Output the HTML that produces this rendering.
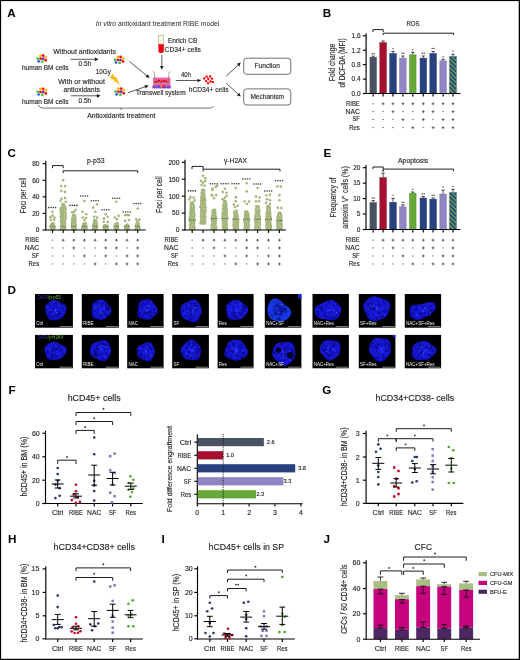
<!DOCTYPE html>
<html><head><meta charset="utf-8"><style>
html,body{margin:0;padding:0;background:#fff;}
body{width:520px;height:660px;overflow:hidden;}
svg{display:block;font-family:"Liberation Sans",sans-serif;will-change:transform;}
</style></head><body>
<svg width="520" height="660" viewBox="0 0 520 660">
<rect x="0" y="0" width="520" height="660" fill="#fff"/>
<text x="7.20" y="16.90" font-size="11.7" text-anchor="start" fill="#000" style="font-weight:bold;">A</text>
<text x="95.8" y="25.6" font-size="7.3" fill="#231f20" textLength="123.4" lengthAdjust="spacingAndGlyphs"><tspan style="font-style:italic">In vitro</tspan> antioxidant treatment RIBE model</text>
<circle cx="40.50" cy="55.60" r="1.35" fill="#ffb400"/>
<circle cx="43.20" cy="55.60" r="1.35" fill="#ff0000"/>
<circle cx="45.80" cy="57.00" r="1.35" fill="#ffb400"/>
<circle cx="37.70" cy="58.60" r="1.35" fill="#44bb33"/>
<circle cx="40.50" cy="58.70" r="1.35" fill="#ff0000"/>
<circle cx="43.20" cy="58.70" r="1.35" fill="#6a2aa8"/>
<circle cx="45.70" cy="60.20" r="1.35" fill="#ff0000"/>
<circle cx="38.70" cy="61.30" r="1.35" fill="#2255dd"/>
<circle cx="42.30" cy="61.70" r="1.35" fill="#44bb33"/>
<circle cx="40.50" cy="88.80" r="1.35" fill="#ffb400"/>
<circle cx="43.20" cy="88.80" r="1.35" fill="#ff0000"/>
<circle cx="45.80" cy="90.20" r="1.35" fill="#ffb400"/>
<circle cx="37.70" cy="91.80" r="1.35" fill="#44bb33"/>
<circle cx="40.50" cy="91.90" r="1.35" fill="#ff0000"/>
<circle cx="43.20" cy="91.90" r="1.35" fill="#6a2aa8"/>
<circle cx="45.70" cy="93.40" r="1.35" fill="#ff0000"/>
<circle cx="38.70" cy="94.50" r="1.35" fill="#2255dd"/>
<circle cx="42.30" cy="94.90" r="1.35" fill="#44bb33"/>
<circle cx="117.80" cy="56.80" r="1.35" fill="#ffb400"/>
<circle cx="120.50" cy="56.80" r="1.35" fill="#ff0000"/>
<circle cx="123.10" cy="58.20" r="1.35" fill="#ffb400"/>
<circle cx="115.00" cy="59.80" r="1.35" fill="#44bb33"/>
<circle cx="117.80" cy="59.90" r="1.35" fill="#ff0000"/>
<circle cx="120.50" cy="59.90" r="1.35" fill="#6a2aa8"/>
<circle cx="123.00" cy="61.40" r="1.35" fill="#ff0000"/>
<circle cx="116.00" cy="62.50" r="1.35" fill="#2255dd"/>
<circle cx="119.60" cy="62.90" r="1.35" fill="#44bb33"/>
<circle cx="118.50" cy="88.60" r="1.35" fill="#ffb400"/>
<circle cx="121.20" cy="88.60" r="1.35" fill="#ff0000"/>
<circle cx="123.80" cy="90.00" r="1.35" fill="#ffb400"/>
<circle cx="115.70" cy="91.60" r="1.35" fill="#44bb33"/>
<circle cx="118.50" cy="91.70" r="1.35" fill="#ff0000"/>
<circle cx="121.20" cy="91.70" r="1.35" fill="#6a2aa8"/>
<circle cx="123.70" cy="93.20" r="1.35" fill="#ff0000"/>
<circle cx="116.70" cy="94.30" r="1.35" fill="#2255dd"/>
<circle cx="120.30" cy="94.70" r="1.35" fill="#44bb33"/>
<text x="21.90" y="70.40" font-size="7.3" text-anchor="start" fill="#231f20" stroke="#231f20" stroke-width="0.14" textLength="46.60" lengthAdjust="spacingAndGlyphs" style="">human BM cells</text>
<text x="21.90" y="103.80" font-size="7.3" text-anchor="start" fill="#231f20" stroke="#231f20" stroke-width="0.14" textLength="46.60" lengthAdjust="spacingAndGlyphs" style="">human BM cells</text>
<text x="53.30" y="54.40" font-size="7.3" text-anchor="start" fill="#231f20" stroke="#231f20" stroke-width="0.14" textLength="62.60" lengthAdjust="spacingAndGlyphs" style="">Without antioxidants</text>
<text x="78.50" y="66.00" font-size="7.3" text-anchor="start" fill="#231f20" stroke="#231f20" stroke-width="0.14" textLength="12.80" lengthAdjust="spacingAndGlyphs" style="">0.5h</text>
<text x="58.20" y="84.20" font-size="7.3" text-anchor="start" fill="#231f20" stroke="#231f20" stroke-width="0.14" textLength="46.80" lengthAdjust="spacingAndGlyphs" style="">With or without</text>
<text x="63.50" y="91.60" font-size="7.3" text-anchor="start" fill="#231f20" stroke="#231f20" stroke-width="0.14" textLength="36.50" lengthAdjust="spacingAndGlyphs" style="">antioxidants</text>
<text x="78.50" y="103.40" font-size="7.3" text-anchor="start" fill="#231f20" stroke="#231f20" stroke-width="0.14" textLength="12.70" lengthAdjust="spacingAndGlyphs" style="">0.5h</text>
<text x="95.80" y="74.30" font-size="7.3" text-anchor="start" fill="#231f20" stroke="#231f20" stroke-width="0.14" textLength="15.00" lengthAdjust="spacingAndGlyphs" style="">10Gy</text>
<line x1="70.80" y1="59.30" x2="95.10" y2="59.30" stroke="#3c3c3c" stroke-width="0.85"/>
<path d="M98.50,59.30 L94.80,61.15 L94.80,57.45 Z" fill="#1a1a1a"/>
<line x1="71.00" y1="95.80" x2="97.20" y2="95.80" stroke="#3c3c3c" stroke-width="0.85"/>
<path d="M100.60,95.80 L96.90,97.65 L96.90,93.95 Z" fill="#1a1a1a"/>
<line x1="129.40" y1="61.50" x2="146.97" y2="75.85" stroke="#3c3c3c" stroke-width="0.85"/>
<path d="M149.60,78.00 L145.56,77.09 L147.90,74.23 Z" fill="#1a1a1a"/>
<line x1="128.00" y1="92.70" x2="145.39" y2="86.71" stroke="#3c3c3c" stroke-width="0.85"/>
<path d="M148.60,85.60 L145.70,88.55 L144.50,85.06 Z" fill="#1a1a1a"/>
<line x1="161.80" y1="55.00" x2="161.80" y2="66.40" stroke="#3c3c3c" stroke-width="0.85"/>
<path d="M161.80,69.80 L159.95,66.10 L163.65,66.10 Z" fill="#1a1a1a"/>
<line x1="175.80" y1="80.50" x2="197.80" y2="80.50" stroke="#3c3c3c" stroke-width="0.85"/>
<path d="M201.20,80.50 L197.50,82.35 L197.50,78.65 Z" fill="#1a1a1a"/>
<line x1="226.20" y1="76.20" x2="238.31" y2="64.92" stroke="#3c3c3c" stroke-width="0.85"/>
<path d="M240.80,62.60 L239.35,66.48 L236.83,63.77 Z" fill="#1a1a1a"/>
<line x1="226.20" y1="83.20" x2="238.30" y2="94.30" stroke="#3c3c3c" stroke-width="0.85"/>
<path d="M240.80,96.60 L236.82,95.46 L239.33,92.74 Z" fill="#1a1a1a"/>
<path d="M112.3,73.8 L114.6,77.0 L116.3,77.3 L117.7,80.3 L120.3,85.4 L116.6,82.0 L114.9,81.9 L113.3,79.6 L109.9,78.0 Z" fill="#ffb70c"/>
<rect x="158.4" y="35.3" width="5.4" height="9.2" fill="#fbf6d8" stroke="#999" stroke-width="0.5"/>
<path d="M158.4,44.3 H163.8 V51.2 Q163.8,52.9 161.1,52.9 Q158.4,52.9 158.4,51.2 Z" fill="#e8000b"/>
<text x="168.00" y="42.70" font-size="7.3" text-anchor="start" fill="#231f20" stroke="#231f20" stroke-width="0.14" textLength="29.30" lengthAdjust="spacingAndGlyphs" style="">Enrich CB</text>
<text x="164.60" y="51.50" font-size="7.3" text-anchor="start" fill="#231f20" stroke="#231f20" stroke-width="0.14" textLength="36.20" lengthAdjust="spacingAndGlyphs" style="">CD34+ cells</text>
<rect x="153.00" y="77.60" width="17.40" height="8.40" fill="#f0609c" stroke="none" stroke-width="0"/>
<rect x="152.40" y="85.70" width="18.40" height="2.70" fill="#9a30f0" stroke="none" stroke-width="0"/>
<path d="M152.7,71.3 Q154.4,71.6 154.6,74 L154.8,83.4 H168.6 L168.8,74 Q169,71.6 170.6,71.3" fill="none" stroke="#777" stroke-width="0.6"/>
<line x1="155.20" y1="83.50" x2="168.20" y2="83.50" stroke="#c8c8c8" stroke-width="0.6" stroke-dasharray="0.8,0.6"/>
<circle cx="156.20" cy="81.90" r="1.15" fill="#ff0000"/>
<circle cx="158.90" cy="80.90" r="1.15" fill="#ff0000"/>
<circle cx="161.40" cy="81.70" r="1.15" fill="#ff0000"/>
<circle cx="163.90" cy="80.90" r="1.15" fill="#ff0000"/>
<circle cx="166.30" cy="81.60" r="1.15" fill="#ff0000"/>
<circle cx="156.00" cy="86.50" r="1.0" fill="#33bb33"/>
<circle cx="158.80" cy="86.50" r="1.0" fill="#2255ee"/>
<circle cx="161.30" cy="86.50" r="1.0" fill="#ffb000"/>
<circle cx="163.80" cy="86.50" r="1.0" fill="#ff0000"/>
<circle cx="166.40" cy="86.50" r="1.0" fill="#33bb33"/>
<text x="135.90" y="95.40" font-size="7.3" text-anchor="start" fill="#231f20" stroke="#231f20" stroke-width="0.14" textLength="49.70" lengthAdjust="spacingAndGlyphs" style="">Transwell system</text>
<text x="181.00" y="77.30" font-size="7.3" text-anchor="start" fill="#231f20" stroke="#231f20" stroke-width="0.14" textLength="10.00" lengthAdjust="spacingAndGlyphs" style="">40h</text>
<circle cx="206.70" cy="76.60" r="1.2" fill="#ff0000"/>
<circle cx="210.10" cy="76.40" r="1.2" fill="#ff0000"/>
<circle cx="204.30" cy="78.40" r="1.2" fill="#ff0000"/>
<circle cx="208.30" cy="79.00" r="1.2" fill="#ff0000"/>
<circle cx="212.00" cy="78.60" r="1.2" fill="#ff0000"/>
<circle cx="206.10" cy="81.10" r="1.2" fill="#ff0000"/>
<circle cx="210.40" cy="81.40" r="1.2" fill="#ff0000"/>
<circle cx="212.80" cy="81.90" r="1.2" fill="#ff0000"/>
<circle cx="208.00" cy="83.10" r="1.2" fill="#ff0000"/>
<text x="188.80" y="92.30" font-size="7.3" text-anchor="start" fill="#231f20" stroke="#231f20" stroke-width="0.14" textLength="39.70" lengthAdjust="spacingAndGlyphs" style="">hCD34+ cells</text>
<rect x="243.7" y="58.2" width="47.1" height="16.1" rx="3" fill="none" stroke="#333" stroke-width="0.7"/>
<rect x="243.7" y="88.9" width="47.1" height="16.1" rx="3" fill="none" stroke="#333" stroke-width="0.7"/>
<text x="254.40" y="68.20" font-size="7.3" text-anchor="start" fill="#231f20" stroke="#231f20" stroke-width="0.14" textLength="25.60" lengthAdjust="spacingAndGlyphs" style="">Function</text>
<text x="250.40" y="98.90" font-size="7.3" text-anchor="start" fill="#231f20" stroke="#231f20" stroke-width="0.14" textLength="33.50" lengthAdjust="spacingAndGlyphs" style="">Mechanism</text>
<path d="M38.0,104.8 Q39.6,108.1 43.2,108.1 H209.4 Q212.0,108.1 213.5,106.5" fill="none" stroke="#444" stroke-width="0.75"/>
<path d="M121.0,108.1 V110.0" fill="none" stroke="#444" stroke-width="0.75"/>
<text x="87.30" y="118.20" font-size="7.3" text-anchor="start" fill="#231f20" stroke="#231f20" stroke-width="0.14" textLength="68.20" lengthAdjust="spacingAndGlyphs" style="">Antioxidants treatment</text>
<text x="322.80" y="17.30" font-size="11.7" text-anchor="start" fill="#000" style="font-weight:bold;">B</text>
<line x1="366.10" y1="33.20" x2="366.10" y2="94.08" stroke="#000" stroke-width="1.15"/>
<line x1="362.90" y1="93.50" x2="366.10" y2="93.50" stroke="#000" stroke-width="1.15"/>
<text x="360.60" y="95.84" font-size="6.5" text-anchor="end" fill="#231f20" stroke="#231f20" stroke-width="0.14" style="">0.0</text>
<line x1="362.90" y1="79.08" x2="366.10" y2="79.08" stroke="#000" stroke-width="1.15"/>
<text x="360.60" y="81.42" font-size="6.5" text-anchor="end" fill="#231f20" stroke="#231f20" stroke-width="0.14" style="">0.4</text>
<line x1="362.90" y1="64.65" x2="366.10" y2="64.65" stroke="#000" stroke-width="1.15"/>
<text x="360.60" y="66.99" font-size="6.5" text-anchor="end" fill="#231f20" stroke="#231f20" stroke-width="0.14" style="">0.8</text>
<line x1="362.90" y1="50.23" x2="366.10" y2="50.23" stroke="#000" stroke-width="1.15"/>
<text x="360.60" y="52.56" font-size="6.5" text-anchor="end" fill="#231f20" stroke="#231f20" stroke-width="0.14" style="">1.2</text>
<line x1="362.90" y1="35.80" x2="366.10" y2="35.80" stroke="#000" stroke-width="1.15"/>
<text x="360.60" y="38.14" font-size="6.5" text-anchor="end" fill="#231f20" stroke="#231f20" stroke-width="0.14" style="">1.6</text>
<rect x="369.95" y="57.25" width="6.50" height="36.25" fill="#4a5165" stroke="#3d4355" stroke-width="0.5"/>
<line x1="373.20" y1="57.00" x2="373.20" y2="56.20" stroke="#111" stroke-width="0.7"/>
<line x1="371.60" y1="56.20" x2="374.80" y2="56.20" stroke="#111" stroke-width="0.8"/>
<circle cx="372.25" cy="53.70" r="0.7" fill="#3a3a3a"/>
<circle cx="374.15" cy="53.70" r="0.7" fill="#3a3a3a"/>
<rect x="379.85" y="42.65" width="6.50" height="50.85" fill="#a60f2d" stroke="#8f0a25" stroke-width="0.5"/>
<line x1="383.10" y1="42.40" x2="383.10" y2="41.00" stroke="#111" stroke-width="0.7"/>
<line x1="381.50" y1="41.00" x2="384.70" y2="41.00" stroke="#111" stroke-width="0.8"/>
<rect x="389.75" y="53.55" width="6.50" height="39.95" fill="#27427e" stroke="#1d3566" stroke-width="0.5"/>
<line x1="393.00" y1="53.30" x2="393.00" y2="51.50" stroke="#111" stroke-width="0.7"/>
<line x1="391.40" y1="51.50" x2="394.60" y2="51.50" stroke="#111" stroke-width="0.8"/>
<circle cx="393.00" cy="48.80" r="0.7" fill="#3a3a3a"/>
<rect x="399.65" y="58.15" width="6.50" height="35.35" fill="#8e86c2" stroke="#7a70b0" stroke-width="0.5"/>
<line x1="402.90" y1="57.90" x2="402.90" y2="56.00" stroke="#111" stroke-width="0.7"/>
<line x1="401.30" y1="56.00" x2="404.50" y2="56.00" stroke="#111" stroke-width="0.8"/>
<circle cx="401.95" cy="53.30" r="0.7" fill="#3a3a3a"/>
<circle cx="403.85" cy="53.30" r="0.7" fill="#3a3a3a"/>
<rect x="409.55" y="54.85" width="6.50" height="38.65" fill="#67a83a" stroke="#4f8a2a" stroke-width="0.5"/>
<line x1="412.80" y1="54.60" x2="412.80" y2="52.40" stroke="#111" stroke-width="0.7"/>
<line x1="411.20" y1="52.40" x2="414.40" y2="52.40" stroke="#111" stroke-width="0.8"/>
<circle cx="412.80" cy="49.70" r="0.7" fill="#3a3a3a"/>
<rect x="420.05" y="58.15" width="6.50" height="35.35" fill="#27427e" stroke="#1d3566" stroke-width="0.5"/>
<line x1="423.30" y1="57.90" x2="423.30" y2="56.00" stroke="#111" stroke-width="0.7"/>
<line x1="421.70" y1="56.00" x2="424.90" y2="56.00" stroke="#111" stroke-width="0.8"/>
<circle cx="422.35" cy="53.30" r="0.7" fill="#3a3a3a"/>
<circle cx="424.25" cy="53.30" r="0.7" fill="#3a3a3a"/>
<rect x="429.85" y="53.55" width="6.50" height="39.95" fill="#27427e" stroke="#1d3566" stroke-width="0.5"/>
<line x1="433.10" y1="53.30" x2="433.10" y2="51.50" stroke="#111" stroke-width="0.7"/>
<line x1="431.50" y1="51.50" x2="434.70" y2="51.50" stroke="#111" stroke-width="0.8"/>
<circle cx="432.15" cy="48.40" r="0.7" fill="#3a3a3a"/>
<circle cx="434.05" cy="48.40" r="0.7" fill="#3a3a3a"/>
<rect x="439.85" y="60.85" width="6.50" height="32.65" fill="#8e86c2" stroke="#7a70b0" stroke-width="0.5"/>
<line x1="443.10" y1="60.60" x2="443.10" y2="59.30" stroke="#111" stroke-width="0.7"/>
<line x1="441.50" y1="59.30" x2="444.70" y2="59.30" stroke="#111" stroke-width="0.8"/>
<circle cx="443.10" cy="57.00" r="0.7" fill="#3a3a3a"/>
<rect x="449.75" y="56.65" width="6.50" height="36.85" fill="url(#stripe)" stroke="#2b4a6a" stroke-width="0.5"/>
<line x1="453.00" y1="56.40" x2="453.00" y2="54.30" stroke="#111" stroke-width="0.7"/>
<line x1="451.40" y1="54.30" x2="454.60" y2="54.30" stroke="#111" stroke-width="0.8"/>
<circle cx="453.00" cy="51.00" r="0.7" fill="#3a3a3a"/>
<line x1="363.20" y1="93.50" x2="460.50" y2="93.50" stroke="#000" stroke-width="1.15"/>
<line x1="373.20" y1="93.50" x2="373.20" y2="96.40" stroke="#000" stroke-width="1.15"/>
<line x1="383.10" y1="93.50" x2="383.10" y2="96.40" stroke="#000" stroke-width="1.15"/>
<line x1="393.00" y1="93.50" x2="393.00" y2="96.40" stroke="#000" stroke-width="1.15"/>
<line x1="402.90" y1="93.50" x2="402.90" y2="96.40" stroke="#000" stroke-width="1.15"/>
<line x1="412.80" y1="93.50" x2="412.80" y2="96.40" stroke="#000" stroke-width="1.15"/>
<line x1="423.30" y1="93.50" x2="423.30" y2="96.40" stroke="#000" stroke-width="1.15"/>
<line x1="433.10" y1="93.50" x2="433.10" y2="96.40" stroke="#000" stroke-width="1.15"/>
<line x1="443.10" y1="93.50" x2="443.10" y2="96.40" stroke="#000" stroke-width="1.15"/>
<line x1="453.00" y1="93.50" x2="453.00" y2="96.40" stroke="#000" stroke-width="1.15"/>
<path d="M372.90,32.00 V29.60 H383.20 V32.00" fill="none" stroke="#1e1e1e" stroke-width="1.0"/>
<path d="M383.20,35.00 V33.20 H453.60 V35.00" fill="none" stroke="#1e1e1e" stroke-width="1.0"/>
<text x="406.50" y="25.80" font-size="6.8" text-anchor="start" fill="#231f20" stroke="#231f20" stroke-width="0.14" textLength="13.10" lengthAdjust="spacingAndGlyphs" style="">ROS</text>
<text transform="translate(331.60,62.50) rotate(-90)" x="0" y="2.95" font-size="8.2" text-anchor="middle" fill="#231f20" stroke="#231f20" stroke-width="0.14" textLength="37.40" lengthAdjust="spacingAndGlyphs">Fold change</text>
<text transform="translate(342.20,63.00) rotate(-90)" x="0" y="2.95" font-size="8.2" text-anchor="middle" fill="#231f20" stroke="#231f20" stroke-width="0.14" textLength="49.20" lengthAdjust="spacingAndGlyphs">of DCF-DA (MFI)</text>
<text x="359.80" y="105.60" font-size="6.7" text-anchor="end" fill="#231f20" stroke="#231f20" stroke-width="0.14" textLength="13.80" lengthAdjust="spacingAndGlyphs" style="">RIBE</text>
<line x1="372.35" y1="103.75" x2="374.05" y2="103.75" stroke="#444" stroke-width="0.7"/>
<line x1="381.65" y1="103.75" x2="384.55" y2="103.75" stroke="#333" stroke-width="0.7"/>
<line x1="383.10" y1="102.30" x2="383.10" y2="105.20" stroke="#333" stroke-width="0.7"/>
<line x1="391.55" y1="103.75" x2="394.45" y2="103.75" stroke="#333" stroke-width="0.7"/>
<line x1="393.00" y1="102.30" x2="393.00" y2="105.20" stroke="#333" stroke-width="0.7"/>
<line x1="401.45" y1="103.75" x2="404.35" y2="103.75" stroke="#333" stroke-width="0.7"/>
<line x1="402.90" y1="102.30" x2="402.90" y2="105.20" stroke="#333" stroke-width="0.7"/>
<line x1="411.35" y1="103.75" x2="414.25" y2="103.75" stroke="#333" stroke-width="0.7"/>
<line x1="412.80" y1="102.30" x2="412.80" y2="105.20" stroke="#333" stroke-width="0.7"/>
<line x1="421.85" y1="103.75" x2="424.75" y2="103.75" stroke="#333" stroke-width="0.7"/>
<line x1="423.30" y1="102.30" x2="423.30" y2="105.20" stroke="#333" stroke-width="0.7"/>
<line x1="431.65" y1="103.75" x2="434.55" y2="103.75" stroke="#333" stroke-width="0.7"/>
<line x1="433.10" y1="102.30" x2="433.10" y2="105.20" stroke="#333" stroke-width="0.7"/>
<line x1="441.65" y1="103.75" x2="444.55" y2="103.75" stroke="#333" stroke-width="0.7"/>
<line x1="443.10" y1="102.30" x2="443.10" y2="105.20" stroke="#333" stroke-width="0.7"/>
<line x1="451.55" y1="103.75" x2="454.45" y2="103.75" stroke="#333" stroke-width="0.7"/>
<line x1="453.00" y1="102.30" x2="453.00" y2="105.20" stroke="#333" stroke-width="0.7"/>
<text x="359.80" y="113.50" font-size="6.7" text-anchor="end" fill="#231f20" stroke="#231f20" stroke-width="0.14" textLength="14.30" lengthAdjust="spacingAndGlyphs" style="">NAC</text>
<line x1="372.35" y1="111.65" x2="374.05" y2="111.65" stroke="#444" stroke-width="0.7"/>
<line x1="382.25" y1="111.65" x2="383.95" y2="111.65" stroke="#444" stroke-width="0.7"/>
<line x1="391.55" y1="111.65" x2="394.45" y2="111.65" stroke="#333" stroke-width="0.7"/>
<line x1="393.00" y1="110.20" x2="393.00" y2="113.10" stroke="#333" stroke-width="0.7"/>
<line x1="402.05" y1="111.65" x2="403.75" y2="111.65" stroke="#444" stroke-width="0.7"/>
<line x1="411.95" y1="111.65" x2="413.65" y2="111.65" stroke="#444" stroke-width="0.7"/>
<line x1="421.85" y1="111.65" x2="424.75" y2="111.65" stroke="#333" stroke-width="0.7"/>
<line x1="423.30" y1="110.20" x2="423.30" y2="113.10" stroke="#333" stroke-width="0.7"/>
<line x1="431.65" y1="111.65" x2="434.55" y2="111.65" stroke="#333" stroke-width="0.7"/>
<line x1="433.10" y1="110.20" x2="433.10" y2="113.10" stroke="#333" stroke-width="0.7"/>
<line x1="442.25" y1="111.65" x2="443.95" y2="111.65" stroke="#444" stroke-width="0.7"/>
<line x1="451.55" y1="111.65" x2="454.45" y2="111.65" stroke="#333" stroke-width="0.7"/>
<line x1="453.00" y1="110.20" x2="453.00" y2="113.10" stroke="#333" stroke-width="0.7"/>
<text x="359.80" y="121.40" font-size="6.7" text-anchor="end" fill="#231f20" stroke="#231f20" stroke-width="0.14" textLength="7.40" lengthAdjust="spacingAndGlyphs" style="">SF</text>
<line x1="372.35" y1="119.55" x2="374.05" y2="119.55" stroke="#444" stroke-width="0.7"/>
<line x1="382.25" y1="119.55" x2="383.95" y2="119.55" stroke="#444" stroke-width="0.7"/>
<line x1="392.15" y1="119.55" x2="393.85" y2="119.55" stroke="#444" stroke-width="0.7"/>
<line x1="401.45" y1="119.55" x2="404.35" y2="119.55" stroke="#333" stroke-width="0.7"/>
<line x1="402.90" y1="118.10" x2="402.90" y2="121.00" stroke="#333" stroke-width="0.7"/>
<line x1="411.95" y1="119.55" x2="413.65" y2="119.55" stroke="#444" stroke-width="0.7"/>
<line x1="421.85" y1="119.55" x2="424.75" y2="119.55" stroke="#333" stroke-width="0.7"/>
<line x1="423.30" y1="118.10" x2="423.30" y2="121.00" stroke="#333" stroke-width="0.7"/>
<line x1="432.25" y1="119.55" x2="433.95" y2="119.55" stroke="#444" stroke-width="0.7"/>
<line x1="441.65" y1="119.55" x2="444.55" y2="119.55" stroke="#333" stroke-width="0.7"/>
<line x1="443.10" y1="118.10" x2="443.10" y2="121.00" stroke="#333" stroke-width="0.7"/>
<line x1="451.55" y1="119.55" x2="454.45" y2="119.55" stroke="#333" stroke-width="0.7"/>
<line x1="453.00" y1="118.10" x2="453.00" y2="121.00" stroke="#333" stroke-width="0.7"/>
<text x="359.80" y="129.50" font-size="6.7" text-anchor="end" fill="#231f20" stroke="#231f20" stroke-width="0.14" textLength="10.50" lengthAdjust="spacingAndGlyphs" style="">Res</text>
<line x1="372.35" y1="127.65" x2="374.05" y2="127.65" stroke="#444" stroke-width="0.7"/>
<line x1="382.25" y1="127.65" x2="383.95" y2="127.65" stroke="#444" stroke-width="0.7"/>
<line x1="392.15" y1="127.65" x2="393.85" y2="127.65" stroke="#444" stroke-width="0.7"/>
<line x1="402.05" y1="127.65" x2="403.75" y2="127.65" stroke="#444" stroke-width="0.7"/>
<line x1="411.35" y1="127.65" x2="414.25" y2="127.65" stroke="#333" stroke-width="0.7"/>
<line x1="412.80" y1="126.20" x2="412.80" y2="129.10" stroke="#333" stroke-width="0.7"/>
<line x1="422.45" y1="127.65" x2="424.15" y2="127.65" stroke="#444" stroke-width="0.7"/>
<line x1="431.65" y1="127.65" x2="434.55" y2="127.65" stroke="#333" stroke-width="0.7"/>
<line x1="433.10" y1="126.20" x2="433.10" y2="129.10" stroke="#333" stroke-width="0.7"/>
<line x1="441.65" y1="127.65" x2="444.55" y2="127.65" stroke="#333" stroke-width="0.7"/>
<line x1="443.10" y1="126.20" x2="443.10" y2="129.10" stroke="#333" stroke-width="0.7"/>
<line x1="451.55" y1="127.65" x2="454.45" y2="127.65" stroke="#333" stroke-width="0.7"/>
<line x1="453.00" y1="126.20" x2="453.00" y2="129.10" stroke="#333" stroke-width="0.7"/>
<text x="323.60" y="157.30" font-size="11.7" text-anchor="start" fill="#000" style="font-weight:bold;">E</text>
<line x1="366.00" y1="165.00" x2="366.00" y2="230.07" stroke="#000" stroke-width="1.15"/>
<line x1="362.80" y1="229.50" x2="366.00" y2="229.50" stroke="#000" stroke-width="1.15"/>
<text x="360.40" y="231.84" font-size="6.5" text-anchor="end" fill="#231f20" stroke="#231f20" stroke-width="0.14" style="">0</text>
<line x1="362.80" y1="214.05" x2="366.00" y2="214.05" stroke="#000" stroke-width="1.15"/>
<text x="360.40" y="216.39" font-size="6.5" text-anchor="end" fill="#231f20" stroke="#231f20" stroke-width="0.14" style="">5</text>
<line x1="362.80" y1="198.60" x2="366.00" y2="198.60" stroke="#000" stroke-width="1.15"/>
<text x="360.40" y="200.94" font-size="6.5" text-anchor="end" fill="#231f20" stroke="#231f20" stroke-width="0.14" style="">10</text>
<line x1="362.80" y1="183.15" x2="366.00" y2="183.15" stroke="#000" stroke-width="1.15"/>
<text x="360.40" y="185.49" font-size="6.5" text-anchor="end" fill="#231f20" stroke="#231f20" stroke-width="0.14" style="">15</text>
<line x1="362.80" y1="167.70" x2="366.00" y2="167.70" stroke="#000" stroke-width="1.15"/>
<text x="360.40" y="170.04" font-size="6.5" text-anchor="end" fill="#231f20" stroke="#231f20" stroke-width="0.14" style="">20</text>
<rect x="369.95" y="202.65" width="6.50" height="26.85" fill="#4a5165" stroke="#3d4355" stroke-width="0.5"/>
<line x1="373.20" y1="202.40" x2="373.20" y2="200.60" stroke="#111" stroke-width="0.7"/>
<line x1="371.60" y1="200.60" x2="374.80" y2="200.60" stroke="#111" stroke-width="0.8"/>
<circle cx="372.25" cy="198.00" r="0.7" fill="#3a3a3a"/>
<circle cx="374.15" cy="198.00" r="0.7" fill="#3a3a3a"/>
<rect x="379.85" y="177.65" width="6.50" height="51.85" fill="#a60f2d" stroke="#8f0a25" stroke-width="0.5"/>
<line x1="383.10" y1="177.40" x2="383.10" y2="173.20" stroke="#111" stroke-width="0.7"/>
<line x1="381.50" y1="173.20" x2="384.70" y2="173.20" stroke="#111" stroke-width="0.8"/>
<circle cx="383.10" cy="171.00" r="0.7" fill="#3a3a3a"/>
<rect x="389.75" y="202.25" width="6.50" height="27.25" fill="#27427e" stroke="#1d3566" stroke-width="0.5"/>
<line x1="393.00" y1="202.00" x2="393.00" y2="198.40" stroke="#111" stroke-width="0.7"/>
<line x1="391.40" y1="198.40" x2="394.60" y2="198.40" stroke="#111" stroke-width="0.8"/>
<circle cx="393.00" cy="195.10" r="0.7" fill="#3a3a3a"/>
<rect x="399.65" y="206.85" width="6.50" height="22.65" fill="#8e86c2" stroke="#7a70b0" stroke-width="0.5"/>
<line x1="402.90" y1="206.60" x2="402.90" y2="204.80" stroke="#111" stroke-width="0.7"/>
<line x1="401.30" y1="204.80" x2="404.50" y2="204.80" stroke="#111" stroke-width="0.8"/>
<circle cx="401.95" cy="202.40" r="0.7" fill="#3a3a3a"/>
<circle cx="403.85" cy="202.40" r="0.7" fill="#3a3a3a"/>
<rect x="409.55" y="193.15" width="6.50" height="36.35" fill="#67a83a" stroke="#4f8a2a" stroke-width="0.5"/>
<line x1="412.80" y1="192.90" x2="412.80" y2="192.00" stroke="#111" stroke-width="0.7"/>
<line x1="411.20" y1="192.00" x2="414.40" y2="192.00" stroke="#111" stroke-width="0.8"/>
<circle cx="412.80" cy="189.30" r="0.7" fill="#3a3a3a"/>
<rect x="420.05" y="198.05" width="6.50" height="31.45" fill="#27427e" stroke="#1d3566" stroke-width="0.5"/>
<line x1="423.30" y1="197.80" x2="423.30" y2="196.60" stroke="#111" stroke-width="0.7"/>
<line x1="421.70" y1="196.60" x2="424.90" y2="196.60" stroke="#111" stroke-width="0.8"/>
<circle cx="422.35" cy="193.80" r="0.7" fill="#3a3a3a"/>
<circle cx="424.25" cy="193.80" r="0.7" fill="#3a3a3a"/>
<rect x="429.85" y="199.15" width="6.50" height="30.35" fill="#27427e" stroke="#1d3566" stroke-width="0.5"/>
<line x1="433.10" y1="198.90" x2="433.10" y2="198.00" stroke="#111" stroke-width="0.7"/>
<line x1="431.50" y1="198.00" x2="434.70" y2="198.00" stroke="#111" stroke-width="0.8"/>
<circle cx="432.15" cy="195.30" r="0.7" fill="#3a3a3a"/>
<circle cx="434.05" cy="195.30" r="0.7" fill="#3a3a3a"/>
<rect x="439.85" y="194.05" width="6.50" height="35.45" fill="#8e86c2" stroke="#7a70b0" stroke-width="0.5"/>
<line x1="443.10" y1="193.80" x2="443.10" y2="190.20" stroke="#111" stroke-width="0.7"/>
<line x1="441.50" y1="190.20" x2="444.70" y2="190.20" stroke="#111" stroke-width="0.8"/>
<circle cx="443.10" cy="187.00" r="0.7" fill="#3a3a3a"/>
<rect x="449.75" y="192.65" width="6.50" height="36.85" fill="url(#stripe)" stroke="#2b4a6a" stroke-width="0.5"/>
<line x1="453.00" y1="192.40" x2="453.00" y2="189.30" stroke="#111" stroke-width="0.7"/>
<line x1="451.40" y1="189.30" x2="454.60" y2="189.30" stroke="#111" stroke-width="0.8"/>
<circle cx="453.00" cy="186.50" r="0.7" fill="#3a3a3a"/>
<line x1="366.00" y1="229.50" x2="460.50" y2="229.50" stroke="#000" stroke-width="1.15"/>
<line x1="373.20" y1="229.50" x2="373.20" y2="232.40" stroke="#000" stroke-width="1.15"/>
<line x1="383.10" y1="229.50" x2="383.10" y2="232.40" stroke="#000" stroke-width="1.15"/>
<line x1="393.00" y1="229.50" x2="393.00" y2="232.40" stroke="#000" stroke-width="1.15"/>
<line x1="402.90" y1="229.50" x2="402.90" y2="232.40" stroke="#000" stroke-width="1.15"/>
<line x1="412.80" y1="229.50" x2="412.80" y2="232.40" stroke="#000" stroke-width="1.15"/>
<line x1="423.30" y1="229.50" x2="423.30" y2="232.40" stroke="#000" stroke-width="1.15"/>
<line x1="433.10" y1="229.50" x2="433.10" y2="232.40" stroke="#000" stroke-width="1.15"/>
<line x1="443.10" y1="229.50" x2="443.10" y2="232.40" stroke="#000" stroke-width="1.15"/>
<line x1="453.00" y1="229.50" x2="453.00" y2="232.40" stroke="#000" stroke-width="1.15"/>
<path d="M372.90,169.20 V167.00 H383.20 V169.20" fill="none" stroke="#1e1e1e" stroke-width="1.0"/>
<path d="M383.20,171.20 V169.10 H453.60 V171.20" fill="none" stroke="#1e1e1e" stroke-width="1.0"/>
<text x="398.00" y="162.60" font-size="6.8" text-anchor="start" fill="#231f20" stroke="#231f20" stroke-width="0.14" textLength="30.20" lengthAdjust="spacingAndGlyphs" style="">Apoptosis</text>
<text transform="translate(333.40,197.50) rotate(-90)" x="0" y="3.02" font-size="8.4" text-anchor="middle" fill="#231f20" stroke="#231f20" stroke-width="0.14" textLength="39.80" lengthAdjust="spacingAndGlyphs">Frequency of</text>
<text transform="translate(344.80,197.50) rotate(-90)" x="0" y="3.02" font-size="8.4" text-anchor="middle" fill="#231f20" stroke="#231f20" stroke-width="0.14" textLength="62.50" lengthAdjust="spacingAndGlyphs">annexin V⁺ cells (%)</text>
<text x="359.60" y="242.00" font-size="6.7" text-anchor="end" fill="#231f20" stroke="#231f20" stroke-width="0.14" textLength="13.80" lengthAdjust="spacingAndGlyphs" style="">RIBE</text>
<line x1="372.35" y1="240.15" x2="374.05" y2="240.15" stroke="#444" stroke-width="0.7"/>
<line x1="381.65" y1="240.15" x2="384.55" y2="240.15" stroke="#333" stroke-width="0.7"/>
<line x1="383.10" y1="238.70" x2="383.10" y2="241.60" stroke="#333" stroke-width="0.7"/>
<line x1="391.55" y1="240.15" x2="394.45" y2="240.15" stroke="#333" stroke-width="0.7"/>
<line x1="393.00" y1="238.70" x2="393.00" y2="241.60" stroke="#333" stroke-width="0.7"/>
<line x1="401.45" y1="240.15" x2="404.35" y2="240.15" stroke="#333" stroke-width="0.7"/>
<line x1="402.90" y1="238.70" x2="402.90" y2="241.60" stroke="#333" stroke-width="0.7"/>
<line x1="411.35" y1="240.15" x2="414.25" y2="240.15" stroke="#333" stroke-width="0.7"/>
<line x1="412.80" y1="238.70" x2="412.80" y2="241.60" stroke="#333" stroke-width="0.7"/>
<line x1="421.85" y1="240.15" x2="424.75" y2="240.15" stroke="#333" stroke-width="0.7"/>
<line x1="423.30" y1="238.70" x2="423.30" y2="241.60" stroke="#333" stroke-width="0.7"/>
<line x1="431.65" y1="240.15" x2="434.55" y2="240.15" stroke="#333" stroke-width="0.7"/>
<line x1="433.10" y1="238.70" x2="433.10" y2="241.60" stroke="#333" stroke-width="0.7"/>
<line x1="441.65" y1="240.15" x2="444.55" y2="240.15" stroke="#333" stroke-width="0.7"/>
<line x1="443.10" y1="238.70" x2="443.10" y2="241.60" stroke="#333" stroke-width="0.7"/>
<line x1="451.55" y1="240.15" x2="454.45" y2="240.15" stroke="#333" stroke-width="0.7"/>
<line x1="453.00" y1="238.70" x2="453.00" y2="241.60" stroke="#333" stroke-width="0.7"/>
<text x="359.60" y="249.80" font-size="6.7" text-anchor="end" fill="#231f20" stroke="#231f20" stroke-width="0.14" textLength="14.30" lengthAdjust="spacingAndGlyphs" style="">NAC</text>
<line x1="372.35" y1="247.95" x2="374.05" y2="247.95" stroke="#444" stroke-width="0.7"/>
<line x1="382.25" y1="247.95" x2="383.95" y2="247.95" stroke="#444" stroke-width="0.7"/>
<line x1="391.55" y1="247.95" x2="394.45" y2="247.95" stroke="#333" stroke-width="0.7"/>
<line x1="393.00" y1="246.50" x2="393.00" y2="249.40" stroke="#333" stroke-width="0.7"/>
<line x1="402.05" y1="247.95" x2="403.75" y2="247.95" stroke="#444" stroke-width="0.7"/>
<line x1="411.95" y1="247.95" x2="413.65" y2="247.95" stroke="#444" stroke-width="0.7"/>
<line x1="421.85" y1="247.95" x2="424.75" y2="247.95" stroke="#333" stroke-width="0.7"/>
<line x1="423.30" y1="246.50" x2="423.30" y2="249.40" stroke="#333" stroke-width="0.7"/>
<line x1="431.65" y1="247.95" x2="434.55" y2="247.95" stroke="#333" stroke-width="0.7"/>
<line x1="433.10" y1="246.50" x2="433.10" y2="249.40" stroke="#333" stroke-width="0.7"/>
<line x1="442.25" y1="247.95" x2="443.95" y2="247.95" stroke="#444" stroke-width="0.7"/>
<line x1="451.55" y1="247.95" x2="454.45" y2="247.95" stroke="#333" stroke-width="0.7"/>
<line x1="453.00" y1="246.50" x2="453.00" y2="249.40" stroke="#333" stroke-width="0.7"/>
<text x="359.60" y="257.80" font-size="6.7" text-anchor="end" fill="#231f20" stroke="#231f20" stroke-width="0.14" textLength="7.40" lengthAdjust="spacingAndGlyphs" style="">SF</text>
<line x1="372.35" y1="255.95" x2="374.05" y2="255.95" stroke="#444" stroke-width="0.7"/>
<line x1="382.25" y1="255.95" x2="383.95" y2="255.95" stroke="#444" stroke-width="0.7"/>
<line x1="392.15" y1="255.95" x2="393.85" y2="255.95" stroke="#444" stroke-width="0.7"/>
<line x1="401.45" y1="255.95" x2="404.35" y2="255.95" stroke="#333" stroke-width="0.7"/>
<line x1="402.90" y1="254.50" x2="402.90" y2="257.40" stroke="#333" stroke-width="0.7"/>
<line x1="411.95" y1="255.95" x2="413.65" y2="255.95" stroke="#444" stroke-width="0.7"/>
<line x1="421.85" y1="255.95" x2="424.75" y2="255.95" stroke="#333" stroke-width="0.7"/>
<line x1="423.30" y1="254.50" x2="423.30" y2="257.40" stroke="#333" stroke-width="0.7"/>
<line x1="432.25" y1="255.95" x2="433.95" y2="255.95" stroke="#444" stroke-width="0.7"/>
<line x1="441.65" y1="255.95" x2="444.55" y2="255.95" stroke="#333" stroke-width="0.7"/>
<line x1="443.10" y1="254.50" x2="443.10" y2="257.40" stroke="#333" stroke-width="0.7"/>
<line x1="451.55" y1="255.95" x2="454.45" y2="255.95" stroke="#333" stroke-width="0.7"/>
<line x1="453.00" y1="254.50" x2="453.00" y2="257.40" stroke="#333" stroke-width="0.7"/>
<text x="359.60" y="265.80" font-size="6.7" text-anchor="end" fill="#231f20" stroke="#231f20" stroke-width="0.14" textLength="10.50" lengthAdjust="spacingAndGlyphs" style="">Res</text>
<line x1="372.35" y1="263.95" x2="374.05" y2="263.95" stroke="#444" stroke-width="0.7"/>
<line x1="382.25" y1="263.95" x2="383.95" y2="263.95" stroke="#444" stroke-width="0.7"/>
<line x1="392.15" y1="263.95" x2="393.85" y2="263.95" stroke="#444" stroke-width="0.7"/>
<line x1="402.05" y1="263.95" x2="403.75" y2="263.95" stroke="#444" stroke-width="0.7"/>
<line x1="411.35" y1="263.95" x2="414.25" y2="263.95" stroke="#333" stroke-width="0.7"/>
<line x1="412.80" y1="262.50" x2="412.80" y2="265.40" stroke="#333" stroke-width="0.7"/>
<line x1="422.45" y1="263.95" x2="424.15" y2="263.95" stroke="#444" stroke-width="0.7"/>
<line x1="431.65" y1="263.95" x2="434.55" y2="263.95" stroke="#333" stroke-width="0.7"/>
<line x1="433.10" y1="262.50" x2="433.10" y2="265.40" stroke="#333" stroke-width="0.7"/>
<line x1="441.65" y1="263.95" x2="444.55" y2="263.95" stroke="#333" stroke-width="0.7"/>
<line x1="443.10" y1="262.50" x2="443.10" y2="265.40" stroke="#333" stroke-width="0.7"/>
<line x1="451.55" y1="263.95" x2="454.45" y2="263.95" stroke="#333" stroke-width="0.7"/>
<line x1="453.00" y1="262.50" x2="453.00" y2="265.40" stroke="#333" stroke-width="0.7"/>
<text x="7.60" y="157.10" font-size="11.7" text-anchor="start" fill="#000" style="font-weight:bold;">C</text>
<line x1="45.80" y1="160.80" x2="45.80" y2="230.57" stroke="#000" stroke-width="1.15"/>
<line x1="42.60" y1="230.00" x2="45.80" y2="230.00" stroke="#000" stroke-width="1.15"/>
<text x="39.50" y="232.38" font-size="6.6" text-anchor="end" fill="#231f20" stroke="#231f20" stroke-width="0.14" style="">0</text>
<line x1="42.60" y1="213.43" x2="45.80" y2="213.43" stroke="#000" stroke-width="1.15"/>
<text x="39.50" y="215.80" font-size="6.6" text-anchor="end" fill="#231f20" stroke="#231f20" stroke-width="0.14" style="">20</text>
<line x1="42.60" y1="196.85" x2="45.80" y2="196.85" stroke="#000" stroke-width="1.15"/>
<text x="39.50" y="199.23" font-size="6.6" text-anchor="end" fill="#231f20" stroke="#231f20" stroke-width="0.14" style="">40</text>
<line x1="42.60" y1="180.27" x2="45.80" y2="180.27" stroke="#000" stroke-width="1.15"/>
<text x="39.50" y="182.65" font-size="6.6" text-anchor="end" fill="#231f20" stroke="#231f20" stroke-width="0.14" style="">60</text>
<line x1="42.60" y1="163.70" x2="45.80" y2="163.70" stroke="#000" stroke-width="1.15"/>
<text x="39.50" y="166.08" font-size="6.6" text-anchor="end" fill="#231f20" stroke="#231f20" stroke-width="0.14" style="">80</text>
<circle cx="51.04" cy="229.27" r="1.3" fill="#a4b67c"/>
<circle cx="52.44" cy="228.92" r="1.3" fill="#a4b67c"/>
<circle cx="54.21" cy="229.02" r="1.3" fill="#a4b67c"/>
<circle cx="51.00" cy="227.20" r="1.3" fill="#a4b67c"/>
<circle cx="52.48" cy="227.40" r="1.3" fill="#a4b67c"/>
<circle cx="54.49" cy="227.34" r="1.3" fill="#a4b67c"/>
<circle cx="50.70" cy="225.77" r="1.3" fill="#a4b67c"/>
<circle cx="52.58" cy="225.42" r="1.3" fill="#a4b67c"/>
<circle cx="54.43" cy="225.93" r="1.3" fill="#a4b67c"/>
<circle cx="51.48" cy="224.12" r="1.3" fill="#a4b67c"/>
<circle cx="53.61" cy="224.00" r="1.3" fill="#a4b67c"/>
<circle cx="53.14" cy="223.01" r="1.3" fill="#a4b67c"/>
<circle cx="52.50" cy="211.77" r="1.3" fill="#a4b67c"/>
<circle cx="50.50" cy="217.15" r="1.3" fill="#a4b67c"/>
<circle cx="54.50" cy="217.57" r="1.3" fill="#a4b67c"/>
<circle cx="52.50" cy="215.50" r="1.3" fill="#a4b67c"/>
<circle cx="50.90" cy="220.06" r="1.3" fill="#a4b67c"/>
<circle cx="54.10" cy="219.64" r="1.3" fill="#a4b67c"/>
<line x1="49.70" y1="226.30" x2="55.30" y2="226.30" stroke="#333" stroke-width="0.6" stroke-dasharray="1.1,0.8"/>
<circle cx="61.09" cy="229.33" r="1.3" fill="#a4b67c"/>
<circle cx="63.33" cy="228.92" r="1.3" fill="#a4b67c"/>
<circle cx="64.95" cy="229.05" r="1.3" fill="#a4b67c"/>
<circle cx="61.46" cy="227.54" r="1.3" fill="#a4b67c"/>
<circle cx="62.87" cy="227.01" r="1.3" fill="#a4b67c"/>
<circle cx="65.19" cy="227.29" r="1.3" fill="#a4b67c"/>
<circle cx="61.53" cy="225.24" r="1.3" fill="#a4b67c"/>
<circle cx="63.11" cy="225.75" r="1.3" fill="#a4b67c"/>
<circle cx="64.76" cy="225.90" r="1.3" fill="#a4b67c"/>
<circle cx="61.63" cy="223.51" r="1.3" fill="#a4b67c"/>
<circle cx="62.82" cy="223.87" r="1.3" fill="#a4b67c"/>
<circle cx="65.26" cy="223.76" r="1.3" fill="#a4b67c"/>
<circle cx="61.15" cy="222.04" r="1.3" fill="#a4b67c"/>
<circle cx="62.82" cy="221.90" r="1.3" fill="#a4b67c"/>
<circle cx="64.91" cy="222.09" r="1.3" fill="#a4b67c"/>
<circle cx="61.16" cy="220.15" r="1.3" fill="#a4b67c"/>
<circle cx="62.95" cy="220.31" r="1.3" fill="#a4b67c"/>
<circle cx="64.80" cy="220.01" r="1.3" fill="#a4b67c"/>
<circle cx="61.19" cy="218.63" r="1.3" fill="#a4b67c"/>
<circle cx="63.25" cy="218.37" r="1.3" fill="#a4b67c"/>
<circle cx="65.69" cy="218.84" r="1.3" fill="#a4b67c"/>
<circle cx="60.68" cy="216.72" r="1.3" fill="#a4b67c"/>
<circle cx="63.31" cy="216.99" r="1.3" fill="#a4b67c"/>
<circle cx="65.66" cy="216.79" r="1.3" fill="#a4b67c"/>
<circle cx="61.18" cy="215.21" r="1.3" fill="#a4b67c"/>
<circle cx="63.01" cy="215.15" r="1.3" fill="#a4b67c"/>
<circle cx="65.62" cy="215.33" r="1.3" fill="#a4b67c"/>
<circle cx="60.95" cy="213.40" r="1.3" fill="#a4b67c"/>
<circle cx="62.82" cy="213.16" r="1.3" fill="#a4b67c"/>
<circle cx="65.56" cy="213.28" r="1.3" fill="#a4b67c"/>
<circle cx="60.72" cy="211.62" r="1.3" fill="#a4b67c"/>
<circle cx="63.29" cy="211.71" r="1.3" fill="#a4b67c"/>
<circle cx="65.26" cy="211.55" r="1.3" fill="#a4b67c"/>
<circle cx="60.96" cy="210.03" r="1.3" fill="#a4b67c"/>
<circle cx="63.16" cy="209.77" r="1.3" fill="#a4b67c"/>
<circle cx="65.34" cy="209.51" r="1.3" fill="#a4b67c"/>
<circle cx="60.63" cy="208.23" r="1.3" fill="#a4b67c"/>
<circle cx="63.49" cy="208.16" r="1.3" fill="#a4b67c"/>
<circle cx="65.28" cy="207.86" r="1.3" fill="#a4b67c"/>
<circle cx="62.05" cy="206.68" r="1.3" fill="#a4b67c"/>
<circle cx="64.44" cy="206.37" r="1.3" fill="#a4b67c"/>
<circle cx="62.30" cy="204.40" r="1.3" fill="#a4b67c"/>
<circle cx="64.26" cy="204.91" r="1.3" fill="#a4b67c"/>
<circle cx="63.27" cy="203.95" r="1.3" fill="#a4b67c"/>
<circle cx="63.15" cy="180.27" r="1.3" fill="#a4b67c"/>
<circle cx="61.35" cy="186.08" r="1.3" fill="#a4b67c"/>
<circle cx="65.05" cy="186.08" r="1.3" fill="#a4b67c"/>
<circle cx="61.35" cy="191.05" r="1.3" fill="#a4b67c"/>
<circle cx="65.05" cy="191.88" r="1.3" fill="#a4b67c"/>
<circle cx="61.35" cy="198.92" r="1.3" fill="#a4b67c"/>
<circle cx="65.05" cy="198.09" r="1.3" fill="#a4b67c"/>
<circle cx="60.55" cy="200.99" r="1.3" fill="#a4b67c"/>
<circle cx="65.75" cy="201.82" r="1.3" fill="#a4b67c"/>
<circle cx="63.15" cy="204.31" r="1.3" fill="#a4b67c"/>
<line x1="60.35" y1="226.30" x2="65.95" y2="226.30" stroke="#333" stroke-width="0.6" stroke-dasharray="1.1,0.8"/>
<circle cx="72.42" cy="229.40" r="1.3" fill="#a4b67c"/>
<circle cx="73.49" cy="228.80" r="1.3" fill="#a4b67c"/>
<circle cx="75.73" cy="229.26" r="1.3" fill="#a4b67c"/>
<circle cx="72.22" cy="227.21" r="1.3" fill="#a4b67c"/>
<circle cx="73.87" cy="227.41" r="1.3" fill="#a4b67c"/>
<circle cx="75.56" cy="227.10" r="1.3" fill="#a4b67c"/>
<circle cx="72.05" cy="225.52" r="1.3" fill="#a4b67c"/>
<circle cx="73.96" cy="225.94" r="1.3" fill="#a4b67c"/>
<circle cx="75.81" cy="225.62" r="1.3" fill="#a4b67c"/>
<circle cx="72.06" cy="223.68" r="1.3" fill="#a4b67c"/>
<circle cx="73.48" cy="223.51" r="1.3" fill="#a4b67c"/>
<circle cx="75.48" cy="223.71" r="1.3" fill="#a4b67c"/>
<circle cx="72.02" cy="222.36" r="1.3" fill="#a4b67c"/>
<circle cx="73.82" cy="222.13" r="1.3" fill="#a4b67c"/>
<circle cx="75.32" cy="221.76" r="1.3" fill="#a4b67c"/>
<circle cx="72.12" cy="220.09" r="1.3" fill="#a4b67c"/>
<circle cx="73.81" cy="220.69" r="1.3" fill="#a4b67c"/>
<circle cx="75.48" cy="220.12" r="1.3" fill="#a4b67c"/>
<circle cx="72.72" cy="218.80" r="1.3" fill="#a4b67c"/>
<circle cx="73.96" cy="218.87" r="1.3" fill="#a4b67c"/>
<circle cx="75.34" cy="218.79" r="1.3" fill="#a4b67c"/>
<circle cx="72.58" cy="217.18" r="1.3" fill="#a4b67c"/>
<circle cx="75.24" cy="216.60" r="1.3" fill="#a4b67c"/>
<circle cx="73.16" cy="215.24" r="1.3" fill="#a4b67c"/>
<circle cx="74.59" cy="215.11" r="1.3" fill="#a4b67c"/>
<circle cx="73.78" cy="214.73" r="1.3" fill="#a4b67c"/>
<circle cx="75.60" cy="210.11" r="1.3" fill="#a4b67c"/>
<circle cx="72.20" cy="212.18" r="1.3" fill="#a4b67c"/>
<circle cx="74.00" cy="211.77" r="1.3" fill="#a4b67c"/>
<line x1="71.00" y1="226.30" x2="76.60" y2="226.30" stroke="#333" stroke-width="0.6" stroke-dasharray="1.1,0.8"/>
<circle cx="82.57" cy="229.12" r="1.3" fill="#a4b67c"/>
<circle cx="84.36" cy="229.16" r="1.3" fill="#a4b67c"/>
<circle cx="86.24" cy="228.79" r="1.3" fill="#a4b67c"/>
<circle cx="82.41" cy="227.58" r="1.3" fill="#a4b67c"/>
<circle cx="84.28" cy="227.15" r="1.3" fill="#a4b67c"/>
<circle cx="86.50" cy="227.32" r="1.3" fill="#a4b67c"/>
<circle cx="83.04" cy="225.57" r="1.3" fill="#a4b67c"/>
<circle cx="84.55" cy="225.35" r="1.3" fill="#a4b67c"/>
<circle cx="86.19" cy="225.85" r="1.3" fill="#a4b67c"/>
<circle cx="83.23" cy="224.01" r="1.3" fill="#a4b67c"/>
<circle cx="85.81" cy="223.53" r="1.3" fill="#a4b67c"/>
<circle cx="84.86" cy="223.01" r="1.3" fill="#a4b67c"/>
<circle cx="84.45" cy="200.99" r="1.3" fill="#a4b67c"/>
<circle cx="82.45" cy="211.77" r="1.3" fill="#a4b67c"/>
<circle cx="86.25" cy="214.25" r="1.3" fill="#a4b67c"/>
<circle cx="82.85" cy="217.57" r="1.3" fill="#a4b67c"/>
<circle cx="86.05" cy="217.98" r="1.3" fill="#a4b67c"/>
<circle cx="84.45" cy="220.06" r="1.3" fill="#a4b67c"/>
<line x1="81.65" y1="226.30" x2="87.25" y2="226.30" stroke="#333" stroke-width="0.6" stroke-dasharray="1.1,0.8"/>
<circle cx="93.22" cy="228.81" r="1.3" fill="#a4b67c"/>
<circle cx="95.03" cy="228.85" r="1.3" fill="#a4b67c"/>
<circle cx="96.50" cy="229.02" r="1.3" fill="#a4b67c"/>
<circle cx="93.69" cy="227.55" r="1.3" fill="#a4b67c"/>
<circle cx="95.29" cy="227.15" r="1.3" fill="#a4b67c"/>
<circle cx="96.83" cy="227.18" r="1.3" fill="#a4b67c"/>
<circle cx="93.17" cy="225.31" r="1.3" fill="#a4b67c"/>
<circle cx="94.90" cy="225.89" r="1.3" fill="#a4b67c"/>
<circle cx="97.03" cy="225.80" r="1.3" fill="#a4b67c"/>
<circle cx="93.73" cy="223.63" r="1.3" fill="#a4b67c"/>
<circle cx="94.97" cy="223.93" r="1.3" fill="#a4b67c"/>
<circle cx="96.84" cy="224.09" r="1.3" fill="#a4b67c"/>
<circle cx="94.11" cy="221.80" r="1.3" fill="#a4b67c"/>
<circle cx="96.43" cy="222.21" r="1.3" fill="#a4b67c"/>
<circle cx="94.27" cy="220.11" r="1.3" fill="#a4b67c"/>
<circle cx="95.91" cy="220.05" r="1.3" fill="#a4b67c"/>
<circle cx="95.80" cy="220.53" r="1.3" fill="#a4b67c"/>
<circle cx="97.00" cy="204.31" r="1.3" fill="#a4b67c"/>
<circle cx="93.20" cy="207.62" r="1.3" fill="#a4b67c"/>
<circle cx="95.30" cy="211.77" r="1.3" fill="#a4b67c"/>
<circle cx="97.10" cy="217.57" r="1.3" fill="#a4b67c"/>
<circle cx="94.10" cy="216.74" r="1.3" fill="#a4b67c"/>
<line x1="92.30" y1="226.30" x2="97.90" y2="226.30" stroke="#333" stroke-width="0.6" stroke-dasharray="1.1,0.8"/>
<circle cx="104.14" cy="229.26" r="1.3" fill="#a4b67c"/>
<circle cx="105.96" cy="229.40" r="1.3" fill="#a4b67c"/>
<circle cx="107.62" cy="229.39" r="1.3" fill="#a4b67c"/>
<circle cx="103.72" cy="227.32" r="1.3" fill="#a4b67c"/>
<circle cx="106.06" cy="227.44" r="1.3" fill="#a4b67c"/>
<circle cx="107.73" cy="227.07" r="1.3" fill="#a4b67c"/>
<circle cx="104.53" cy="225.41" r="1.3" fill="#a4b67c"/>
<circle cx="106.98" cy="225.64" r="1.3" fill="#a4b67c"/>
<circle cx="104.97" cy="225.50" r="1.3" fill="#a4b67c"/>
<circle cx="105.75" cy="214.25" r="1.3" fill="#a4b67c"/>
<circle cx="107.55" cy="216.74" r="1.3" fill="#a4b67c"/>
<circle cx="103.95" cy="218.40" r="1.3" fill="#a4b67c"/>
<circle cx="103.75" cy="221.71" r="1.3" fill="#a4b67c"/>
<circle cx="107.75" cy="222.13" r="1.3" fill="#a4b67c"/>
<line x1="102.95" y1="226.30" x2="108.55" y2="226.30" stroke="#333" stroke-width="0.6" stroke-dasharray="1.1,0.8"/>
<circle cx="114.91" cy="229.32" r="1.3" fill="#a4b67c"/>
<circle cx="116.39" cy="228.92" r="1.3" fill="#a4b67c"/>
<circle cx="117.75" cy="229.20" r="1.3" fill="#a4b67c"/>
<circle cx="114.68" cy="227.52" r="1.3" fill="#a4b67c"/>
<circle cx="116.31" cy="227.53" r="1.3" fill="#a4b67c"/>
<circle cx="117.94" cy="227.55" r="1.3" fill="#a4b67c"/>
<circle cx="114.91" cy="225.53" r="1.3" fill="#a4b67c"/>
<circle cx="116.43" cy="225.72" r="1.3" fill="#a4b67c"/>
<circle cx="117.83" cy="225.63" r="1.3" fill="#a4b67c"/>
<circle cx="115.37" cy="223.68" r="1.3" fill="#a4b67c"/>
<circle cx="117.85" cy="223.97" r="1.3" fill="#a4b67c"/>
<circle cx="116.95" cy="223.01" r="1.3" fill="#a4b67c"/>
<circle cx="116.40" cy="201.82" r="1.3" fill="#a4b67c"/>
<circle cx="118.50" cy="215.91" r="1.3" fill="#a4b67c"/>
<circle cx="114.90" cy="217.57" r="1.3" fill="#a4b67c"/>
<circle cx="116.90" cy="219.23" r="1.3" fill="#a4b67c"/>
<line x1="113.60" y1="226.30" x2="119.20" y2="226.30" stroke="#333" stroke-width="0.6" stroke-dasharray="1.1,0.8"/>
<circle cx="125.23" cy="228.85" r="1.3" fill="#a4b67c"/>
<circle cx="127.16" cy="228.79" r="1.3" fill="#a4b67c"/>
<circle cx="128.78" cy="229.00" r="1.3" fill="#a4b67c"/>
<circle cx="125.04" cy="227.35" r="1.3" fill="#a4b67c"/>
<circle cx="126.73" cy="227.29" r="1.3" fill="#a4b67c"/>
<circle cx="128.45" cy="227.05" r="1.3" fill="#a4b67c"/>
<circle cx="125.59" cy="225.82" r="1.3" fill="#a4b67c"/>
<circle cx="126.79" cy="225.40" r="1.3" fill="#a4b67c"/>
<circle cx="128.54" cy="225.90" r="1.3" fill="#a4b67c"/>
<circle cx="127.17" cy="224.67" r="1.3" fill="#a4b67c"/>
<circle cx="125.15" cy="215.08" r="1.3" fill="#a4b67c"/>
<circle cx="127.05" cy="215.08" r="1.3" fill="#a4b67c"/>
<circle cx="128.95" cy="215.08" r="1.3" fill="#a4b67c"/>
<circle cx="128.95" cy="220.06" r="1.3" fill="#a4b67c"/>
<circle cx="125.15" cy="220.88" r="1.3" fill="#a4b67c"/>
<line x1="124.25" y1="226.30" x2="129.85" y2="226.30" stroke="#333" stroke-width="0.6" stroke-dasharray="1.1,0.8"/>
<circle cx="135.81" cy="229.41" r="1.3" fill="#a4b67c"/>
<circle cx="137.44" cy="229.23" r="1.3" fill="#a4b67c"/>
<circle cx="139.11" cy="228.91" r="1.3" fill="#a4b67c"/>
<circle cx="136.35" cy="227.14" r="1.3" fill="#a4b67c"/>
<circle cx="137.80" cy="227.31" r="1.3" fill="#a4b67c"/>
<circle cx="139.37" cy="227.34" r="1.3" fill="#a4b67c"/>
<circle cx="135.84" cy="225.82" r="1.3" fill="#a4b67c"/>
<circle cx="137.41" cy="225.40" r="1.3" fill="#a4b67c"/>
<circle cx="139.01" cy="225.43" r="1.3" fill="#a4b67c"/>
<circle cx="136.40" cy="224.12" r="1.3" fill="#a4b67c"/>
<circle cx="138.85" cy="223.57" r="1.3" fill="#a4b67c"/>
<circle cx="137.31" cy="223.01" r="1.3" fill="#a4b67c"/>
<circle cx="137.70" cy="208.45" r="1.3" fill="#a4b67c"/>
<circle cx="136.10" cy="219.23" r="1.3" fill="#a4b67c"/>
<circle cx="139.30" cy="219.64" r="1.3" fill="#a4b67c"/>
<circle cx="137.20" cy="221.30" r="1.3" fill="#a4b67c"/>
<line x1="134.90" y1="226.30" x2="140.50" y2="226.30" stroke="#333" stroke-width="0.6" stroke-dasharray="1.1,0.8"/>
<line x1="45.80" y1="230.00" x2="145.60" y2="230.00" stroke="#000" stroke-width="1.15"/>
<line x1="52.50" y1="230.00" x2="52.50" y2="232.90" stroke="#000" stroke-width="1.15"/>
<line x1="63.15" y1="230.00" x2="63.15" y2="232.90" stroke="#000" stroke-width="1.15"/>
<line x1="73.80" y1="230.00" x2="73.80" y2="232.90" stroke="#000" stroke-width="1.15"/>
<line x1="84.45" y1="230.00" x2="84.45" y2="232.90" stroke="#000" stroke-width="1.15"/>
<line x1="95.10" y1="230.00" x2="95.10" y2="232.90" stroke="#000" stroke-width="1.15"/>
<line x1="105.75" y1="230.00" x2="105.75" y2="232.90" stroke="#000" stroke-width="1.15"/>
<line x1="116.40" y1="230.00" x2="116.40" y2="232.90" stroke="#000" stroke-width="1.15"/>
<line x1="127.05" y1="230.00" x2="127.05" y2="232.90" stroke="#000" stroke-width="1.15"/>
<line x1="137.70" y1="230.00" x2="137.70" y2="232.90" stroke="#000" stroke-width="1.15"/>
<path d="M52.50,168.20 V165.60 H63.20 V168.20" fill="none" stroke="#1e1e1e" stroke-width="1.0"/>
<path d="M63.20,173.00 V170.80 H137.80 V173.00" fill="none" stroke="#1e1e1e" stroke-width="1.0"/>
<text x="87.00" y="163.00" font-size="6.8" text-anchor="start" fill="#231f20" stroke="#231f20" stroke-width="0.14" textLength="17.50" lengthAdjust="spacingAndGlyphs" style="">p-p53</text>
<text transform="translate(23.20,195.40) rotate(-90)" x="0" y="3.06" font-size="8.5" text-anchor="middle" fill="#231f20" stroke="#231f20" stroke-width="0.14" textLength="35.80" lengthAdjust="spacingAndGlyphs">Foci per cell</text>
<circle cx="48.75" cy="207.60" r="0.8" fill="#3a3a3a"/>
<circle cx="51.05" cy="207.60" r="0.8" fill="#3a3a3a"/>
<circle cx="53.35" cy="207.60" r="0.8" fill="#3a3a3a"/>
<circle cx="55.65" cy="207.60" r="0.8" fill="#3a3a3a"/>
<circle cx="70.05" cy="205.40" r="0.8" fill="#3a3a3a"/>
<circle cx="72.35" cy="205.40" r="0.8" fill="#3a3a3a"/>
<circle cx="74.65" cy="205.40" r="0.8" fill="#3a3a3a"/>
<circle cx="76.95" cy="205.40" r="0.8" fill="#3a3a3a"/>
<circle cx="80.70" cy="196.00" r="0.8" fill="#3a3a3a"/>
<circle cx="83.00" cy="196.00" r="0.8" fill="#3a3a3a"/>
<circle cx="85.30" cy="196.00" r="0.8" fill="#3a3a3a"/>
<circle cx="87.60" cy="196.00" r="0.8" fill="#3a3a3a"/>
<circle cx="91.35" cy="200.80" r="0.8" fill="#3a3a3a"/>
<circle cx="93.65" cy="200.80" r="0.8" fill="#3a3a3a"/>
<circle cx="95.95" cy="200.80" r="0.8" fill="#3a3a3a"/>
<circle cx="98.25" cy="200.80" r="0.8" fill="#3a3a3a"/>
<circle cx="102.00" cy="209.70" r="0.8" fill="#3a3a3a"/>
<circle cx="104.30" cy="209.70" r="0.8" fill="#3a3a3a"/>
<circle cx="106.60" cy="209.70" r="0.8" fill="#3a3a3a"/>
<circle cx="108.90" cy="209.70" r="0.8" fill="#3a3a3a"/>
<circle cx="112.65" cy="198.20" r="0.8" fill="#3a3a3a"/>
<circle cx="114.95" cy="198.20" r="0.8" fill="#3a3a3a"/>
<circle cx="117.25" cy="198.20" r="0.8" fill="#3a3a3a"/>
<circle cx="119.55" cy="198.20" r="0.8" fill="#3a3a3a"/>
<circle cx="123.30" cy="212.00" r="0.8" fill="#3a3a3a"/>
<circle cx="125.60" cy="212.00" r="0.8" fill="#3a3a3a"/>
<circle cx="127.90" cy="212.00" r="0.8" fill="#3a3a3a"/>
<circle cx="130.20" cy="212.00" r="0.8" fill="#3a3a3a"/>
<circle cx="133.95" cy="203.50" r="0.8" fill="#3a3a3a"/>
<circle cx="136.25" cy="203.50" r="0.8" fill="#3a3a3a"/>
<circle cx="138.55" cy="203.50" r="0.8" fill="#3a3a3a"/>
<circle cx="140.85" cy="203.50" r="0.8" fill="#3a3a3a"/>
<text x="39.10" y="242.00" font-size="6.7" text-anchor="end" fill="#231f20" stroke="#231f20" stroke-width="0.14" textLength="13.80" lengthAdjust="spacingAndGlyphs" style="">RIBE</text>
<line x1="51.65" y1="240.15" x2="53.35" y2="240.15" stroke="#444" stroke-width="0.7"/>
<line x1="61.70" y1="240.15" x2="64.60" y2="240.15" stroke="#333" stroke-width="0.7"/>
<line x1="63.15" y1="238.70" x2="63.15" y2="241.60" stroke="#333" stroke-width="0.7"/>
<line x1="72.35" y1="240.15" x2="75.25" y2="240.15" stroke="#333" stroke-width="0.7"/>
<line x1="73.80" y1="238.70" x2="73.80" y2="241.60" stroke="#333" stroke-width="0.7"/>
<line x1="83.00" y1="240.15" x2="85.90" y2="240.15" stroke="#333" stroke-width="0.7"/>
<line x1="84.45" y1="238.70" x2="84.45" y2="241.60" stroke="#333" stroke-width="0.7"/>
<line x1="93.65" y1="240.15" x2="96.55" y2="240.15" stroke="#333" stroke-width="0.7"/>
<line x1="95.10" y1="238.70" x2="95.10" y2="241.60" stroke="#333" stroke-width="0.7"/>
<line x1="104.30" y1="240.15" x2="107.20" y2="240.15" stroke="#333" stroke-width="0.7"/>
<line x1="105.75" y1="238.70" x2="105.75" y2="241.60" stroke="#333" stroke-width="0.7"/>
<line x1="114.95" y1="240.15" x2="117.85" y2="240.15" stroke="#333" stroke-width="0.7"/>
<line x1="116.40" y1="238.70" x2="116.40" y2="241.60" stroke="#333" stroke-width="0.7"/>
<line x1="125.60" y1="240.15" x2="128.50" y2="240.15" stroke="#333" stroke-width="0.7"/>
<line x1="127.05" y1="238.70" x2="127.05" y2="241.60" stroke="#333" stroke-width="0.7"/>
<line x1="136.25" y1="240.15" x2="139.15" y2="240.15" stroke="#333" stroke-width="0.7"/>
<line x1="137.70" y1="238.70" x2="137.70" y2="241.60" stroke="#333" stroke-width="0.7"/>
<text x="39.10" y="249.80" font-size="6.7" text-anchor="end" fill="#231f20" stroke="#231f20" stroke-width="0.14" textLength="14.30" lengthAdjust="spacingAndGlyphs" style="">NAC</text>
<line x1="51.65" y1="247.95" x2="53.35" y2="247.95" stroke="#444" stroke-width="0.7"/>
<line x1="62.30" y1="247.95" x2="64.00" y2="247.95" stroke="#444" stroke-width="0.7"/>
<line x1="72.35" y1="247.95" x2="75.25" y2="247.95" stroke="#333" stroke-width="0.7"/>
<line x1="73.80" y1="246.50" x2="73.80" y2="249.40" stroke="#333" stroke-width="0.7"/>
<line x1="83.60" y1="247.95" x2="85.30" y2="247.95" stroke="#444" stroke-width="0.7"/>
<line x1="94.25" y1="247.95" x2="95.95" y2="247.95" stroke="#444" stroke-width="0.7"/>
<line x1="104.30" y1="247.95" x2="107.20" y2="247.95" stroke="#333" stroke-width="0.7"/>
<line x1="105.75" y1="246.50" x2="105.75" y2="249.40" stroke="#333" stroke-width="0.7"/>
<line x1="114.95" y1="247.95" x2="117.85" y2="247.95" stroke="#333" stroke-width="0.7"/>
<line x1="116.40" y1="246.50" x2="116.40" y2="249.40" stroke="#333" stroke-width="0.7"/>
<line x1="126.20" y1="247.95" x2="127.90" y2="247.95" stroke="#444" stroke-width="0.7"/>
<line x1="136.25" y1="247.95" x2="139.15" y2="247.95" stroke="#333" stroke-width="0.7"/>
<line x1="137.70" y1="246.50" x2="137.70" y2="249.40" stroke="#333" stroke-width="0.7"/>
<text x="39.10" y="257.80" font-size="6.7" text-anchor="end" fill="#231f20" stroke="#231f20" stroke-width="0.14" textLength="7.40" lengthAdjust="spacingAndGlyphs" style="">SF</text>
<line x1="51.65" y1="255.95" x2="53.35" y2="255.95" stroke="#444" stroke-width="0.7"/>
<line x1="62.30" y1="255.95" x2="64.00" y2="255.95" stroke="#444" stroke-width="0.7"/>
<line x1="72.95" y1="255.95" x2="74.65" y2="255.95" stroke="#444" stroke-width="0.7"/>
<line x1="83.00" y1="255.95" x2="85.90" y2="255.95" stroke="#333" stroke-width="0.7"/>
<line x1="84.45" y1="254.50" x2="84.45" y2="257.40" stroke="#333" stroke-width="0.7"/>
<line x1="94.25" y1="255.95" x2="95.95" y2="255.95" stroke="#444" stroke-width="0.7"/>
<line x1="104.30" y1="255.95" x2="107.20" y2="255.95" stroke="#333" stroke-width="0.7"/>
<line x1="105.75" y1="254.50" x2="105.75" y2="257.40" stroke="#333" stroke-width="0.7"/>
<line x1="115.55" y1="255.95" x2="117.25" y2="255.95" stroke="#444" stroke-width="0.7"/>
<line x1="125.60" y1="255.95" x2="128.50" y2="255.95" stroke="#333" stroke-width="0.7"/>
<line x1="127.05" y1="254.50" x2="127.05" y2="257.40" stroke="#333" stroke-width="0.7"/>
<line x1="136.25" y1="255.95" x2="139.15" y2="255.95" stroke="#333" stroke-width="0.7"/>
<line x1="137.70" y1="254.50" x2="137.70" y2="257.40" stroke="#333" stroke-width="0.7"/>
<text x="39.10" y="265.80" font-size="6.7" text-anchor="end" fill="#231f20" stroke="#231f20" stroke-width="0.14" textLength="10.50" lengthAdjust="spacingAndGlyphs" style="">Res</text>
<line x1="51.65" y1="263.95" x2="53.35" y2="263.95" stroke="#444" stroke-width="0.7"/>
<line x1="62.30" y1="263.95" x2="64.00" y2="263.95" stroke="#444" stroke-width="0.7"/>
<line x1="72.95" y1="263.95" x2="74.65" y2="263.95" stroke="#444" stroke-width="0.7"/>
<line x1="83.60" y1="263.95" x2="85.30" y2="263.95" stroke="#444" stroke-width="0.7"/>
<line x1="93.65" y1="263.95" x2="96.55" y2="263.95" stroke="#333" stroke-width="0.7"/>
<line x1="95.10" y1="262.50" x2="95.10" y2="265.40" stroke="#333" stroke-width="0.7"/>
<line x1="104.90" y1="263.95" x2="106.60" y2="263.95" stroke="#444" stroke-width="0.7"/>
<line x1="114.95" y1="263.95" x2="117.85" y2="263.95" stroke="#333" stroke-width="0.7"/>
<line x1="116.40" y1="262.50" x2="116.40" y2="265.40" stroke="#333" stroke-width="0.7"/>
<line x1="125.60" y1="263.95" x2="128.50" y2="263.95" stroke="#333" stroke-width="0.7"/>
<line x1="127.05" y1="262.50" x2="127.05" y2="265.40" stroke="#333" stroke-width="0.7"/>
<line x1="136.25" y1="263.95" x2="139.15" y2="263.95" stroke="#333" stroke-width="0.7"/>
<line x1="137.70" y1="262.50" x2="137.70" y2="265.40" stroke="#333" stroke-width="0.7"/>
<line x1="185.00" y1="159.80" x2="185.00" y2="230.57" stroke="#000" stroke-width="1.15"/>
<line x1="181.80" y1="230.00" x2="185.00" y2="230.00" stroke="#000" stroke-width="1.15"/>
<text x="179.40" y="232.38" font-size="6.6" text-anchor="end" fill="#231f20" stroke="#231f20" stroke-width="0.14" style="">0</text>
<line x1="181.80" y1="213.07" x2="185.00" y2="213.07" stroke="#000" stroke-width="1.15"/>
<text x="179.40" y="215.45" font-size="6.6" text-anchor="end" fill="#231f20" stroke="#231f20" stroke-width="0.14" style="">50</text>
<line x1="181.80" y1="196.15" x2="185.00" y2="196.15" stroke="#000" stroke-width="1.15"/>
<text x="179.40" y="198.53" font-size="6.6" text-anchor="end" fill="#231f20" stroke="#231f20" stroke-width="0.14" style="">100</text>
<line x1="181.80" y1="179.22" x2="185.00" y2="179.22" stroke="#000" stroke-width="1.15"/>
<text x="179.40" y="181.60" font-size="6.6" text-anchor="end" fill="#231f20" stroke="#231f20" stroke-width="0.14" style="">150</text>
<line x1="181.80" y1="162.30" x2="185.00" y2="162.30" stroke="#000" stroke-width="1.15"/>
<text x="179.40" y="164.68" font-size="6.6" text-anchor="end" fill="#231f20" stroke="#231f20" stroke-width="0.14" style="">200</text>
<circle cx="190.23" cy="228.94" r="1.3" fill="#a4b67c"/>
<circle cx="191.87" cy="229.20" r="1.3" fill="#a4b67c"/>
<circle cx="194.00" cy="228.92" r="1.3" fill="#a4b67c"/>
<circle cx="190.13" cy="227.44" r="1.3" fill="#a4b67c"/>
<circle cx="192.54" cy="227.31" r="1.3" fill="#a4b67c"/>
<circle cx="194.55" cy="227.68" r="1.3" fill="#a4b67c"/>
<circle cx="190.02" cy="225.29" r="1.3" fill="#a4b67c"/>
<circle cx="191.96" cy="225.83" r="1.3" fill="#a4b67c"/>
<circle cx="194.27" cy="225.88" r="1.3" fill="#a4b67c"/>
<circle cx="190.53" cy="223.95" r="1.3" fill="#a4b67c"/>
<circle cx="192.22" cy="223.54" r="1.3" fill="#a4b67c"/>
<circle cx="193.87" cy="224.05" r="1.3" fill="#a4b67c"/>
<circle cx="190.32" cy="222.27" r="1.3" fill="#a4b67c"/>
<circle cx="192.25" cy="222.21" r="1.3" fill="#a4b67c"/>
<circle cx="194.30" cy="222.37" r="1.3" fill="#a4b67c"/>
<circle cx="189.93" cy="220.34" r="1.3" fill="#a4b67c"/>
<circle cx="192.07" cy="220.57" r="1.3" fill="#a4b67c"/>
<circle cx="194.46" cy="220.17" r="1.3" fill="#a4b67c"/>
<circle cx="189.91" cy="218.41" r="1.3" fill="#a4b67c"/>
<circle cx="192.07" cy="218.78" r="1.3" fill="#a4b67c"/>
<circle cx="194.14" cy="218.76" r="1.3" fill="#a4b67c"/>
<circle cx="190.06" cy="216.86" r="1.3" fill="#a4b67c"/>
<circle cx="191.98" cy="216.94" r="1.3" fill="#a4b67c"/>
<circle cx="194.21" cy="217.09" r="1.3" fill="#a4b67c"/>
<circle cx="190.54" cy="215.10" r="1.3" fill="#a4b67c"/>
<circle cx="191.90" cy="215.40" r="1.3" fill="#a4b67c"/>
<circle cx="194.49" cy="215.07" r="1.3" fill="#a4b67c"/>
<circle cx="190.33" cy="213.64" r="1.3" fill="#a4b67c"/>
<circle cx="192.03" cy="213.17" r="1.3" fill="#a4b67c"/>
<circle cx="194.20" cy="213.46" r="1.3" fill="#a4b67c"/>
<circle cx="190.59" cy="211.82" r="1.3" fill="#a4b67c"/>
<circle cx="192.21" cy="211.53" r="1.3" fill="#a4b67c"/>
<circle cx="193.75" cy="211.39" r="1.3" fill="#a4b67c"/>
<circle cx="190.50" cy="209.79" r="1.3" fill="#a4b67c"/>
<circle cx="192.37" cy="209.92" r="1.3" fill="#a4b67c"/>
<circle cx="193.82" cy="209.76" r="1.3" fill="#a4b67c"/>
<circle cx="190.82" cy="208.01" r="1.3" fill="#a4b67c"/>
<circle cx="192.41" cy="208.19" r="1.3" fill="#a4b67c"/>
<circle cx="193.81" cy="208.00" r="1.3" fill="#a4b67c"/>
<circle cx="190.90" cy="206.49" r="1.3" fill="#a4b67c"/>
<circle cx="193.83" cy="206.36" r="1.3" fill="#a4b67c"/>
<circle cx="190.95" cy="204.72" r="1.3" fill="#a4b67c"/>
<circle cx="193.06" cy="204.47" r="1.3" fill="#a4b67c"/>
<circle cx="190.98" cy="202.88" r="1.3" fill="#a4b67c"/>
<circle cx="192.92" cy="202.76" r="1.3" fill="#a4b67c"/>
<circle cx="192.66" cy="202.19" r="1.3" fill="#a4b67c"/>
<circle cx="190.40" cy="197.17" r="1.3" fill="#a4b67c"/>
<circle cx="193.60" cy="197.50" r="1.3" fill="#a4b67c"/>
<circle cx="189.20" cy="199.53" r="1.3" fill="#a4b67c"/>
<circle cx="194.70" cy="200.21" r="1.3" fill="#a4b67c"/>
<circle cx="200.76" cy="223.40" r="1.3" fill="#a4b67c"/>
<circle cx="203.02" cy="223.80" r="1.3" fill="#a4b67c"/>
<circle cx="204.85" cy="223.40" r="1.3" fill="#a4b67c"/>
<circle cx="200.91" cy="222.10" r="1.3" fill="#a4b67c"/>
<circle cx="202.85" cy="222.09" r="1.3" fill="#a4b67c"/>
<circle cx="205.21" cy="221.67" r="1.3" fill="#a4b67c"/>
<circle cx="201.12" cy="220.14" r="1.3" fill="#a4b67c"/>
<circle cx="203.04" cy="220.52" r="1.3" fill="#a4b67c"/>
<circle cx="204.82" cy="219.84" r="1.3" fill="#a4b67c"/>
<circle cx="201.41" cy="218.36" r="1.3" fill="#a4b67c"/>
<circle cx="202.89" cy="218.31" r="1.3" fill="#a4b67c"/>
<circle cx="205.01" cy="218.74" r="1.3" fill="#a4b67c"/>
<circle cx="200.90" cy="216.48" r="1.3" fill="#a4b67c"/>
<circle cx="203.16" cy="216.71" r="1.3" fill="#a4b67c"/>
<circle cx="205.42" cy="216.91" r="1.3" fill="#a4b67c"/>
<circle cx="201.00" cy="214.72" r="1.3" fill="#a4b67c"/>
<circle cx="203.34" cy="215.27" r="1.3" fill="#a4b67c"/>
<circle cx="204.77" cy="215.09" r="1.3" fill="#a4b67c"/>
<circle cx="201.36" cy="213.28" r="1.3" fill="#a4b67c"/>
<circle cx="202.90" cy="213.38" r="1.3" fill="#a4b67c"/>
<circle cx="205.26" cy="212.96" r="1.3" fill="#a4b67c"/>
<circle cx="201.20" cy="211.23" r="1.3" fill="#a4b67c"/>
<circle cx="202.78" cy="211.31" r="1.3" fill="#a4b67c"/>
<circle cx="204.98" cy="211.35" r="1.3" fill="#a4b67c"/>
<circle cx="201.20" cy="209.91" r="1.3" fill="#a4b67c"/>
<circle cx="203.42" cy="210.01" r="1.3" fill="#a4b67c"/>
<circle cx="205.45" cy="209.88" r="1.3" fill="#a4b67c"/>
<circle cx="200.96" cy="207.70" r="1.3" fill="#a4b67c"/>
<circle cx="203.19" cy="207.96" r="1.3" fill="#a4b67c"/>
<circle cx="205.22" cy="207.64" r="1.3" fill="#a4b67c"/>
<circle cx="200.90" cy="206.47" r="1.3" fill="#a4b67c"/>
<circle cx="203.17" cy="206.31" r="1.3" fill="#a4b67c"/>
<circle cx="204.80" cy="206.10" r="1.3" fill="#a4b67c"/>
<circle cx="201.49" cy="204.53" r="1.3" fill="#a4b67c"/>
<circle cx="203.44" cy="204.21" r="1.3" fill="#a4b67c"/>
<circle cx="204.96" cy="204.63" r="1.3" fill="#a4b67c"/>
<circle cx="201.26" cy="202.88" r="1.3" fill="#a4b67c"/>
<circle cx="203.14" cy="202.41" r="1.3" fill="#a4b67c"/>
<circle cx="204.62" cy="203.01" r="1.3" fill="#a4b67c"/>
<circle cx="201.13" cy="200.71" r="1.3" fill="#a4b67c"/>
<circle cx="202.98" cy="201.07" r="1.3" fill="#a4b67c"/>
<circle cx="205.05" cy="200.91" r="1.3" fill="#a4b67c"/>
<circle cx="201.51" cy="199.38" r="1.3" fill="#a4b67c"/>
<circle cx="202.94" cy="199.08" r="1.3" fill="#a4b67c"/>
<circle cx="204.77" cy="199.27" r="1.3" fill="#a4b67c"/>
<circle cx="201.30" cy="197.15" r="1.3" fill="#a4b67c"/>
<circle cx="202.85" cy="197.58" r="1.3" fill="#a4b67c"/>
<circle cx="204.71" cy="197.76" r="1.3" fill="#a4b67c"/>
<circle cx="201.94" cy="195.50" r="1.3" fill="#a4b67c"/>
<circle cx="203.29" cy="196.01" r="1.3" fill="#a4b67c"/>
<circle cx="204.35" cy="195.33" r="1.3" fill="#a4b67c"/>
<circle cx="201.80" cy="193.77" r="1.3" fill="#a4b67c"/>
<circle cx="204.09" cy="193.61" r="1.3" fill="#a4b67c"/>
<circle cx="201.79" cy="192.43" r="1.3" fill="#a4b67c"/>
<circle cx="203.84" cy="192.25" r="1.3" fill="#a4b67c"/>
<circle cx="202.05" cy="190.21" r="1.3" fill="#a4b67c"/>
<circle cx="204.17" cy="190.28" r="1.3" fill="#a4b67c"/>
<circle cx="202.59" cy="189.66" r="1.3" fill="#a4b67c"/>
<circle cx="203.10" cy="175.84" r="1.3" fill="#a4b67c"/>
<circle cx="205.30" cy="178.21" r="1.3" fill="#a4b67c"/>
<circle cx="200.90" cy="180.92" r="1.3" fill="#a4b67c"/>
<circle cx="203.10" cy="182.61" r="1.3" fill="#a4b67c"/>
<circle cx="205.30" cy="180.92" r="1.3" fill="#a4b67c"/>
<circle cx="201.60" cy="184.98" r="1.3" fill="#a4b67c"/>
<circle cx="204.60" cy="185.66" r="1.3" fill="#a4b67c"/>
<circle cx="211.70" cy="228.89" r="1.3" fill="#a4b67c"/>
<circle cx="213.86" cy="229.37" r="1.3" fill="#a4b67c"/>
<circle cx="216.00" cy="229.24" r="1.3" fill="#a4b67c"/>
<circle cx="211.72" cy="227.35" r="1.3" fill="#a4b67c"/>
<circle cx="214.24" cy="227.36" r="1.3" fill="#a4b67c"/>
<circle cx="216.31" cy="227.61" r="1.3" fill="#a4b67c"/>
<circle cx="211.91" cy="225.24" r="1.3" fill="#a4b67c"/>
<circle cx="214.18" cy="225.33" r="1.3" fill="#a4b67c"/>
<circle cx="215.66" cy="225.75" r="1.3" fill="#a4b67c"/>
<circle cx="212.24" cy="224.08" r="1.3" fill="#a4b67c"/>
<circle cx="214.32" cy="223.63" r="1.3" fill="#a4b67c"/>
<circle cx="215.71" cy="223.57" r="1.3" fill="#a4b67c"/>
<circle cx="212.33" cy="221.82" r="1.3" fill="#a4b67c"/>
<circle cx="213.76" cy="221.75" r="1.3" fill="#a4b67c"/>
<circle cx="215.68" cy="221.77" r="1.3" fill="#a4b67c"/>
<circle cx="211.90" cy="220.10" r="1.3" fill="#a4b67c"/>
<circle cx="213.87" cy="220.64" r="1.3" fill="#a4b67c"/>
<circle cx="215.77" cy="220.56" r="1.3" fill="#a4b67c"/>
<circle cx="212.23" cy="218.64" r="1.3" fill="#a4b67c"/>
<circle cx="214.05" cy="218.78" r="1.3" fill="#a4b67c"/>
<circle cx="216.00" cy="218.40" r="1.3" fill="#a4b67c"/>
<circle cx="212.11" cy="216.66" r="1.3" fill="#a4b67c"/>
<circle cx="213.93" cy="217.18" r="1.3" fill="#a4b67c"/>
<circle cx="215.72" cy="216.54" r="1.3" fill="#a4b67c"/>
<circle cx="212.39" cy="215.31" r="1.3" fill="#a4b67c"/>
<circle cx="213.96" cy="215.23" r="1.3" fill="#a4b67c"/>
<circle cx="215.31" cy="214.78" r="1.3" fill="#a4b67c"/>
<circle cx="212.72" cy="213.02" r="1.3" fill="#a4b67c"/>
<circle cx="213.86" cy="213.26" r="1.3" fill="#a4b67c"/>
<circle cx="215.18" cy="213.02" r="1.3" fill="#a4b67c"/>
<circle cx="212.50" cy="211.91" r="1.3" fill="#a4b67c"/>
<circle cx="215.29" cy="211.91" r="1.3" fill="#a4b67c"/>
<circle cx="213.16" cy="210.16" r="1.3" fill="#a4b67c"/>
<circle cx="215.09" cy="209.92" r="1.3" fill="#a4b67c"/>
<circle cx="214.04" cy="209.97" r="1.3" fill="#a4b67c"/>
<circle cx="211.70" cy="195.13" r="1.3" fill="#a4b67c"/>
<circle cx="214.00" cy="198.18" r="1.3" fill="#a4b67c"/>
<circle cx="216.20" cy="195.13" r="1.3" fill="#a4b67c"/>
<circle cx="212.20" cy="195.47" r="1.3" fill="#a4b67c"/>
<circle cx="212.20" cy="190.06" r="1.3" fill="#a4b67c"/>
<circle cx="215.80" cy="187.01" r="1.3" fill="#a4b67c"/>
<circle cx="217.20" cy="185.66" r="1.3" fill="#a4b67c"/>
<circle cx="212.70" cy="188.70" r="1.3" fill="#a4b67c"/>
<circle cx="222.95" cy="229.18" r="1.3" fill="#a4b67c"/>
<circle cx="225.12" cy="228.93" r="1.3" fill="#a4b67c"/>
<circle cx="227.01" cy="229.36" r="1.3" fill="#a4b67c"/>
<circle cx="223.19" cy="227.12" r="1.3" fill="#a4b67c"/>
<circle cx="225.01" cy="227.42" r="1.3" fill="#a4b67c"/>
<circle cx="226.90" cy="227.67" r="1.3" fill="#a4b67c"/>
<circle cx="222.92" cy="225.55" r="1.3" fill="#a4b67c"/>
<circle cx="225.21" cy="225.68" r="1.3" fill="#a4b67c"/>
<circle cx="226.76" cy="225.46" r="1.3" fill="#a4b67c"/>
<circle cx="222.90" cy="223.53" r="1.3" fill="#a4b67c"/>
<circle cx="224.98" cy="224.01" r="1.3" fill="#a4b67c"/>
<circle cx="226.85" cy="224.08" r="1.3" fill="#a4b67c"/>
<circle cx="223.20" cy="222.13" r="1.3" fill="#a4b67c"/>
<circle cx="225.03" cy="221.82" r="1.3" fill="#a4b67c"/>
<circle cx="226.59" cy="222.43" r="1.3" fill="#a4b67c"/>
<circle cx="222.75" cy="220.14" r="1.3" fill="#a4b67c"/>
<circle cx="225.18" cy="220.51" r="1.3" fill="#a4b67c"/>
<circle cx="226.64" cy="220.22" r="1.3" fill="#a4b67c"/>
<circle cx="222.72" cy="218.43" r="1.3" fill="#a4b67c"/>
<circle cx="224.55" cy="218.61" r="1.3" fill="#a4b67c"/>
<circle cx="226.76" cy="218.52" r="1.3" fill="#a4b67c"/>
<circle cx="222.68" cy="216.57" r="1.3" fill="#a4b67c"/>
<circle cx="224.57" cy="217.10" r="1.3" fill="#a4b67c"/>
<circle cx="227.07" cy="216.88" r="1.3" fill="#a4b67c"/>
<circle cx="222.64" cy="214.84" r="1.3" fill="#a4b67c"/>
<circle cx="224.63" cy="214.96" r="1.3" fill="#a4b67c"/>
<circle cx="226.59" cy="214.93" r="1.3" fill="#a4b67c"/>
<circle cx="222.80" cy="213.12" r="1.3" fill="#a4b67c"/>
<circle cx="225.01" cy="213.31" r="1.3" fill="#a4b67c"/>
<circle cx="226.77" cy="213.24" r="1.3" fill="#a4b67c"/>
<circle cx="223.15" cy="211.79" r="1.3" fill="#a4b67c"/>
<circle cx="224.77" cy="211.29" r="1.3" fill="#a4b67c"/>
<circle cx="226.66" cy="211.51" r="1.3" fill="#a4b67c"/>
<circle cx="223.45" cy="209.57" r="1.3" fill="#a4b67c"/>
<circle cx="225.16" cy="209.50" r="1.3" fill="#a4b67c"/>
<circle cx="226.58" cy="209.80" r="1.3" fill="#a4b67c"/>
<circle cx="223.26" cy="208.36" r="1.3" fill="#a4b67c"/>
<circle cx="225.04" cy="207.85" r="1.3" fill="#a4b67c"/>
<circle cx="226.41" cy="208.17" r="1.3" fill="#a4b67c"/>
<circle cx="223.21" cy="206.05" r="1.3" fill="#a4b67c"/>
<circle cx="224.97" cy="206.50" r="1.3" fill="#a4b67c"/>
<circle cx="226.24" cy="206.29" r="1.3" fill="#a4b67c"/>
<circle cx="223.71" cy="204.42" r="1.3" fill="#a4b67c"/>
<circle cx="226.35" cy="204.91" r="1.3" fill="#a4b67c"/>
<circle cx="223.90" cy="202.50" r="1.3" fill="#a4b67c"/>
<circle cx="225.81" cy="203.05" r="1.3" fill="#a4b67c"/>
<circle cx="224.08" cy="200.81" r="1.3" fill="#a4b67c"/>
<circle cx="225.38" cy="201.24" r="1.3" fill="#a4b67c"/>
<circle cx="225.10" cy="201.51" r="1.3" fill="#a4b67c"/>
<circle cx="224.90" cy="188.70" r="1.3" fill="#a4b67c"/>
<circle cx="222.90" cy="192.09" r="1.3" fill="#a4b67c"/>
<circle cx="226.40" cy="192.76" r="1.3" fill="#a4b67c"/>
<circle cx="224.90" cy="197.84" r="1.3" fill="#a4b67c"/>
<circle cx="226.70" cy="195.81" r="1.3" fill="#a4b67c"/>
<circle cx="222.70" cy="199.20" r="1.3" fill="#a4b67c"/>
<circle cx="233.82" cy="229.15" r="1.3" fill="#a4b67c"/>
<circle cx="236.04" cy="229.37" r="1.3" fill="#a4b67c"/>
<circle cx="238.07" cy="229.00" r="1.3" fill="#a4b67c"/>
<circle cx="234.11" cy="227.29" r="1.3" fill="#a4b67c"/>
<circle cx="235.66" cy="227.06" r="1.3" fill="#a4b67c"/>
<circle cx="237.81" cy="227.10" r="1.3" fill="#a4b67c"/>
<circle cx="233.64" cy="225.67" r="1.3" fill="#a4b67c"/>
<circle cx="235.99" cy="225.77" r="1.3" fill="#a4b67c"/>
<circle cx="237.51" cy="225.28" r="1.3" fill="#a4b67c"/>
<circle cx="233.63" cy="223.88" r="1.3" fill="#a4b67c"/>
<circle cx="236.04" cy="224.05" r="1.3" fill="#a4b67c"/>
<circle cx="238.10" cy="223.90" r="1.3" fill="#a4b67c"/>
<circle cx="233.90" cy="221.94" r="1.3" fill="#a4b67c"/>
<circle cx="235.67" cy="221.88" r="1.3" fill="#a4b67c"/>
<circle cx="237.82" cy="222.17" r="1.3" fill="#a4b67c"/>
<circle cx="233.85" cy="220.26" r="1.3" fill="#a4b67c"/>
<circle cx="235.75" cy="220.16" r="1.3" fill="#a4b67c"/>
<circle cx="238.02" cy="220.40" r="1.3" fill="#a4b67c"/>
<circle cx="234.07" cy="218.81" r="1.3" fill="#a4b67c"/>
<circle cx="235.65" cy="218.32" r="1.3" fill="#a4b67c"/>
<circle cx="237.55" cy="218.88" r="1.3" fill="#a4b67c"/>
<circle cx="234.27" cy="216.77" r="1.3" fill="#a4b67c"/>
<circle cx="235.99" cy="216.73" r="1.3" fill="#a4b67c"/>
<circle cx="237.79" cy="216.55" r="1.3" fill="#a4b67c"/>
<circle cx="234.42" cy="215.43" r="1.3" fill="#a4b67c"/>
<circle cx="235.74" cy="215.06" r="1.3" fill="#a4b67c"/>
<circle cx="237.09" cy="214.93" r="1.3" fill="#a4b67c"/>
<circle cx="234.29" cy="213.20" r="1.3" fill="#a4b67c"/>
<circle cx="236.83" cy="213.20" r="1.3" fill="#a4b67c"/>
<circle cx="234.46" cy="211.61" r="1.3" fill="#a4b67c"/>
<circle cx="236.80" cy="211.40" r="1.3" fill="#a4b67c"/>
<circle cx="236.51" cy="210.65" r="1.3" fill="#a4b67c"/>
<circle cx="235.80" cy="188.03" r="1.3" fill="#a4b67c"/>
<circle cx="235.80" cy="197.17" r="1.3" fill="#a4b67c"/>
<circle cx="235.80" cy="201.23" r="1.3" fill="#a4b67c"/>
<circle cx="233.80" cy="204.61" r="1.3" fill="#a4b67c"/>
<circle cx="237.60" cy="205.63" r="1.3" fill="#a4b67c"/>
<circle cx="235.00" cy="206.98" r="1.3" fill="#a4b67c"/>
<circle cx="244.73" cy="229.27" r="1.3" fill="#a4b67c"/>
<circle cx="246.87" cy="229.35" r="1.3" fill="#a4b67c"/>
<circle cx="248.55" cy="229.42" r="1.3" fill="#a4b67c"/>
<circle cx="244.75" cy="227.51" r="1.3" fill="#a4b67c"/>
<circle cx="246.88" cy="227.64" r="1.3" fill="#a4b67c"/>
<circle cx="248.54" cy="227.25" r="1.3" fill="#a4b67c"/>
<circle cx="244.85" cy="225.65" r="1.3" fill="#a4b67c"/>
<circle cx="246.88" cy="225.50" r="1.3" fill="#a4b67c"/>
<circle cx="249.02" cy="225.25" r="1.3" fill="#a4b67c"/>
<circle cx="244.86" cy="223.75" r="1.3" fill="#a4b67c"/>
<circle cx="246.37" cy="223.96" r="1.3" fill="#a4b67c"/>
<circle cx="248.39" cy="223.65" r="1.3" fill="#a4b67c"/>
<circle cx="244.58" cy="221.85" r="1.3" fill="#a4b67c"/>
<circle cx="246.46" cy="221.79" r="1.3" fill="#a4b67c"/>
<circle cx="248.94" cy="221.80" r="1.3" fill="#a4b67c"/>
<circle cx="244.46" cy="220.04" r="1.3" fill="#a4b67c"/>
<circle cx="246.99" cy="220.37" r="1.3" fill="#a4b67c"/>
<circle cx="248.93" cy="220.67" r="1.3" fill="#a4b67c"/>
<circle cx="244.85" cy="218.52" r="1.3" fill="#a4b67c"/>
<circle cx="246.62" cy="218.43" r="1.3" fill="#a4b67c"/>
<circle cx="248.61" cy="218.92" r="1.3" fill="#a4b67c"/>
<circle cx="245.04" cy="217.02" r="1.3" fill="#a4b67c"/>
<circle cx="246.97" cy="217.07" r="1.3" fill="#a4b67c"/>
<circle cx="248.48" cy="216.87" r="1.3" fill="#a4b67c"/>
<circle cx="244.97" cy="215.00" r="1.3" fill="#a4b67c"/>
<circle cx="246.95" cy="215.05" r="1.3" fill="#a4b67c"/>
<circle cx="248.28" cy="214.92" r="1.3" fill="#a4b67c"/>
<circle cx="245.55" cy="213.14" r="1.3" fill="#a4b67c"/>
<circle cx="248.11" cy="213.56" r="1.3" fill="#a4b67c"/>
<circle cx="245.49" cy="211.71" r="1.3" fill="#a4b67c"/>
<circle cx="247.29" cy="211.90" r="1.3" fill="#a4b67c"/>
<circle cx="246.18" cy="211.67" r="1.3" fill="#a4b67c"/>
<circle cx="244.60" cy="201.57" r="1.3" fill="#a4b67c"/>
<circle cx="246.90" cy="203.94" r="1.3" fill="#a4b67c"/>
<circle cx="249.10" cy="201.57" r="1.3" fill="#a4b67c"/>
<circle cx="246.70" cy="191.41" r="1.3" fill="#a4b67c"/>
<circle cx="246.70" cy="183.29" r="1.3" fill="#a4b67c"/>
<circle cx="255.48" cy="229.43" r="1.3" fill="#a4b67c"/>
<circle cx="257.92" cy="229.38" r="1.3" fill="#a4b67c"/>
<circle cx="259.80" cy="229.35" r="1.3" fill="#a4b67c"/>
<circle cx="255.25" cy="227.43" r="1.3" fill="#a4b67c"/>
<circle cx="257.42" cy="227.50" r="1.3" fill="#a4b67c"/>
<circle cx="259.55" cy="227.38" r="1.3" fill="#a4b67c"/>
<circle cx="255.63" cy="225.64" r="1.3" fill="#a4b67c"/>
<circle cx="257.83" cy="225.93" r="1.3" fill="#a4b67c"/>
<circle cx="259.49" cy="225.80" r="1.3" fill="#a4b67c"/>
<circle cx="255.87" cy="223.76" r="1.3" fill="#a4b67c"/>
<circle cx="257.34" cy="223.84" r="1.3" fill="#a4b67c"/>
<circle cx="259.79" cy="223.86" r="1.3" fill="#a4b67c"/>
<circle cx="255.38" cy="222.23" r="1.3" fill="#a4b67c"/>
<circle cx="257.48" cy="222.36" r="1.3" fill="#a4b67c"/>
<circle cx="259.37" cy="222.16" r="1.3" fill="#a4b67c"/>
<circle cx="255.52" cy="220.68" r="1.3" fill="#a4b67c"/>
<circle cx="257.35" cy="220.61" r="1.3" fill="#a4b67c"/>
<circle cx="259.54" cy="220.25" r="1.3" fill="#a4b67c"/>
<circle cx="255.40" cy="218.59" r="1.3" fill="#a4b67c"/>
<circle cx="257.90" cy="218.94" r="1.3" fill="#a4b67c"/>
<circle cx="259.91" cy="218.67" r="1.3" fill="#a4b67c"/>
<circle cx="255.46" cy="216.85" r="1.3" fill="#a4b67c"/>
<circle cx="257.70" cy="216.70" r="1.3" fill="#a4b67c"/>
<circle cx="259.89" cy="216.55" r="1.3" fill="#a4b67c"/>
<circle cx="255.60" cy="214.88" r="1.3" fill="#a4b67c"/>
<circle cx="257.37" cy="214.78" r="1.3" fill="#a4b67c"/>
<circle cx="259.24" cy="215.00" r="1.3" fill="#a4b67c"/>
<circle cx="256.23" cy="213.37" r="1.3" fill="#a4b67c"/>
<circle cx="257.69" cy="213.23" r="1.3" fill="#a4b67c"/>
<circle cx="259.04" cy="213.38" r="1.3" fill="#a4b67c"/>
<circle cx="256.25" cy="211.30" r="1.3" fill="#a4b67c"/>
<circle cx="257.70" cy="211.39" r="1.3" fill="#a4b67c"/>
<circle cx="259.25" cy="211.49" r="1.3" fill="#a4b67c"/>
<circle cx="256.02" cy="209.59" r="1.3" fill="#a4b67c"/>
<circle cx="259.14" cy="209.87" r="1.3" fill="#a4b67c"/>
<circle cx="256.19" cy="208.37" r="1.3" fill="#a4b67c"/>
<circle cx="258.56" cy="207.94" r="1.3" fill="#a4b67c"/>
<circle cx="256.41" cy="206.20" r="1.3" fill="#a4b67c"/>
<circle cx="258.48" cy="206.62" r="1.3" fill="#a4b67c"/>
<circle cx="257.28" cy="206.25" r="1.3" fill="#a4b67c"/>
<circle cx="256.10" cy="201.23" r="1.3" fill="#a4b67c"/>
<circle cx="259.10" cy="201.23" r="1.3" fill="#a4b67c"/>
<circle cx="256.10" cy="196.49" r="1.3" fill="#a4b67c"/>
<circle cx="259.60" cy="197.50" r="1.3" fill="#a4b67c"/>
<circle cx="257.60" cy="188.03" r="1.3" fill="#a4b67c"/>
<circle cx="266.63" cy="228.80" r="1.3" fill="#a4b67c"/>
<circle cx="268.58" cy="229.33" r="1.3" fill="#a4b67c"/>
<circle cx="270.73" cy="229.10" r="1.3" fill="#a4b67c"/>
<circle cx="266.59" cy="227.25" r="1.3" fill="#a4b67c"/>
<circle cx="268.52" cy="227.07" r="1.3" fill="#a4b67c"/>
<circle cx="270.63" cy="227.41" r="1.3" fill="#a4b67c"/>
<circle cx="266.35" cy="225.51" r="1.3" fill="#a4b67c"/>
<circle cx="268.67" cy="225.55" r="1.3" fill="#a4b67c"/>
<circle cx="270.82" cy="225.92" r="1.3" fill="#a4b67c"/>
<circle cx="266.74" cy="223.55" r="1.3" fill="#a4b67c"/>
<circle cx="268.20" cy="223.69" r="1.3" fill="#a4b67c"/>
<circle cx="270.40" cy="223.98" r="1.3" fill="#a4b67c"/>
<circle cx="266.73" cy="222.13" r="1.3" fill="#a4b67c"/>
<circle cx="268.60" cy="222.14" r="1.3" fill="#a4b67c"/>
<circle cx="270.17" cy="222.11" r="1.3" fill="#a4b67c"/>
<circle cx="266.30" cy="220.28" r="1.3" fill="#a4b67c"/>
<circle cx="268.16" cy="220.45" r="1.3" fill="#a4b67c"/>
<circle cx="270.79" cy="220.04" r="1.3" fill="#a4b67c"/>
<circle cx="266.56" cy="218.26" r="1.3" fill="#a4b67c"/>
<circle cx="268.40" cy="218.35" r="1.3" fill="#a4b67c"/>
<circle cx="270.75" cy="218.75" r="1.3" fill="#a4b67c"/>
<circle cx="266.82" cy="216.64" r="1.3" fill="#a4b67c"/>
<circle cx="268.65" cy="216.98" r="1.3" fill="#a4b67c"/>
<circle cx="270.46" cy="217.13" r="1.3" fill="#a4b67c"/>
<circle cx="266.77" cy="214.94" r="1.3" fill="#a4b67c"/>
<circle cx="268.65" cy="215.08" r="1.3" fill="#a4b67c"/>
<circle cx="270.12" cy="215.17" r="1.3" fill="#a4b67c"/>
<circle cx="266.51" cy="213.30" r="1.3" fill="#a4b67c"/>
<circle cx="268.54" cy="212.99" r="1.3" fill="#a4b67c"/>
<circle cx="270.28" cy="213.05" r="1.3" fill="#a4b67c"/>
<circle cx="267.09" cy="211.48" r="1.3" fill="#a4b67c"/>
<circle cx="268.17" cy="211.94" r="1.3" fill="#a4b67c"/>
<circle cx="269.71" cy="211.35" r="1.3" fill="#a4b67c"/>
<circle cx="267.17" cy="209.66" r="1.3" fill="#a4b67c"/>
<circle cx="269.85" cy="209.82" r="1.3" fill="#a4b67c"/>
<circle cx="267.43" cy="208.12" r="1.3" fill="#a4b67c"/>
<circle cx="269.48" cy="207.89" r="1.3" fill="#a4b67c"/>
<circle cx="267.79" cy="206.29" r="1.3" fill="#a4b67c"/>
<circle cx="269.36" cy="206.63" r="1.3" fill="#a4b67c"/>
<circle cx="267.71" cy="206.25" r="1.3" fill="#a4b67c"/>
<circle cx="266.40" cy="195.47" r="1.3" fill="#a4b67c"/>
<circle cx="269.90" cy="194.63" r="1.3" fill="#a4b67c"/>
<circle cx="266.90" cy="199.20" r="1.3" fill="#a4b67c"/>
<circle cx="269.90" cy="200.21" r="1.3" fill="#a4b67c"/>
<circle cx="266.10" cy="202.92" r="1.3" fill="#a4b67c"/>
<circle cx="269.90" cy="203.94" r="1.3" fill="#a4b67c"/>
<circle cx="277.50" cy="229.04" r="1.3" fill="#a4b67c"/>
<circle cx="279.56" cy="228.79" r="1.3" fill="#a4b67c"/>
<circle cx="281.54" cy="229.00" r="1.3" fill="#a4b67c"/>
<circle cx="277.48" cy="227.11" r="1.3" fill="#a4b67c"/>
<circle cx="279.29" cy="227.18" r="1.3" fill="#a4b67c"/>
<circle cx="281.28" cy="227.50" r="1.3" fill="#a4b67c"/>
<circle cx="277.38" cy="225.91" r="1.3" fill="#a4b67c"/>
<circle cx="279.46" cy="225.40" r="1.3" fill="#a4b67c"/>
<circle cx="281.48" cy="225.61" r="1.3" fill="#a4b67c"/>
<circle cx="277.15" cy="223.86" r="1.3" fill="#a4b67c"/>
<circle cx="279.06" cy="223.75" r="1.3" fill="#a4b67c"/>
<circle cx="281.43" cy="223.97" r="1.3" fill="#a4b67c"/>
<circle cx="277.72" cy="222.17" r="1.3" fill="#a4b67c"/>
<circle cx="279.07" cy="222.07" r="1.3" fill="#a4b67c"/>
<circle cx="281.23" cy="222.26" r="1.3" fill="#a4b67c"/>
<circle cx="277.71" cy="220.05" r="1.3" fill="#a4b67c"/>
<circle cx="279.59" cy="220.20" r="1.3" fill="#a4b67c"/>
<circle cx="281.14" cy="220.31" r="1.3" fill="#a4b67c"/>
<circle cx="277.56" cy="218.44" r="1.3" fill="#a4b67c"/>
<circle cx="279.23" cy="218.54" r="1.3" fill="#a4b67c"/>
<circle cx="281.32" cy="218.35" r="1.3" fill="#a4b67c"/>
<circle cx="277.73" cy="216.66" r="1.3" fill="#a4b67c"/>
<circle cx="279.56" cy="216.66" r="1.3" fill="#a4b67c"/>
<circle cx="281.15" cy="216.51" r="1.3" fill="#a4b67c"/>
<circle cx="278.30" cy="215.04" r="1.3" fill="#a4b67c"/>
<circle cx="281.05" cy="215.30" r="1.3" fill="#a4b67c"/>
<circle cx="278.59" cy="213.01" r="1.3" fill="#a4b67c"/>
<circle cx="280.62" cy="213.36" r="1.3" fill="#a4b67c"/>
<circle cx="280.02" cy="212.68" r="1.3" fill="#a4b67c"/>
<circle cx="277.80" cy="207.66" r="1.3" fill="#a4b67c"/>
<circle cx="281.30" cy="208.00" r="1.3" fill="#a4b67c"/>
<circle cx="279.40" cy="200.21" r="1.3" fill="#a4b67c"/>
<circle cx="279.40" cy="195.13" r="1.3" fill="#a4b67c"/>
<circle cx="277.40" cy="186.33" r="1.3" fill="#a4b67c"/>
<circle cx="280.90" cy="186.67" r="1.3" fill="#a4b67c"/>
<line x1="188.60" y1="220.20" x2="195.80" y2="220.20" stroke="#222" stroke-width="0.6" stroke-dasharray="1.2,0.9"/>
<line x1="199.20" y1="207.00" x2="200.50" y2="207.00" stroke="#666" stroke-width="0.7"/>
<line x1="205.90" y1="207.00" x2="207.00" y2="207.00" stroke="#888" stroke-width="0.7"/>
<line x1="210.40" y1="218.60" x2="217.60" y2="218.60" stroke="#222" stroke-width="0.6" stroke-dasharray="1.2,0.9"/>
<line x1="221.30" y1="218.60" x2="228.50" y2="218.60" stroke="#222" stroke-width="0.6" stroke-dasharray="1.2,0.9"/>
<line x1="232.20" y1="219.00" x2="239.40" y2="219.00" stroke="#222" stroke-width="0.6" stroke-dasharray="1.2,0.9"/>
<line x1="243.10" y1="219.20" x2="250.30" y2="219.20" stroke="#222" stroke-width="0.6" stroke-dasharray="1.2,0.9"/>
<line x1="254.00" y1="219.20" x2="261.20" y2="219.20" stroke="#222" stroke-width="0.6" stroke-dasharray="1.2,0.9"/>
<line x1="264.90" y1="219.40" x2="272.10" y2="219.40" stroke="#222" stroke-width="0.6" stroke-dasharray="1.2,0.9"/>
<line x1="275.80" y1="220.60" x2="283.00" y2="220.60" stroke="#222" stroke-width="0.6" stroke-dasharray="1.2,0.9"/>
<line x1="185.00" y1="230.00" x2="286.00" y2="230.00" stroke="#000" stroke-width="1.15"/>
<line x1="192.20" y1="230.00" x2="192.20" y2="232.90" stroke="#000" stroke-width="1.15"/>
<line x1="203.10" y1="230.00" x2="203.10" y2="232.90" stroke="#000" stroke-width="1.15"/>
<line x1="214.00" y1="230.00" x2="214.00" y2="232.90" stroke="#000" stroke-width="1.15"/>
<line x1="224.90" y1="230.00" x2="224.90" y2="232.90" stroke="#000" stroke-width="1.15"/>
<line x1="235.80" y1="230.00" x2="235.80" y2="232.90" stroke="#000" stroke-width="1.15"/>
<line x1="246.70" y1="230.00" x2="246.70" y2="232.90" stroke="#000" stroke-width="1.15"/>
<line x1="257.60" y1="230.00" x2="257.60" y2="232.90" stroke="#000" stroke-width="1.15"/>
<line x1="268.50" y1="230.00" x2="268.50" y2="232.90" stroke="#000" stroke-width="1.15"/>
<line x1="279.40" y1="230.00" x2="279.40" y2="232.90" stroke="#000" stroke-width="1.15"/>
<path d="M192.00,169.00 V166.40 H203.10 V169.00" fill="none" stroke="#1e1e1e" stroke-width="1.0"/>
<path d="M203.10,171.40 V169.20 H280.00 V171.40" fill="none" stroke="#1e1e1e" stroke-width="1.0"/>
<text x="224.00" y="163.00" font-size="6.8" text-anchor="start" fill="#231f20" stroke="#231f20" stroke-width="0.14" textLength="23.00" lengthAdjust="spacingAndGlyphs" style="">γ-H2AX</text>
<text transform="translate(158.80,194.60) rotate(-90)" x="0" y="3.06" font-size="8.5" text-anchor="middle" fill="#231f20" stroke="#231f20" stroke-width="0.14" textLength="36.80" lengthAdjust="spacingAndGlyphs">Foci per cell</text>
<circle cx="188.45" cy="190.90" r="0.8" fill="#3a3a3a"/>
<circle cx="190.75" cy="190.90" r="0.8" fill="#3a3a3a"/>
<circle cx="193.05" cy="190.90" r="0.8" fill="#3a3a3a"/>
<circle cx="195.35" cy="190.90" r="0.8" fill="#3a3a3a"/>
<circle cx="210.25" cy="183.80" r="0.8" fill="#3a3a3a"/>
<circle cx="212.55" cy="183.80" r="0.8" fill="#3a3a3a"/>
<circle cx="214.85" cy="183.80" r="0.8" fill="#3a3a3a"/>
<circle cx="217.15" cy="183.80" r="0.8" fill="#3a3a3a"/>
<circle cx="221.15" cy="183.80" r="0.8" fill="#3a3a3a"/>
<circle cx="223.45" cy="183.80" r="0.8" fill="#3a3a3a"/>
<circle cx="225.75" cy="183.80" r="0.8" fill="#3a3a3a"/>
<circle cx="228.05" cy="183.80" r="0.8" fill="#3a3a3a"/>
<circle cx="232.05" cy="183.80" r="0.8" fill="#3a3a3a"/>
<circle cx="234.35" cy="183.80" r="0.8" fill="#3a3a3a"/>
<circle cx="236.65" cy="183.80" r="0.8" fill="#3a3a3a"/>
<circle cx="238.95" cy="183.80" r="0.8" fill="#3a3a3a"/>
<circle cx="242.95" cy="179.00" r="0.8" fill="#3a3a3a"/>
<circle cx="245.25" cy="179.00" r="0.8" fill="#3a3a3a"/>
<circle cx="247.55" cy="179.00" r="0.8" fill="#3a3a3a"/>
<circle cx="249.85" cy="179.00" r="0.8" fill="#3a3a3a"/>
<circle cx="253.85" cy="184.00" r="0.8" fill="#3a3a3a"/>
<circle cx="256.15" cy="184.00" r="0.8" fill="#3a3a3a"/>
<circle cx="258.45" cy="184.00" r="0.8" fill="#3a3a3a"/>
<circle cx="260.75" cy="184.00" r="0.8" fill="#3a3a3a"/>
<circle cx="264.75" cy="191.00" r="0.8" fill="#3a3a3a"/>
<circle cx="267.05" cy="191.00" r="0.8" fill="#3a3a3a"/>
<circle cx="269.35" cy="191.00" r="0.8" fill="#3a3a3a"/>
<circle cx="271.65" cy="191.00" r="0.8" fill="#3a3a3a"/>
<circle cx="275.65" cy="180.80" r="0.8" fill="#3a3a3a"/>
<circle cx="277.95" cy="180.80" r="0.8" fill="#3a3a3a"/>
<circle cx="280.25" cy="180.80" r="0.8" fill="#3a3a3a"/>
<circle cx="282.55" cy="180.80" r="0.8" fill="#3a3a3a"/>
<text x="178.30" y="242.00" font-size="6.7" text-anchor="end" fill="#231f20" stroke="#231f20" stroke-width="0.14" textLength="13.80" lengthAdjust="spacingAndGlyphs" style="">RIBE</text>
<line x1="191.35" y1="240.15" x2="193.05" y2="240.15" stroke="#444" stroke-width="0.7"/>
<line x1="201.65" y1="240.15" x2="204.55" y2="240.15" stroke="#333" stroke-width="0.7"/>
<line x1="203.10" y1="238.70" x2="203.10" y2="241.60" stroke="#333" stroke-width="0.7"/>
<line x1="212.55" y1="240.15" x2="215.45" y2="240.15" stroke="#333" stroke-width="0.7"/>
<line x1="214.00" y1="238.70" x2="214.00" y2="241.60" stroke="#333" stroke-width="0.7"/>
<line x1="223.45" y1="240.15" x2="226.35" y2="240.15" stroke="#333" stroke-width="0.7"/>
<line x1="224.90" y1="238.70" x2="224.90" y2="241.60" stroke="#333" stroke-width="0.7"/>
<line x1="234.35" y1="240.15" x2="237.25" y2="240.15" stroke="#333" stroke-width="0.7"/>
<line x1="235.80" y1="238.70" x2="235.80" y2="241.60" stroke="#333" stroke-width="0.7"/>
<line x1="245.25" y1="240.15" x2="248.15" y2="240.15" stroke="#333" stroke-width="0.7"/>
<line x1="246.70" y1="238.70" x2="246.70" y2="241.60" stroke="#333" stroke-width="0.7"/>
<line x1="256.15" y1="240.15" x2="259.05" y2="240.15" stroke="#333" stroke-width="0.7"/>
<line x1="257.60" y1="238.70" x2="257.60" y2="241.60" stroke="#333" stroke-width="0.7"/>
<line x1="267.05" y1="240.15" x2="269.95" y2="240.15" stroke="#333" stroke-width="0.7"/>
<line x1="268.50" y1="238.70" x2="268.50" y2="241.60" stroke="#333" stroke-width="0.7"/>
<line x1="277.95" y1="240.15" x2="280.85" y2="240.15" stroke="#333" stroke-width="0.7"/>
<line x1="279.40" y1="238.70" x2="279.40" y2="241.60" stroke="#333" stroke-width="0.7"/>
<text x="178.30" y="249.80" font-size="6.7" text-anchor="end" fill="#231f20" stroke="#231f20" stroke-width="0.14" textLength="14.30" lengthAdjust="spacingAndGlyphs" style="">NAC</text>
<line x1="191.35" y1="247.95" x2="193.05" y2="247.95" stroke="#444" stroke-width="0.7"/>
<line x1="202.25" y1="247.95" x2="203.95" y2="247.95" stroke="#444" stroke-width="0.7"/>
<line x1="212.55" y1="247.95" x2="215.45" y2="247.95" stroke="#333" stroke-width="0.7"/>
<line x1="214.00" y1="246.50" x2="214.00" y2="249.40" stroke="#333" stroke-width="0.7"/>
<line x1="224.05" y1="247.95" x2="225.75" y2="247.95" stroke="#444" stroke-width="0.7"/>
<line x1="234.95" y1="247.95" x2="236.65" y2="247.95" stroke="#444" stroke-width="0.7"/>
<line x1="245.25" y1="247.95" x2="248.15" y2="247.95" stroke="#333" stroke-width="0.7"/>
<line x1="246.70" y1="246.50" x2="246.70" y2="249.40" stroke="#333" stroke-width="0.7"/>
<line x1="256.15" y1="247.95" x2="259.05" y2="247.95" stroke="#333" stroke-width="0.7"/>
<line x1="257.60" y1="246.50" x2="257.60" y2="249.40" stroke="#333" stroke-width="0.7"/>
<line x1="267.65" y1="247.95" x2="269.35" y2="247.95" stroke="#444" stroke-width="0.7"/>
<line x1="277.95" y1="247.95" x2="280.85" y2="247.95" stroke="#333" stroke-width="0.7"/>
<line x1="279.40" y1="246.50" x2="279.40" y2="249.40" stroke="#333" stroke-width="0.7"/>
<text x="178.30" y="257.80" font-size="6.7" text-anchor="end" fill="#231f20" stroke="#231f20" stroke-width="0.14" textLength="7.40" lengthAdjust="spacingAndGlyphs" style="">SF</text>
<line x1="191.35" y1="255.95" x2="193.05" y2="255.95" stroke="#444" stroke-width="0.7"/>
<line x1="202.25" y1="255.95" x2="203.95" y2="255.95" stroke="#444" stroke-width="0.7"/>
<line x1="213.15" y1="255.95" x2="214.85" y2="255.95" stroke="#444" stroke-width="0.7"/>
<line x1="223.45" y1="255.95" x2="226.35" y2="255.95" stroke="#333" stroke-width="0.7"/>
<line x1="224.90" y1="254.50" x2="224.90" y2="257.40" stroke="#333" stroke-width="0.7"/>
<line x1="234.95" y1="255.95" x2="236.65" y2="255.95" stroke="#444" stroke-width="0.7"/>
<line x1="245.25" y1="255.95" x2="248.15" y2="255.95" stroke="#333" stroke-width="0.7"/>
<line x1="246.70" y1="254.50" x2="246.70" y2="257.40" stroke="#333" stroke-width="0.7"/>
<line x1="256.75" y1="255.95" x2="258.45" y2="255.95" stroke="#444" stroke-width="0.7"/>
<line x1="267.05" y1="255.95" x2="269.95" y2="255.95" stroke="#333" stroke-width="0.7"/>
<line x1="268.50" y1="254.50" x2="268.50" y2="257.40" stroke="#333" stroke-width="0.7"/>
<line x1="277.95" y1="255.95" x2="280.85" y2="255.95" stroke="#333" stroke-width="0.7"/>
<line x1="279.40" y1="254.50" x2="279.40" y2="257.40" stroke="#333" stroke-width="0.7"/>
<text x="178.30" y="265.80" font-size="6.7" text-anchor="end" fill="#231f20" stroke="#231f20" stroke-width="0.14" textLength="10.50" lengthAdjust="spacingAndGlyphs" style="">Res</text>
<line x1="191.35" y1="263.95" x2="193.05" y2="263.95" stroke="#444" stroke-width="0.7"/>
<line x1="202.25" y1="263.95" x2="203.95" y2="263.95" stroke="#444" stroke-width="0.7"/>
<line x1="213.15" y1="263.95" x2="214.85" y2="263.95" stroke="#444" stroke-width="0.7"/>
<line x1="224.05" y1="263.95" x2="225.75" y2="263.95" stroke="#444" stroke-width="0.7"/>
<line x1="234.35" y1="263.95" x2="237.25" y2="263.95" stroke="#333" stroke-width="0.7"/>
<line x1="235.80" y1="262.50" x2="235.80" y2="265.40" stroke="#333" stroke-width="0.7"/>
<line x1="245.85" y1="263.95" x2="247.55" y2="263.95" stroke="#444" stroke-width="0.7"/>
<line x1="256.15" y1="263.95" x2="259.05" y2="263.95" stroke="#333" stroke-width="0.7"/>
<line x1="257.60" y1="262.50" x2="257.60" y2="265.40" stroke="#333" stroke-width="0.7"/>
<line x1="267.05" y1="263.95" x2="269.95" y2="263.95" stroke="#333" stroke-width="0.7"/>
<line x1="268.50" y1="262.50" x2="268.50" y2="265.40" stroke="#333" stroke-width="0.7"/>
<line x1="277.95" y1="263.95" x2="280.85" y2="263.95" stroke="#333" stroke-width="0.7"/>
<line x1="279.40" y1="262.50" x2="279.40" y2="265.40" stroke="#333" stroke-width="0.7"/>
<text x="7.50" y="293.80" font-size="11.7" text-anchor="start" fill="#000" style="font-weight:bold;">D</text>
<defs><radialGradient id="nuc" cx="50%" cy="45%" r="60%"><stop offset="0" stop-color="#1717dc"/><stop offset="0.75" stop-color="#1313cc"/><stop offset="1" stop-color="#0d0da6"/></radialGradient><radialGradient id="nuc2" cx="50%" cy="50%" r="60%"><stop offset="0" stop-color="#0c1a9a"/><stop offset="0.6" stop-color="#1636e0"/><stop offset="1" stop-color="#1a3cf0"/></radialGradient><filter id="soft" x="-20%" y="-20%" width="140%" height="140%"><feGaussianBlur stdDeviation="0.35"/></filter><pattern id="stripe" patternUnits="userSpaceOnUse" width="3.1" height="3.1" patternTransform="rotate(-45)"><rect width="3.1" height="3.1" fill="#27427e"/><rect width="1.15" height="3.1" fill="#6cb83c"/></pattern></defs>
<rect x="35.00" y="294.00" width="37.90" height="33.70" fill="#000" stroke="none" stroke-width="0"/>
<g filter="url(#soft)">
<path d="M66.44,310.30 C66.25,311.19 65.79,312.03 65.42,312.83 C65.06,313.64 64.71,314.39 64.26,315.12 C63.81,315.86 63.35,316.62 62.74,317.22 C62.12,317.82 61.34,318.34 60.56,318.73 C59.77,319.12 58.89,319.32 58.03,319.56 C57.17,319.81 56.32,320.03 55.40,320.19 C54.48,320.35 53.46,320.60 52.49,320.53 C51.53,320.46 50.42,320.25 49.61,319.76 C48.80,319.28 48.10,318.42 47.63,317.63 C47.15,316.84 47.00,315.85 46.74,315.02 C46.48,314.19 46.34,313.44 46.09,312.65 C45.84,311.87 45.43,311.13 45.24,310.30 C45.05,309.47 44.84,308.52 44.95,307.66 C45.06,306.80 45.43,305.89 45.90,305.12 C46.36,304.36 47.07,303.70 47.75,303.08 C48.42,302.46 49.16,301.88 49.96,301.41 C50.76,300.93 51.64,300.45 52.54,300.25 C53.45,300.04 54.49,300.03 55.40,300.19 C56.31,300.35 57.18,300.84 57.98,301.21 C58.78,301.59 59.44,302.06 60.21,302.44 C60.98,302.82 61.80,303.06 62.62,303.49 C63.43,303.92 64.44,304.35 65.10,305.02 C65.76,305.68 66.34,306.60 66.56,307.48 C66.79,308.36 66.63,309.41 66.44,310.30 Z" fill="url(#nuc)" transform="rotate(0 55.4 310.3)"/>
<circle cx="59.87" cy="316.16" r="0.65" fill="#06066a" opacity="0.55"/>
<circle cx="49.81" cy="309.10" r="0.64" fill="#06066a" opacity="0.55"/>
<circle cx="53.57" cy="310.22" r="0.90" fill="#06066a" opacity="0.55"/>
<circle cx="57.99" cy="311.44" r="0.90" fill="#06066a" opacity="0.55"/>
<circle cx="56.94" cy="307.51" r="0.76" fill="#06066a" opacity="0.55"/>
<circle cx="48.96" cy="304.06" r="1.00" fill="#06066a" opacity="0.55"/>
<circle cx="47.95" cy="315.65" r="0.63" fill="#06066a" opacity="0.55"/>
<circle cx="58.60" cy="306.55" r="0.70" fill="#06066a" opacity="0.55"/>
<circle cx="59.29" cy="313.65" r="1.17" fill="#06066a" opacity="0.55"/>
<circle cx="58.45" cy="316.48" r="1.05" fill="#06066a" opacity="0.55"/>
<circle cx="50.53" cy="315.06" r="0.64" fill="#06066a" opacity="0.55"/>
<circle cx="59.40" cy="311.78" r="1.08" fill="#06066a" opacity="0.55"/>
<circle cx="50.63" cy="312.51" r="1.01" fill="#06066a" opacity="0.55"/>
<circle cx="50.43" cy="311.73" r="1.16" fill="#06066a" opacity="0.55"/>
<circle cx="53.91" cy="306.11" r="1.00" fill="#06066a" opacity="0.55"/>
<circle cx="46.64" cy="308.99" r="1.11" fill="#06066a" opacity="0.55"/>
<circle cx="53.19" cy="318.91" r="0.68" fill="#06066a" opacity="0.55"/>
<circle cx="48.22" cy="314.14" r="0.71" fill="#06066a" opacity="0.55"/>
<circle cx="53.53" cy="310.43" r="1.07" fill="#06066a" opacity="0.55"/>
<circle cx="56.04" cy="303.56" r="1.21" fill="#06066a" opacity="0.55"/>
<circle cx="52.32" cy="317.17" r="1.02" fill="#06066a" opacity="0.55"/>
<circle cx="49.78" cy="307.40" r="1.19" fill="#06066a" opacity="0.55"/>
<circle cx="61.53" cy="308.18" r="1.06" fill="#06066a" opacity="0.55"/>
<circle cx="62.77" cy="313.09" r="1.05" fill="#06066a" opacity="0.55"/>
<circle cx="63.99" cy="309.92" r="0.80" fill="#06066a" opacity="0.55"/>
<circle cx="49.57" cy="315.12" r="0.62" fill="#06066a" opacity="0.55"/>
<circle cx="51.63" cy="311.18" r="0.68" fill="#06066a" opacity="0.55"/>
<circle cx="63.15" cy="313.14" r="0.69" fill="#06066a" opacity="0.55"/>
<circle cx="55.49" cy="315.89" r="1.21" fill="#06066a" opacity="0.55"/>
<circle cx="60.96" cy="313.21" r="0.98" fill="#06066a" opacity="0.55"/>
<circle cx="61.76" cy="304.87" r="1.20" fill="#06066a" opacity="0.55"/>
<circle cx="54.32" cy="315.97" r="0.85" fill="#06066a" opacity="0.55"/>
<circle cx="62.31" cy="304.46" r="0.71" fill="#06066a" opacity="0.55"/>
<circle cx="57.44" cy="314.15" r="0.76" fill="#06066a" opacity="0.55"/>
<circle cx="50.43" cy="310.75" r="1.01" fill="#2a2aff" opacity="0.6"/>
<circle cx="58.95" cy="310.39" r="1.10" fill="#2a2aff" opacity="0.6"/>
<circle cx="48.00" cy="307.23" r="1.35" fill="#2a2aff" opacity="0.6"/>
<circle cx="50.19" cy="309.83" r="1.34" fill="#2a2aff" opacity="0.6"/>
<circle cx="62.59" cy="312.69" r="1.42" fill="#2a2aff" opacity="0.6"/>
<circle cx="60.16" cy="305.76" r="1.11" fill="#2a2aff" opacity="0.6"/>
<circle cx="54.69" cy="310.79" r="1.31" fill="#2a2aff" opacity="0.6"/>
<circle cx="55.93" cy="310.51" r="0.97" fill="#2a2aff" opacity="0.6"/>
</g>
<circle cx="56.72" cy="312.33" r="0.45" fill="#44dd66"/>
<circle cx="55.40" cy="310.30" r="0.45" fill="#44dd66"/>
<line x1="59.70" y1="326.60" x2="72.30" y2="326.60" stroke="#bdbdbd" stroke-width="0.7"/>
<text x="36.20" y="325.10" font-size="4.5" text-anchor="start" fill="#f4f4f4" style="">Ctrl</text>
<rect x="81.80" y="294.00" width="37.10" height="33.70" fill="#000" stroke="none" stroke-width="0"/>
<g filter="url(#soft)">
<path d="M111.46,310.00 C111.53,310.91 111.27,311.95 110.90,312.79 C110.54,313.63 109.86,314.37 109.30,315.05 C108.73,315.73 108.12,316.30 107.51,316.88 C106.89,317.46 106.31,318.06 105.62,318.51 C104.93,318.95 104.14,319.35 103.36,319.55 C102.57,319.75 101.72,319.74 100.90,319.73 C100.08,319.72 99.30,319.59 98.46,319.47 C97.63,319.35 96.74,319.29 95.90,319.01 C95.06,318.73 94.10,318.38 93.43,317.78 C92.77,317.17 92.21,316.27 91.92,315.40 C91.64,314.53 91.71,313.46 91.74,312.56 C91.76,311.66 91.99,310.83 92.06,310.00 C92.13,309.17 92.09,308.41 92.17,307.56 C92.24,306.72 92.22,305.78 92.49,304.95 C92.77,304.12 93.22,303.25 93.79,302.60 C94.36,301.94 95.16,301.44 95.92,301.01 C96.68,300.59 97.51,300.29 98.34,300.04 C99.17,299.79 100.04,299.54 100.90,299.53 C101.76,299.52 102.70,299.63 103.48,299.96 C104.27,300.29 104.99,300.93 105.60,301.52 C106.21,302.11 106.63,302.86 107.15,303.49 C107.67,304.12 108.17,304.66 108.72,305.30 C109.28,305.94 110.02,306.54 110.47,307.33 C110.93,308.11 111.39,309.09 111.46,310.00 Z" fill="url(#nuc)" transform="rotate(0 100.9 310.0)"/>
<circle cx="105.10" cy="313.24" r="0.62" fill="#06066a" opacity="0.55"/>
<circle cx="105.67" cy="304.96" r="0.70" fill="#06066a" opacity="0.55"/>
<circle cx="100.83" cy="315.32" r="0.85" fill="#06066a" opacity="0.55"/>
<circle cx="106.63" cy="315.80" r="1.30" fill="#06066a" opacity="0.55"/>
<circle cx="95.00" cy="311.34" r="0.66" fill="#06066a" opacity="0.55"/>
<circle cx="104.97" cy="313.17" r="0.79" fill="#06066a" opacity="0.55"/>
<circle cx="102.55" cy="306.80" r="0.62" fill="#06066a" opacity="0.55"/>
<circle cx="106.90" cy="307.99" r="0.70" fill="#06066a" opacity="0.55"/>
<circle cx="99.52" cy="309.60" r="0.97" fill="#06066a" opacity="0.55"/>
<circle cx="108.88" cy="308.84" r="1.09" fill="#06066a" opacity="0.55"/>
<circle cx="100.54" cy="315.46" r="0.72" fill="#06066a" opacity="0.55"/>
<circle cx="101.75" cy="303.47" r="1.15" fill="#06066a" opacity="0.55"/>
<circle cx="98.94" cy="313.75" r="1.17" fill="#06066a" opacity="0.55"/>
<circle cx="108.87" cy="309.19" r="1.16" fill="#06066a" opacity="0.55"/>
<circle cx="103.99" cy="302.93" r="0.76" fill="#06066a" opacity="0.55"/>
<circle cx="95.76" cy="309.41" r="0.62" fill="#06066a" opacity="0.55"/>
<circle cx="105.42" cy="310.83" r="0.78" fill="#06066a" opacity="0.55"/>
<circle cx="97.88" cy="301.74" r="0.91" fill="#06066a" opacity="0.55"/>
<circle cx="108.85" cy="306.51" r="1.27" fill="#06066a" opacity="0.55"/>
<circle cx="98.22" cy="313.19" r="0.76" fill="#06066a" opacity="0.55"/>
<circle cx="102.19" cy="313.86" r="1.04" fill="#06066a" opacity="0.55"/>
<circle cx="107.33" cy="305.13" r="0.94" fill="#06066a" opacity="0.55"/>
<circle cx="96.44" cy="303.39" r="0.66" fill="#06066a" opacity="0.55"/>
<circle cx="96.48" cy="302.72" r="1.15" fill="#06066a" opacity="0.55"/>
<circle cx="100.89" cy="303.75" r="0.72" fill="#06066a" opacity="0.55"/>
<circle cx="102.11" cy="304.94" r="1.16" fill="#06066a" opacity="0.55"/>
<circle cx="106.27" cy="308.98" r="0.88" fill="#06066a" opacity="0.55"/>
<circle cx="107.87" cy="307.45" r="0.72" fill="#06066a" opacity="0.55"/>
<circle cx="103.26" cy="312.51" r="1.23" fill="#06066a" opacity="0.55"/>
<circle cx="102.05" cy="306.76" r="1.18" fill="#06066a" opacity="0.55"/>
<circle cx="107.88" cy="309.07" r="0.85" fill="#06066a" opacity="0.55"/>
<circle cx="97.90" cy="309.02" r="0.61" fill="#06066a" opacity="0.55"/>
<circle cx="107.77" cy="308.65" r="0.97" fill="#06066a" opacity="0.55"/>
<circle cx="106.12" cy="307.57" r="1.21" fill="#06066a" opacity="0.55"/>
<circle cx="101.65" cy="308.48" r="1.00" fill="#2a2aff" opacity="0.6"/>
<circle cx="100.40" cy="311.87" r="1.27" fill="#2a2aff" opacity="0.6"/>
<circle cx="100.71" cy="313.38" r="0.90" fill="#2a2aff" opacity="0.6"/>
<circle cx="103.21" cy="308.46" r="1.17" fill="#2a2aff" opacity="0.6"/>
<circle cx="94.82" cy="306.36" r="1.14" fill="#2a2aff" opacity="0.6"/>
<circle cx="104.28" cy="307.99" r="1.23" fill="#2a2aff" opacity="0.6"/>
<circle cx="100.76" cy="309.98" r="1.15" fill="#2a2aff" opacity="0.6"/>
<circle cx="100.91" cy="310.03" r="1.44" fill="#2a2aff" opacity="0.6"/>
</g>
<circle cx="102.41" cy="312.96" r="0.45" fill="#44dd66"/>
<circle cx="100.30" cy="306.11" r="0.45" fill="#44dd66"/>
<circle cx="99.29" cy="313.26" r="0.45" fill="#44dd66"/>
<circle cx="95.89" cy="308.12" r="0.45" fill="#44dd66"/>
<line x1="105.70" y1="326.60" x2="118.30" y2="326.60" stroke="#bdbdbd" stroke-width="0.7"/>
<text x="83.00" y="325.10" font-size="4.5" text-anchor="start" fill="#f4f4f4" style="">RIBE</text>
<rect x="127.20" y="294.00" width="36.40" height="33.70" fill="#000" stroke="none" stroke-width="0"/>
<g filter="url(#soft)">
<path d="M157.73,309.80 C157.89,310.72 157.79,311.81 157.48,312.69 C157.17,313.57 156.48,314.38 155.87,315.08 C155.27,315.77 154.53,316.30 153.86,316.86 C153.18,317.42 152.55,317.97 151.83,318.42 C151.11,318.87 150.34,319.32 149.54,319.55 C148.73,319.78 147.84,319.82 147.00,319.79 C146.16,319.76 145.35,319.55 144.51,319.37 C143.67,319.20 142.83,319.05 141.98,318.76 C141.13,318.47 140.14,318.18 139.41,317.62 C138.68,317.06 137.95,316.25 137.59,315.40 C137.22,314.55 137.18,313.44 137.20,312.50 C137.23,311.57 137.57,310.66 137.73,309.80 C137.89,308.94 138.03,308.20 138.17,307.36 C138.30,306.52 138.29,305.62 138.55,304.78 C138.81,303.93 139.17,302.99 139.71,302.29 C140.26,301.60 141.06,301.02 141.83,300.58 C142.61,300.14 143.50,299.88 144.36,299.65 C145.22,299.42 146.11,299.22 147.00,299.19 C147.89,299.16 148.86,299.19 149.69,299.48 C150.52,299.76 151.33,300.32 151.98,300.92 C152.62,301.51 153.07,302.35 153.55,303.05 C154.04,303.75 154.41,304.41 154.91,305.10 C155.40,305.79 156.05,306.39 156.52,307.17 C156.99,307.96 157.57,308.88 157.73,309.80 Z" fill="url(#nuc)" transform="rotate(0 147.0 309.8)"/>
<circle cx="142.85" cy="308.11" r="0.79" fill="#06066a" opacity="0.55"/>
<circle cx="147.87" cy="303.30" r="0.99" fill="#06066a" opacity="0.55"/>
<circle cx="147.52" cy="301.02" r="0.91" fill="#06066a" opacity="0.55"/>
<circle cx="142.16" cy="305.55" r="0.96" fill="#06066a" opacity="0.55"/>
<circle cx="144.87" cy="304.01" r="0.97" fill="#06066a" opacity="0.55"/>
<circle cx="138.41" cy="311.04" r="1.09" fill="#06066a" opacity="0.55"/>
<circle cx="153.18" cy="303.52" r="0.78" fill="#06066a" opacity="0.55"/>
<circle cx="138.91" cy="306.55" r="1.19" fill="#06066a" opacity="0.55"/>
<circle cx="149.03" cy="312.24" r="0.91" fill="#06066a" opacity="0.55"/>
<circle cx="150.94" cy="311.79" r="0.65" fill="#06066a" opacity="0.55"/>
<circle cx="143.15" cy="302.67" r="1.23" fill="#06066a" opacity="0.55"/>
<circle cx="151.28" cy="316.23" r="1.06" fill="#06066a" opacity="0.55"/>
<circle cx="152.24" cy="316.57" r="1.28" fill="#06066a" opacity="0.55"/>
<circle cx="148.66" cy="318.63" r="0.88" fill="#06066a" opacity="0.55"/>
<circle cx="138.13" cy="310.55" r="1.18" fill="#06066a" opacity="0.55"/>
<circle cx="150.10" cy="314.94" r="0.96" fill="#06066a" opacity="0.55"/>
<circle cx="144.90" cy="313.26" r="0.82" fill="#06066a" opacity="0.55"/>
<circle cx="146.78" cy="308.53" r="0.99" fill="#06066a" opacity="0.55"/>
<circle cx="145.88" cy="310.25" r="0.83" fill="#06066a" opacity="0.55"/>
<circle cx="142.43" cy="305.18" r="0.65" fill="#06066a" opacity="0.55"/>
<circle cx="154.90" cy="309.01" r="1.28" fill="#06066a" opacity="0.55"/>
<circle cx="150.65" cy="312.70" r="0.63" fill="#06066a" opacity="0.55"/>
<circle cx="147.83" cy="305.09" r="0.69" fill="#06066a" opacity="0.55"/>
<circle cx="139.47" cy="313.94" r="1.17" fill="#06066a" opacity="0.55"/>
<circle cx="146.82" cy="313.36" r="1.24" fill="#06066a" opacity="0.55"/>
<circle cx="140.23" cy="306.50" r="0.66" fill="#06066a" opacity="0.55"/>
<circle cx="153.94" cy="312.50" r="0.90" fill="#06066a" opacity="0.55"/>
<circle cx="154.78" cy="313.72" r="1.04" fill="#06066a" opacity="0.55"/>
<circle cx="147.82" cy="307.27" r="1.20" fill="#06066a" opacity="0.55"/>
<circle cx="154.59" cy="313.28" r="0.92" fill="#06066a" opacity="0.55"/>
<circle cx="143.47" cy="315.61" r="1.25" fill="#06066a" opacity="0.55"/>
<circle cx="146.64" cy="313.09" r="0.97" fill="#06066a" opacity="0.55"/>
<circle cx="147.22" cy="312.84" r="0.71" fill="#06066a" opacity="0.55"/>
<circle cx="150.82" cy="311.09" r="0.82" fill="#06066a" opacity="0.55"/>
<circle cx="144.95" cy="315.69" r="1.03" fill="#2a2aff" opacity="0.6"/>
<circle cx="145.58" cy="309.80" r="1.08" fill="#2a2aff" opacity="0.6"/>
<circle cx="148.99" cy="310.03" r="0.81" fill="#2a2aff" opacity="0.6"/>
<circle cx="146.52" cy="305.29" r="0.95" fill="#2a2aff" opacity="0.6"/>
<circle cx="139.62" cy="311.03" r="0.89" fill="#2a2aff" opacity="0.6"/>
<circle cx="148.44" cy="306.56" r="1.20" fill="#2a2aff" opacity="0.6"/>
<circle cx="148.59" cy="307.00" r="1.21" fill="#2a2aff" opacity="0.6"/>
<circle cx="143.99" cy="302.32" r="1.07" fill="#2a2aff" opacity="0.6"/>
</g>
<circle cx="149.43" cy="305.36" r="0.45" fill="#44dd66"/>
<circle cx="145.14" cy="307.60" r="0.45" fill="#44dd66"/>
<circle cx="146.78" cy="310.12" r="0.45" fill="#44dd66"/>
<circle cx="147.34" cy="310.17" r="0.45" fill="#44dd66"/>
<line x1="150.40" y1="326.60" x2="163.00" y2="326.60" stroke="#bdbdbd" stroke-width="0.7"/>
<text x="128.40" y="325.10" font-size="4.5" text-anchor="start" fill="#f4f4f4" style="">NAC</text>
<rect x="172.20" y="294.00" width="36.70" height="33.70" fill="#000" stroke="none" stroke-width="0"/>
<g filter="url(#soft)">
<path d="M201.69,311.00 C201.67,311.93 201.42,312.88 201.16,313.77 C200.90,314.66 200.50,315.47 200.12,316.33 C199.74,317.20 199.41,318.11 198.89,318.95 C198.38,319.80 197.80,320.79 197.03,321.40 C196.26,322.01 195.23,322.49 194.27,322.61 C193.32,322.73 192.22,322.40 191.30,322.11 C190.38,321.83 189.59,321.25 188.77,320.87 C187.96,320.50 187.22,320.22 186.41,319.86 C185.60,319.51 184.68,319.26 183.92,318.73 C183.16,318.21 182.37,317.51 181.85,316.72 C181.32,315.92 181.01,314.90 180.78,313.95 C180.56,313.00 180.50,311.99 180.49,311.00 C180.47,310.01 180.47,308.98 180.69,308.02 C180.90,307.06 181.22,306.03 181.76,305.23 C182.30,304.44 183.12,303.76 183.90,303.25 C184.68,302.74 185.62,302.52 186.43,302.17 C187.25,301.83 187.97,301.54 188.78,301.17 C189.59,300.79 190.39,300.20 191.30,299.91 C192.21,299.63 193.31,299.31 194.26,299.43 C195.21,299.55 196.24,300.04 197.01,300.64 C197.79,301.24 198.38,302.20 198.91,303.03 C199.44,303.86 199.81,304.75 200.21,305.62 C200.60,306.48 201.01,307.31 201.26,308.21 C201.51,309.10 201.70,310.07 201.69,311.00 Z" fill="url(#nuc)" transform="rotate(0 191.3 311.0)"/>
<circle cx="191.17" cy="315.01" r="0.66" fill="#06066a" opacity="0.55"/>
<circle cx="196.08" cy="303.21" r="1.07" fill="#06066a" opacity="0.55"/>
<circle cx="190.37" cy="315.79" r="0.81" fill="#06066a" opacity="0.55"/>
<circle cx="187.66" cy="312.00" r="0.91" fill="#06066a" opacity="0.55"/>
<circle cx="190.53" cy="320.70" r="1.28" fill="#06066a" opacity="0.55"/>
<circle cx="186.81" cy="309.58" r="1.28" fill="#06066a" opacity="0.55"/>
<circle cx="189.24" cy="316.52" r="0.60" fill="#06066a" opacity="0.55"/>
<circle cx="186.50" cy="315.64" r="0.95" fill="#06066a" opacity="0.55"/>
<circle cx="193.35" cy="317.72" r="0.60" fill="#06066a" opacity="0.55"/>
<circle cx="191.05" cy="313.96" r="0.88" fill="#06066a" opacity="0.55"/>
<circle cx="192.67" cy="311.39" r="0.81" fill="#06066a" opacity="0.55"/>
<circle cx="192.09" cy="318.55" r="0.97" fill="#06066a" opacity="0.55"/>
<circle cx="191.31" cy="302.95" r="1.10" fill="#06066a" opacity="0.55"/>
<circle cx="195.58" cy="306.72" r="0.83" fill="#06066a" opacity="0.55"/>
<circle cx="194.95" cy="310.62" r="1.11" fill="#06066a" opacity="0.55"/>
<circle cx="190.06" cy="309.38" r="1.18" fill="#06066a" opacity="0.55"/>
<circle cx="197.13" cy="306.04" r="1.11" fill="#06066a" opacity="0.55"/>
<circle cx="192.64" cy="307.57" r="0.97" fill="#06066a" opacity="0.55"/>
<circle cx="182.64" cy="310.77" r="1.16" fill="#06066a" opacity="0.55"/>
<circle cx="194.63" cy="304.26" r="1.22" fill="#06066a" opacity="0.55"/>
<circle cx="188.05" cy="303.46" r="0.76" fill="#06066a" opacity="0.55"/>
<circle cx="194.69" cy="311.70" r="0.85" fill="#06066a" opacity="0.55"/>
<circle cx="198.15" cy="316.56" r="0.99" fill="#06066a" opacity="0.55"/>
<circle cx="186.08" cy="305.36" r="1.08" fill="#06066a" opacity="0.55"/>
<circle cx="190.76" cy="311.04" r="1.16" fill="#06066a" opacity="0.55"/>
<circle cx="191.21" cy="303.96" r="0.97" fill="#06066a" opacity="0.55"/>
<circle cx="189.98" cy="308.85" r="1.12" fill="#06066a" opacity="0.55"/>
<circle cx="191.27" cy="313.71" r="0.79" fill="#06066a" opacity="0.55"/>
<circle cx="190.73" cy="306.54" r="1.12" fill="#06066a" opacity="0.55"/>
<circle cx="197.88" cy="309.92" r="0.87" fill="#06066a" opacity="0.55"/>
<circle cx="183.53" cy="312.09" r="1.14" fill="#06066a" opacity="0.55"/>
<circle cx="185.65" cy="305.67" r="0.65" fill="#06066a" opacity="0.55"/>
<circle cx="194.17" cy="315.00" r="1.12" fill="#06066a" opacity="0.55"/>
<circle cx="188.91" cy="318.05" r="0.61" fill="#06066a" opacity="0.55"/>
<circle cx="193.42" cy="311.89" r="1.34" fill="#2a2aff" opacity="0.6"/>
<circle cx="189.25" cy="305.40" r="1.03" fill="#2a2aff" opacity="0.6"/>
<circle cx="187.38" cy="310.58" r="1.17" fill="#2a2aff" opacity="0.6"/>
<circle cx="196.87" cy="316.38" r="0.96" fill="#2a2aff" opacity="0.6"/>
<circle cx="199.16" cy="309.84" r="0.81" fill="#2a2aff" opacity="0.6"/>
<circle cx="184.58" cy="312.87" r="1.57" fill="#2a2aff" opacity="0.6"/>
<circle cx="189.14" cy="311.75" r="0.97" fill="#2a2aff" opacity="0.6"/>
<circle cx="192.98" cy="310.37" r="1.27" fill="#2a2aff" opacity="0.6"/>
</g>
<circle cx="193.75" cy="314.16" r="0.45" fill="#44dd66"/>
<circle cx="192.24" cy="310.70" r="0.45" fill="#44dd66"/>
<circle cx="192.90" cy="307.42" r="0.45" fill="#44dd66"/>
<circle cx="195.25" cy="307.42" r="0.45" fill="#44dd66"/>
<line x1="195.70" y1="326.60" x2="208.30" y2="326.60" stroke="#bdbdbd" stroke-width="0.7"/>
<text x="173.40" y="325.10" font-size="4.5" text-anchor="start" fill="#f4f4f4" style="">SF</text>
<rect x="217.60" y="294.00" width="36.00" height="33.70" fill="#000" stroke="none" stroke-width="0"/>
<g filter="url(#soft)">
<path d="M248.33,310.20 C248.24,311.10 247.72,312.04 247.27,312.85 C246.82,313.66 246.20,314.35 245.64,315.05 C245.08,315.75 244.57,316.43 243.92,317.04 C243.28,317.65 242.58,318.27 241.79,318.69 C241.00,319.11 240.06,319.37 239.16,319.56 C238.26,319.75 237.34,319.76 236.40,319.82 C235.46,319.87 234.52,319.96 233.54,319.91 C232.55,319.86 231.42,319.84 230.49,319.50 C229.56,319.17 228.57,318.59 227.95,317.89 C227.32,317.18 226.98,316.15 226.75,315.26 C226.52,314.38 226.63,313.44 226.56,312.60 C226.49,311.75 226.42,311.02 226.33,310.20 C226.24,309.38 225.98,308.53 226.02,307.67 C226.07,306.81 226.20,305.84 226.59,305.05 C226.98,304.25 227.67,303.51 228.37,302.90 C229.07,302.28 229.94,301.81 230.79,301.37 C231.64,300.92 232.53,300.50 233.46,300.24 C234.40,299.98 235.44,299.76 236.40,299.82 C237.36,299.87 238.38,300.19 239.23,300.59 C240.08,300.98 240.78,301.66 241.49,302.18 C242.20,302.71 242.78,303.23 243.50,303.74 C244.22,304.26 245.09,304.65 245.80,305.26 C246.52,305.88 247.39,306.60 247.81,307.42 C248.23,308.24 248.42,309.30 248.33,310.20 Z" fill="url(#nuc)" transform="rotate(0 236.4 310.2)"/>
<circle cx="241.88" cy="306.45" r="0.62" fill="#06066a" opacity="0.55"/>
<circle cx="243.30" cy="310.34" r="0.92" fill="#06066a" opacity="0.55"/>
<circle cx="235.22" cy="313.38" r="0.84" fill="#06066a" opacity="0.55"/>
<circle cx="232.77" cy="317.71" r="0.60" fill="#06066a" opacity="0.55"/>
<circle cx="236.42" cy="302.01" r="0.68" fill="#06066a" opacity="0.55"/>
<circle cx="243.82" cy="306.81" r="1.23" fill="#06066a" opacity="0.55"/>
<circle cx="234.92" cy="315.49" r="0.88" fill="#06066a" opacity="0.55"/>
<circle cx="243.95" cy="310.13" r="0.85" fill="#06066a" opacity="0.55"/>
<circle cx="231.76" cy="312.26" r="0.63" fill="#06066a" opacity="0.55"/>
<circle cx="243.62" cy="315.07" r="0.80" fill="#06066a" opacity="0.55"/>
<circle cx="240.91" cy="308.43" r="0.79" fill="#06066a" opacity="0.55"/>
<circle cx="232.12" cy="309.94" r="0.86" fill="#06066a" opacity="0.55"/>
<circle cx="245.30" cy="307.89" r="1.17" fill="#06066a" opacity="0.55"/>
<circle cx="229.99" cy="303.95" r="1.26" fill="#06066a" opacity="0.55"/>
<circle cx="228.45" cy="307.90" r="0.63" fill="#06066a" opacity="0.55"/>
<circle cx="235.65" cy="304.23" r="1.13" fill="#06066a" opacity="0.55"/>
<circle cx="233.15" cy="306.43" r="0.63" fill="#06066a" opacity="0.55"/>
<circle cx="239.54" cy="308.77" r="0.93" fill="#06066a" opacity="0.55"/>
<circle cx="233.42" cy="314.26" r="1.12" fill="#06066a" opacity="0.55"/>
<circle cx="241.36" cy="309.51" r="1.06" fill="#06066a" opacity="0.55"/>
<circle cx="234.10" cy="316.54" r="0.88" fill="#06066a" opacity="0.55"/>
<circle cx="238.37" cy="313.32" r="0.75" fill="#06066a" opacity="0.55"/>
<circle cx="242.15" cy="306.67" r="0.75" fill="#06066a" opacity="0.55"/>
<circle cx="244.55" cy="305.22" r="0.91" fill="#06066a" opacity="0.55"/>
<circle cx="239.16" cy="313.22" r="0.66" fill="#06066a" opacity="0.55"/>
<circle cx="234.78" cy="312.46" r="0.77" fill="#06066a" opacity="0.55"/>
<circle cx="236.02" cy="316.94" r="1.22" fill="#06066a" opacity="0.55"/>
<circle cx="236.37" cy="304.45" r="0.89" fill="#06066a" opacity="0.55"/>
<circle cx="230.43" cy="309.38" r="0.84" fill="#06066a" opacity="0.55"/>
<circle cx="241.19" cy="311.99" r="1.28" fill="#06066a" opacity="0.55"/>
<circle cx="241.31" cy="314.71" r="1.04" fill="#06066a" opacity="0.55"/>
<circle cx="239.37" cy="307.04" r="0.79" fill="#06066a" opacity="0.55"/>
<circle cx="236.47" cy="315.85" r="0.91" fill="#06066a" opacity="0.55"/>
<circle cx="245.08" cy="307.82" r="1.21" fill="#06066a" opacity="0.55"/>
<circle cx="236.68" cy="310.24" r="1.37" fill="#2a2aff" opacity="0.6"/>
<circle cx="239.69" cy="307.88" r="1.27" fill="#2a2aff" opacity="0.6"/>
<circle cx="239.85" cy="310.20" r="1.54" fill="#2a2aff" opacity="0.6"/>
<circle cx="239.82" cy="304.11" r="1.58" fill="#2a2aff" opacity="0.6"/>
<circle cx="236.41" cy="311.07" r="0.92" fill="#2a2aff" opacity="0.6"/>
<circle cx="230.46" cy="309.44" r="1.55" fill="#2a2aff" opacity="0.6"/>
<circle cx="235.38" cy="305.10" r="1.41" fill="#2a2aff" opacity="0.6"/>
<circle cx="231.72" cy="311.38" r="0.83" fill="#2a2aff" opacity="0.6"/>
</g>
<circle cx="236.76" cy="308.60" r="0.45" fill="#44dd66"/>
<circle cx="240.75" cy="308.01" r="0.45" fill="#44dd66"/>
<circle cx="236.07" cy="311.05" r="0.45" fill="#44dd66"/>
<circle cx="236.35" cy="314.65" r="0.45" fill="#44dd66"/>
<line x1="240.40" y1="326.60" x2="253.00" y2="326.60" stroke="#bdbdbd" stroke-width="0.7"/>
<text x="218.80" y="325.10" font-size="4.5" text-anchor="start" fill="#f4f4f4" style="">Res</text>
<rect x="264.80" y="294.00" width="36.60" height="33.70" fill="#000" stroke="none" stroke-width="0"/>
<g filter="url(#soft)">
<path d="M272.50,299.30 C274.12,298.30 276.38,298.23 278.20,298.90 C280.02,299.57 281.38,301.55 283.40,303.30 C285.42,305.05 289.08,307.52 290.30,309.40 C291.52,311.28 291.38,312.85 290.70,314.60 C290.02,316.35 288.28,318.82 286.20,319.90 C284.12,320.98 280.75,321.30 278.20,321.10 C275.65,320.90 272.65,320.18 270.90,318.70 C269.15,317.22 268.10,314.50 267.70,312.20 C267.30,309.90 267.70,307.05 268.50,304.90 C269.30,302.75 270.88,300.30 272.50,299.30 Z" fill="url(#nuc2)" transform="rotate(0 279.5 310.0)"/>
<circle cx="281.58" cy="311.70" r="0.97" fill="#06066a" opacity="0.55"/>
<circle cx="273.94" cy="306.93" r="0.76" fill="#06066a" opacity="0.55"/>
<circle cx="278.65" cy="309.40" r="0.81" fill="#06066a" opacity="0.55"/>
<circle cx="269.74" cy="312.39" r="1.05" fill="#06066a" opacity="0.55"/>
<circle cx="284.77" cy="305.42" r="0.76" fill="#06066a" opacity="0.55"/>
<circle cx="279.69" cy="319.73" r="1.09" fill="#06066a" opacity="0.55"/>
<circle cx="278.97" cy="311.37" r="0.95" fill="#06066a" opacity="0.55"/>
<circle cx="276.44" cy="304.28" r="0.78" fill="#06066a" opacity="0.55"/>
<circle cx="274.57" cy="301.72" r="0.76" fill="#06066a" opacity="0.55"/>
<circle cx="285.34" cy="311.23" r="0.89" fill="#06066a" opacity="0.55"/>
<circle cx="277.61" cy="305.98" r="1.16" fill="#06066a" opacity="0.55"/>
<circle cx="278.98" cy="302.96" r="0.74" fill="#06066a" opacity="0.55"/>
<circle cx="285.14" cy="308.94" r="1.17" fill="#06066a" opacity="0.55"/>
<circle cx="280.09" cy="314.64" r="1.13" fill="#06066a" opacity="0.55"/>
<circle cx="276.71" cy="319.31" r="0.95" fill="#06066a" opacity="0.55"/>
<circle cx="281.37" cy="314.33" r="0.89" fill="#06066a" opacity="0.55"/>
<circle cx="274.40" cy="301.68" r="0.70" fill="#06066a" opacity="0.55"/>
<circle cx="275.78" cy="312.85" r="1.28" fill="#06066a" opacity="0.55"/>
<circle cx="280.97" cy="311.76" r="0.64" fill="#06066a" opacity="0.55"/>
<circle cx="271.87" cy="315.85" r="1.22" fill="#06066a" opacity="0.55"/>
<circle cx="278.36" cy="300.15" r="1.25" fill="#06066a" opacity="0.55"/>
<circle cx="277.39" cy="313.76" r="1.26" fill="#06066a" opacity="0.55"/>
<circle cx="279.45" cy="308.23" r="1.07" fill="#06066a" opacity="0.55"/>
<circle cx="274.96" cy="314.20" r="0.83" fill="#06066a" opacity="0.55"/>
<circle cx="279.77" cy="310.46" r="0.80" fill="#06066a" opacity="0.55"/>
<circle cx="273.52" cy="317.80" r="0.69" fill="#06066a" opacity="0.55"/>
<circle cx="284.06" cy="308.98" r="0.85" fill="#06066a" opacity="0.55"/>
<circle cx="283.53" cy="301.88" r="0.90" fill="#06066a" opacity="0.55"/>
<circle cx="286.24" cy="312.08" r="0.86" fill="#06066a" opacity="0.55"/>
<circle cx="283.45" cy="307.88" r="0.85" fill="#06066a" opacity="0.55"/>
<circle cx="280.92" cy="308.95" r="0.89" fill="#06066a" opacity="0.55"/>
<circle cx="282.89" cy="301.95" r="0.63" fill="#06066a" opacity="0.55"/>
<circle cx="282.01" cy="310.54" r="1.24" fill="#06066a" opacity="0.55"/>
<circle cx="279.12" cy="318.57" r="1.23" fill="#06066a" opacity="0.55"/>
<circle cx="278.17" cy="312.05" r="1.57" fill="#2a2aff" opacity="0.6"/>
<circle cx="277.71" cy="308.44" r="1.37" fill="#2a2aff" opacity="0.6"/>
<circle cx="278.47" cy="312.24" r="0.80" fill="#2a2aff" opacity="0.6"/>
<circle cx="279.78" cy="301.87" r="1.31" fill="#2a2aff" opacity="0.6"/>
<circle cx="279.71" cy="309.92" r="0.99" fill="#2a2aff" opacity="0.6"/>
<circle cx="270.81" cy="311.33" r="1.56" fill="#2a2aff" opacity="0.6"/>
<circle cx="277.75" cy="311.46" r="1.14" fill="#2a2aff" opacity="0.6"/>
<circle cx="270.97" cy="310.35" r="0.95" fill="#2a2aff" opacity="0.6"/>
</g>
<circle cx="281.41" cy="304.57" r="0.45" fill="#44dd66"/>
<circle cx="282.23" cy="304.60" r="0.45" fill="#44dd66"/>
<circle cx="277.43" cy="308.41" r="0.45" fill="#44dd66"/>
<circle cx="278.27" cy="312.55" r="0.45" fill="#44dd66"/>
<line x1="288.20" y1="326.60" x2="300.80" y2="326.60" stroke="#bdbdbd" stroke-width="0.7"/>
<text x="266.00" y="325.10" font-size="4.5" text-anchor="start" fill="#f4f4f4" style="">NAC+SF</text>
<rect x="312.50" y="294.00" width="36.40" height="33.70" fill="#000" stroke="none" stroke-width="0"/>
<g filter="url(#soft)">
<path d="M341.48,310.60 C341.44,311.42 341.09,312.23 340.79,313.03 C340.49,313.82 340.10,314.57 339.68,315.36 C339.25,316.16 338.90,317.05 338.24,317.80 C337.58,318.55 336.75,319.40 335.72,319.88 C334.70,320.35 333.30,320.62 332.08,320.65 C330.86,320.69 329.54,320.33 328.40,320.10 C327.26,319.86 326.29,319.48 325.24,319.22 C324.19,318.97 323.16,318.86 322.10,318.58 C321.04,318.30 319.82,318.05 318.88,317.57 C317.93,317.08 317.03,316.39 316.41,315.66 C315.80,314.93 315.45,314.04 315.17,313.19 C314.88,312.35 314.73,311.47 314.68,310.60 C314.64,309.73 314.61,308.80 314.91,307.96 C315.20,307.12 315.74,306.23 316.47,305.56 C317.20,304.89 318.32,304.38 319.29,303.94 C320.27,303.49 321.35,303.27 322.32,302.90 C323.30,302.53 324.13,302.12 325.15,301.72 C326.16,301.32 327.23,300.73 328.40,300.50 C329.57,300.26 330.99,300.11 332.18,300.29 C333.36,300.48 334.56,301.04 335.50,301.60 C336.44,302.17 337.14,303.00 337.83,303.71 C338.51,304.42 339.09,305.13 339.62,305.86 C340.16,306.60 340.74,307.33 341.05,308.12 C341.36,308.91 341.53,309.78 341.48,310.60 Z" fill="url(#nuc)" transform="rotate(-5 328.4 310.6)"/>
<circle cx="333.08" cy="312.45" r="1.13" fill="#06066a" opacity="0.55"/>
<circle cx="328.45" cy="312.83" r="0.62" fill="#06066a" opacity="0.55"/>
<circle cx="321.93" cy="308.99" r="1.29" fill="#06066a" opacity="0.55"/>
<circle cx="337.24" cy="304.76" r="0.79" fill="#06066a" opacity="0.55"/>
<circle cx="331.61" cy="311.97" r="0.95" fill="#06066a" opacity="0.55"/>
<circle cx="326.38" cy="304.93" r="0.76" fill="#06066a" opacity="0.55"/>
<circle cx="320.23" cy="314.05" r="1.07" fill="#06066a" opacity="0.55"/>
<circle cx="328.23" cy="302.53" r="1.07" fill="#06066a" opacity="0.55"/>
<circle cx="336.36" cy="316.14" r="0.81" fill="#06066a" opacity="0.55"/>
<circle cx="321.71" cy="308.42" r="1.12" fill="#06066a" opacity="0.55"/>
<circle cx="330.27" cy="314.74" r="0.77" fill="#06066a" opacity="0.55"/>
<circle cx="334.84" cy="317.37" r="1.00" fill="#06066a" opacity="0.55"/>
<circle cx="324.93" cy="315.50" r="1.29" fill="#06066a" opacity="0.55"/>
<circle cx="322.64" cy="310.41" r="1.17" fill="#06066a" opacity="0.55"/>
<circle cx="321.57" cy="303.45" r="0.67" fill="#06066a" opacity="0.55"/>
<circle cx="317.69" cy="311.86" r="1.19" fill="#06066a" opacity="0.55"/>
<circle cx="330.46" cy="309.69" r="0.81" fill="#06066a" opacity="0.55"/>
<circle cx="332.22" cy="313.20" r="1.28" fill="#06066a" opacity="0.55"/>
<circle cx="318.37" cy="306.39" r="0.86" fill="#06066a" opacity="0.55"/>
<circle cx="333.74" cy="306.21" r="0.78" fill="#06066a" opacity="0.55"/>
<circle cx="330.40" cy="302.20" r="0.67" fill="#06066a" opacity="0.55"/>
<circle cx="320.62" cy="306.69" r="0.75" fill="#06066a" opacity="0.55"/>
<circle cx="325.35" cy="313.02" r="0.74" fill="#06066a" opacity="0.55"/>
<circle cx="328.12" cy="317.38" r="1.06" fill="#06066a" opacity="0.55"/>
<circle cx="328.77" cy="311.50" r="0.83" fill="#06066a" opacity="0.55"/>
<circle cx="326.15" cy="307.21" r="0.82" fill="#06066a" opacity="0.55"/>
<circle cx="331.49" cy="318.08" r="0.98" fill="#06066a" opacity="0.55"/>
<circle cx="331.92" cy="311.68" r="0.88" fill="#06066a" opacity="0.55"/>
<circle cx="319.28" cy="308.44" r="0.66" fill="#06066a" opacity="0.55"/>
<circle cx="333.56" cy="316.86" r="0.89" fill="#06066a" opacity="0.55"/>
<circle cx="327.03" cy="315.36" r="1.27" fill="#06066a" opacity="0.55"/>
<circle cx="324.96" cy="316.70" r="0.85" fill="#06066a" opacity="0.55"/>
<circle cx="318.77" cy="314.69" r="1.30" fill="#06066a" opacity="0.55"/>
<circle cx="324.92" cy="313.54" r="1.11" fill="#06066a" opacity="0.55"/>
<circle cx="328.42" cy="310.64" r="1.52" fill="#2a2aff" opacity="0.6"/>
<circle cx="320.60" cy="313.57" r="1.12" fill="#2a2aff" opacity="0.6"/>
<circle cx="332.05" cy="308.17" r="0.93" fill="#2a2aff" opacity="0.6"/>
<circle cx="334.29" cy="311.00" r="1.31" fill="#2a2aff" opacity="0.6"/>
<circle cx="329.20" cy="310.22" r="1.30" fill="#2a2aff" opacity="0.6"/>
<circle cx="324.68" cy="313.47" r="0.92" fill="#2a2aff" opacity="0.6"/>
<circle cx="327.24" cy="314.60" r="1.54" fill="#2a2aff" opacity="0.6"/>
<circle cx="332.48" cy="313.03" r="1.44" fill="#2a2aff" opacity="0.6"/>
</g>
<circle cx="330.21" cy="310.32" r="0.45" fill="#44dd66"/>
<circle cx="334.59" cy="315.22" r="0.45" fill="#44dd66"/>
<circle cx="332.87" cy="310.08" r="0.45" fill="#44dd66"/>
<circle cx="336.60" cy="312.69" r="0.45" fill="#44dd66"/>
<line x1="335.70" y1="326.60" x2="348.30" y2="326.60" stroke="#bdbdbd" stroke-width="0.7"/>
<text x="313.70" y="325.10" font-size="4.5" text-anchor="start" fill="#f4f4f4" style="">NAC+Res</text>
<rect x="358.80" y="294.00" width="36.60" height="33.70" fill="#000" stroke="none" stroke-width="0"/>
<g filter="url(#soft)">
<path d="M389.77,308.50 C389.54,309.56 389.17,310.54 388.81,311.52 C388.45,312.50 388.15,313.49 387.62,314.38 C387.09,315.28 386.43,316.18 385.64,316.88 C384.85,317.58 383.83,318.10 382.86,318.59 C381.88,319.08 380.86,319.41 379.80,319.80 C378.74,320.18 377.67,320.66 376.50,320.89 C375.33,321.12 373.97,321.39 372.79,321.20 C371.61,321.01 370.32,320.47 369.41,319.76 C368.49,319.05 367.85,317.90 367.29,316.94 C366.73,315.99 366.48,314.95 366.05,314.03 C365.61,313.11 365.11,312.33 364.67,311.41 C364.22,310.48 363.60,309.52 363.37,308.50 C363.14,307.48 363.08,306.30 363.31,305.26 C363.54,304.22 364.15,303.20 364.76,302.28 C365.37,301.37 366.16,300.54 366.97,299.77 C367.79,298.99 368.66,298.19 369.66,297.63 C370.66,297.08 371.83,296.58 372.97,296.42 C374.11,296.27 375.39,296.46 376.50,296.69 C377.61,296.92 378.60,297.47 379.62,297.83 C380.64,298.18 381.55,298.47 382.61,298.80 C383.66,299.14 384.91,299.31 385.96,299.83 C387.01,300.35 388.21,301.05 388.91,301.93 C389.61,302.82 390.02,304.05 390.17,305.14 C390.31,306.24 390.00,307.44 389.77,308.50 Z" fill="url(#nuc)" transform="rotate(0 376.5 308.5)"/>
<circle cx="384.15" cy="303.65" r="1.18" fill="#06066a" opacity="0.55"/>
<circle cx="382.10" cy="316.61" r="0.76" fill="#06066a" opacity="0.55"/>
<circle cx="367.54" cy="314.13" r="1.18" fill="#06066a" opacity="0.55"/>
<circle cx="378.76" cy="313.11" r="0.88" fill="#06066a" opacity="0.55"/>
<circle cx="369.23" cy="307.76" r="0.69" fill="#06066a" opacity="0.55"/>
<circle cx="376.69" cy="317.71" r="1.23" fill="#06066a" opacity="0.55"/>
<circle cx="385.06" cy="310.57" r="1.13" fill="#06066a" opacity="0.55"/>
<circle cx="387.00" cy="310.85" r="0.68" fill="#06066a" opacity="0.55"/>
<circle cx="369.39" cy="303.81" r="1.04" fill="#06066a" opacity="0.55"/>
<circle cx="373.86" cy="315.08" r="1.01" fill="#06066a" opacity="0.55"/>
<circle cx="367.95" cy="312.46" r="0.91" fill="#06066a" opacity="0.55"/>
<circle cx="374.83" cy="309.13" r="1.03" fill="#06066a" opacity="0.55"/>
<circle cx="370.79" cy="308.85" r="1.13" fill="#06066a" opacity="0.55"/>
<circle cx="377.98" cy="301.30" r="0.73" fill="#06066a" opacity="0.55"/>
<circle cx="372.69" cy="309.10" r="0.69" fill="#06066a" opacity="0.55"/>
<circle cx="373.26" cy="309.89" r="0.91" fill="#06066a" opacity="0.55"/>
<circle cx="374.12" cy="308.36" r="1.05" fill="#06066a" opacity="0.55"/>
<circle cx="385.29" cy="313.08" r="1.14" fill="#06066a" opacity="0.55"/>
<circle cx="373.76" cy="308.32" r="0.95" fill="#06066a" opacity="0.55"/>
<circle cx="368.22" cy="315.84" r="0.70" fill="#06066a" opacity="0.55"/>
<circle cx="383.82" cy="300.03" r="1.11" fill="#06066a" opacity="0.55"/>
<circle cx="378.55" cy="304.12" r="1.29" fill="#06066a" opacity="0.55"/>
<circle cx="364.97" cy="309.06" r="1.24" fill="#06066a" opacity="0.55"/>
<circle cx="381.83" cy="316.77" r="1.25" fill="#06066a" opacity="0.55"/>
<circle cx="382.91" cy="311.06" r="1.13" fill="#06066a" opacity="0.55"/>
<circle cx="382.57" cy="317.11" r="0.79" fill="#06066a" opacity="0.55"/>
<circle cx="378.28" cy="304.74" r="0.95" fill="#06066a" opacity="0.55"/>
<circle cx="381.21" cy="306.11" r="0.78" fill="#06066a" opacity="0.55"/>
<circle cx="369.84" cy="308.28" r="0.63" fill="#06066a" opacity="0.55"/>
<circle cx="378.46" cy="312.46" r="1.26" fill="#06066a" opacity="0.55"/>
<circle cx="371.70" cy="299.25" r="0.72" fill="#06066a" opacity="0.55"/>
<circle cx="377.36" cy="304.91" r="0.97" fill="#06066a" opacity="0.55"/>
<circle cx="371.85" cy="303.60" r="1.21" fill="#06066a" opacity="0.55"/>
<circle cx="368.04" cy="305.71" r="1.22" fill="#06066a" opacity="0.55"/>
<circle cx="384.80" cy="314.37" r="1.30" fill="#2a2aff" opacity="0.6"/>
<circle cx="369.87" cy="313.27" r="1.01" fill="#2a2aff" opacity="0.6"/>
<circle cx="382.58" cy="308.15" r="1.09" fill="#2a2aff" opacity="0.6"/>
<circle cx="376.92" cy="304.24" r="0.94" fill="#2a2aff" opacity="0.6"/>
<circle cx="376.48" cy="308.03" r="1.46" fill="#2a2aff" opacity="0.6"/>
<circle cx="376.35" cy="314.69" r="1.59" fill="#2a2aff" opacity="0.6"/>
<circle cx="370.48" cy="305.21" r="1.05" fill="#2a2aff" opacity="0.6"/>
<circle cx="376.86" cy="308.50" r="0.92" fill="#2a2aff" opacity="0.6"/>
</g>
<circle cx="373.52" cy="306.07" r="0.45" fill="#44dd66"/>
<circle cx="368.25" cy="307.91" r="0.45" fill="#44dd66"/>
<circle cx="377.92" cy="309.92" r="0.45" fill="#44dd66"/>
<circle cx="376.38" cy="308.35" r="0.45" fill="#44dd66"/>
<line x1="382.20" y1="326.60" x2="394.80" y2="326.60" stroke="#bdbdbd" stroke-width="0.7"/>
<text x="360.00" y="325.10" font-size="4.5" text-anchor="start" fill="#f4f4f4" style="">SF+Res</text>
<rect x="404.80" y="294.00" width="36.30" height="33.70" fill="#000" stroke="none" stroke-width="0"/>
<g filter="url(#soft)">
<path d="M411.50,305.80 C412.92,304.63 416.08,304.60 418.20,304.20 C420.32,303.80 422.38,303.75 424.20,303.40 C426.02,303.05 427.48,302.22 429.10,302.10 C430.72,301.98 432.78,302.08 433.90,302.70 C435.02,303.32 435.70,304.48 435.80,305.80 C435.90,307.12 435.62,309.10 434.50,310.60 C433.38,312.10 431.22,313.38 429.10,314.80 C426.98,316.22 424.02,318.28 421.80,319.10 C419.58,319.92 417.62,320.10 415.80,319.70 C413.98,319.30 411.92,318.12 410.90,316.70 C409.88,315.28 409.60,313.02 409.70,311.20 C409.80,309.38 410.08,306.97 411.50,305.80 Z" fill="url(#nuc)" transform="rotate(0 422.8 311.2)"/>
<circle cx="420.52" cy="313.12" r="0.85" fill="#06066a" opacity="0.55"/>
<circle cx="424.21" cy="316.80" r="1.01" fill="#06066a" opacity="0.55"/>
<circle cx="425.37" cy="316.82" r="0.93" fill="#06066a" opacity="0.55"/>
<circle cx="430.14" cy="316.58" r="0.77" fill="#06066a" opacity="0.55"/>
<circle cx="424.90" cy="313.05" r="1.05" fill="#06066a" opacity="0.55"/>
<circle cx="429.77" cy="306.44" r="0.88" fill="#06066a" opacity="0.55"/>
<circle cx="422.69" cy="311.99" r="1.05" fill="#06066a" opacity="0.55"/>
<circle cx="416.53" cy="309.53" r="1.05" fill="#06066a" opacity="0.55"/>
<circle cx="412.41" cy="313.70" r="1.11" fill="#06066a" opacity="0.55"/>
<circle cx="422.91" cy="318.26" r="0.63" fill="#06066a" opacity="0.55"/>
<circle cx="415.65" cy="310.28" r="0.77" fill="#06066a" opacity="0.55"/>
<circle cx="432.23" cy="313.55" r="0.61" fill="#06066a" opacity="0.55"/>
<circle cx="412.25" cy="308.95" r="0.70" fill="#06066a" opacity="0.55"/>
<circle cx="425.59" cy="316.70" r="0.95" fill="#06066a" opacity="0.55"/>
<circle cx="416.28" cy="306.01" r="0.72" fill="#06066a" opacity="0.55"/>
<circle cx="420.52" cy="314.99" r="0.63" fill="#06066a" opacity="0.55"/>
<circle cx="430.56" cy="306.98" r="1.10" fill="#06066a" opacity="0.55"/>
<circle cx="433.31" cy="311.47" r="1.12" fill="#06066a" opacity="0.55"/>
<circle cx="413.18" cy="312.59" r="0.92" fill="#06066a" opacity="0.55"/>
<circle cx="423.36" cy="313.58" r="0.76" fill="#06066a" opacity="0.55"/>
<circle cx="429.24" cy="312.24" r="1.12" fill="#06066a" opacity="0.55"/>
<circle cx="419.22" cy="304.78" r="1.10" fill="#06066a" opacity="0.55"/>
<circle cx="421.95" cy="316.70" r="0.91" fill="#06066a" opacity="0.55"/>
<circle cx="424.76" cy="305.98" r="0.79" fill="#06066a" opacity="0.55"/>
<circle cx="415.72" cy="305.53" r="0.75" fill="#06066a" opacity="0.55"/>
<circle cx="423.83" cy="310.57" r="0.78" fill="#06066a" opacity="0.55"/>
<circle cx="423.67" cy="317.58" r="1.26" fill="#06066a" opacity="0.55"/>
<circle cx="422.63" cy="306.96" r="1.22" fill="#06066a" opacity="0.55"/>
<circle cx="420.15" cy="314.40" r="1.24" fill="#06066a" opacity="0.55"/>
<circle cx="416.29" cy="306.69" r="1.07" fill="#06066a" opacity="0.55"/>
<circle cx="430.57" cy="310.52" r="1.19" fill="#06066a" opacity="0.55"/>
<circle cx="419.35" cy="304.70" r="0.91" fill="#06066a" opacity="0.55"/>
<circle cx="421.41" cy="305.67" r="0.82" fill="#06066a" opacity="0.55"/>
<circle cx="424.94" cy="316.89" r="0.65" fill="#06066a" opacity="0.55"/>
<circle cx="424.05" cy="310.69" r="0.82" fill="#2a2aff" opacity="0.6"/>
<circle cx="430.26" cy="315.03" r="1.08" fill="#2a2aff" opacity="0.6"/>
<circle cx="422.99" cy="311.35" r="0.83" fill="#2a2aff" opacity="0.6"/>
<circle cx="420.50" cy="307.26" r="1.36" fill="#2a2aff" opacity="0.6"/>
<circle cx="422.74" cy="310.76" r="1.27" fill="#2a2aff" opacity="0.6"/>
<circle cx="417.33" cy="315.31" r="1.46" fill="#2a2aff" opacity="0.6"/>
<circle cx="423.32" cy="310.92" r="1.49" fill="#2a2aff" opacity="0.6"/>
<circle cx="431.09" cy="307.97" r="0.89" fill="#2a2aff" opacity="0.6"/>
</g>
<circle cx="423.08" cy="311.83" r="0.45" fill="#44dd66"/>
<circle cx="430.22" cy="312.26" r="0.45" fill="#44dd66"/>
<circle cx="424.95" cy="307.79" r="0.45" fill="#44dd66"/>
<circle cx="425.36" cy="307.93" r="0.45" fill="#44dd66"/>
<line x1="427.90" y1="326.60" x2="440.50" y2="326.60" stroke="#bdbdbd" stroke-width="0.7"/>
<text x="406.00" y="325.10" font-size="4.5" text-anchor="start" fill="#f4f4f4" style="">NAC+SF+Res</text>
<rect x="35.00" y="334.90" width="37.90" height="33.40" fill="#000" stroke="none" stroke-width="0"/>
<g filter="url(#soft)">
<path d="M66.67,351.20 C66.50,352.01 65.97,352.79 65.56,353.51 C65.14,354.24 64.68,354.89 64.18,355.54 C63.68,356.18 63.22,356.86 62.58,357.41 C61.95,357.95 61.19,358.46 60.38,358.82 C59.57,359.18 58.63,359.36 57.74,359.55 C56.84,359.75 55.95,359.85 55.00,359.97 C54.05,360.08 53.05,360.27 52.04,360.22 C51.04,360.18 49.88,360.08 49.00,359.71 C48.11,359.33 47.28,358.65 46.74,357.96 C46.20,357.27 46.01,356.33 45.77,355.56 C45.54,354.79 45.52,354.05 45.34,353.32 C45.15,352.59 44.85,351.94 44.67,351.20 C44.50,350.46 44.23,349.63 44.31,348.86 C44.38,348.08 44.67,347.23 45.13,346.54 C45.58,345.84 46.32,345.23 47.03,344.68 C47.74,344.13 48.54,343.65 49.38,343.23 C50.21,342.81 51.11,342.38 52.04,342.17 C52.98,341.96 54.05,341.85 55.00,341.97 C55.95,342.08 56.91,342.48 57.74,342.84 C58.57,343.20 59.24,343.72 60.00,344.12 C60.76,344.52 61.49,344.82 62.30,345.23 C63.10,345.64 64.11,345.99 64.82,346.56 C65.54,347.13 66.28,347.89 66.59,348.66 C66.89,349.43 66.85,350.39 66.67,351.20 Z" fill="url(#nuc)" transform="rotate(0 55.0 351.2)"/>
<circle cx="57.49" cy="352.68" r="1.13" fill="#06066a" opacity="0.55"/>
<circle cx="56.55" cy="355.57" r="0.90" fill="#06066a" opacity="0.55"/>
<circle cx="59.94" cy="351.73" r="0.80" fill="#06066a" opacity="0.55"/>
<circle cx="53.71" cy="346.43" r="0.82" fill="#06066a" opacity="0.55"/>
<circle cx="61.80" cy="349.90" r="1.20" fill="#06066a" opacity="0.55"/>
<circle cx="53.72" cy="350.24" r="0.89" fill="#06066a" opacity="0.55"/>
<circle cx="47.03" cy="353.96" r="0.84" fill="#06066a" opacity="0.55"/>
<circle cx="52.96" cy="345.54" r="0.75" fill="#06066a" opacity="0.55"/>
<circle cx="56.92" cy="349.35" r="1.17" fill="#06066a" opacity="0.55"/>
<circle cx="55.17" cy="351.45" r="0.74" fill="#06066a" opacity="0.55"/>
<circle cx="55.72" cy="343.26" r="0.60" fill="#06066a" opacity="0.55"/>
<circle cx="48.11" cy="351.53" r="1.16" fill="#06066a" opacity="0.55"/>
<circle cx="57.77" cy="356.39" r="0.84" fill="#06066a" opacity="0.55"/>
<circle cx="57.46" cy="347.62" r="1.26" fill="#06066a" opacity="0.55"/>
<circle cx="54.05" cy="354.85" r="1.09" fill="#06066a" opacity="0.55"/>
<circle cx="51.74" cy="351.23" r="1.05" fill="#06066a" opacity="0.55"/>
<circle cx="62.63" cy="354.68" r="1.09" fill="#06066a" opacity="0.55"/>
<circle cx="56.77" cy="344.99" r="0.85" fill="#06066a" opacity="0.55"/>
<circle cx="49.98" cy="354.14" r="1.22" fill="#06066a" opacity="0.55"/>
<circle cx="62.95" cy="355.11" r="0.62" fill="#06066a" opacity="0.55"/>
<circle cx="56.38" cy="355.17" r="1.23" fill="#06066a" opacity="0.55"/>
<circle cx="48.94" cy="351.17" r="1.22" fill="#06066a" opacity="0.55"/>
<circle cx="55.69" cy="356.64" r="0.97" fill="#06066a" opacity="0.55"/>
<circle cx="55.22" cy="344.22" r="1.05" fill="#06066a" opacity="0.55"/>
<circle cx="51.74" cy="354.95" r="0.71" fill="#06066a" opacity="0.55"/>
<circle cx="59.40" cy="345.73" r="1.12" fill="#06066a" opacity="0.55"/>
<circle cx="58.16" cy="355.86" r="1.14" fill="#06066a" opacity="0.55"/>
<circle cx="51.93" cy="349.84" r="0.92" fill="#06066a" opacity="0.55"/>
<circle cx="58.59" cy="348.60" r="0.73" fill="#06066a" opacity="0.55"/>
<circle cx="52.38" cy="357.60" r="1.19" fill="#06066a" opacity="0.55"/>
<circle cx="57.19" cy="353.82" r="0.77" fill="#06066a" opacity="0.55"/>
<circle cx="51.72" cy="356.36" r="0.71" fill="#06066a" opacity="0.55"/>
<circle cx="52.99" cy="354.29" r="1.28" fill="#06066a" opacity="0.55"/>
<circle cx="54.57" cy="348.66" r="1.27" fill="#06066a" opacity="0.55"/>
<circle cx="57.72" cy="352.85" r="1.59" fill="#2a2aff" opacity="0.6"/>
<circle cx="56.78" cy="346.13" r="1.15" fill="#2a2aff" opacity="0.6"/>
<circle cx="56.87" cy="355.53" r="0.89" fill="#2a2aff" opacity="0.6"/>
<circle cx="55.93" cy="353.89" r="0.83" fill="#2a2aff" opacity="0.6"/>
<circle cx="49.40" cy="354.58" r="1.35" fill="#2a2aff" opacity="0.6"/>
<circle cx="49.44" cy="351.19" r="1.17" fill="#2a2aff" opacity="0.6"/>
<circle cx="58.34" cy="354.58" r="1.12" fill="#2a2aff" opacity="0.6"/>
<circle cx="54.53" cy="344.67" r="1.14" fill="#2a2aff" opacity="0.6"/>
</g>
<circle cx="49.84" cy="349.09" r="0.45" fill="#44dd66"/>
<circle cx="53.45" cy="351.89" r="0.45" fill="#44dd66"/>
<line x1="59.70" y1="367.20" x2="72.30" y2="367.20" stroke="#bdbdbd" stroke-width="0.7"/>
<text x="36.20" y="365.70" font-size="4.5" text-anchor="start" fill="#f4f4f4" style="">Ctrl</text>
<rect x="81.80" y="334.90" width="37.10" height="33.40" fill="#000" stroke="none" stroke-width="0"/>
<g filter="url(#soft)">
<path d="M111.20,350.50 C111.19,351.35 110.97,352.24 110.70,353.05 C110.44,353.87 110.01,354.61 109.61,355.39 C109.22,356.17 108.85,356.96 108.34,357.73 C107.83,358.50 107.28,359.40 106.54,359.99 C105.79,360.57 104.80,361.08 103.86,361.23 C102.92,361.38 101.81,361.13 100.90,360.87 C99.99,360.60 99.18,360.03 98.38,359.65 C97.57,359.27 96.88,358.95 96.09,358.59 C95.30,358.24 94.42,358.01 93.66,357.53 C92.91,357.05 92.10,356.45 91.56,355.74 C91.03,355.02 90.69,354.09 90.46,353.22 C90.23,352.35 90.20,351.41 90.20,350.50 C90.19,349.59 90.21,348.66 90.42,347.77 C90.62,346.89 90.91,345.93 91.43,345.19 C91.94,344.44 92.72,343.78 93.49,343.30 C94.26,342.83 95.22,342.62 96.04,342.32 C96.86,342.02 97.61,341.83 98.42,341.52 C99.23,341.22 100.00,340.73 100.90,340.47 C101.80,340.20 102.86,339.87 103.81,339.95 C104.76,340.02 105.81,340.40 106.59,340.93 C107.37,341.45 107.99,342.34 108.51,343.11 C109.04,343.87 109.38,344.73 109.75,345.54 C110.12,346.34 110.50,347.11 110.74,347.94 C110.98,348.77 111.20,349.65 111.20,350.50 Z" fill="url(#nuc)" transform="rotate(0 100.9 350.5)"/>
<circle cx="106.91" cy="344.99" r="1.09" fill="#06066a" opacity="0.55"/>
<circle cx="105.53" cy="344.47" r="1.05" fill="#06066a" opacity="0.55"/>
<circle cx="95.87" cy="351.96" r="1.04" fill="#06066a" opacity="0.55"/>
<circle cx="105.87" cy="353.91" r="1.15" fill="#06066a" opacity="0.55"/>
<circle cx="99.17" cy="343.46" r="0.78" fill="#06066a" opacity="0.55"/>
<circle cx="95.28" cy="353.35" r="1.04" fill="#06066a" opacity="0.55"/>
<circle cx="94.41" cy="354.55" r="1.25" fill="#06066a" opacity="0.55"/>
<circle cx="104.01" cy="357.24" r="1.14" fill="#06066a" opacity="0.55"/>
<circle cx="95.87" cy="354.62" r="1.28" fill="#06066a" opacity="0.55"/>
<circle cx="107.63" cy="352.10" r="0.71" fill="#06066a" opacity="0.55"/>
<circle cx="102.69" cy="341.82" r="0.96" fill="#06066a" opacity="0.55"/>
<circle cx="106.63" cy="354.60" r="0.98" fill="#06066a" opacity="0.55"/>
<circle cx="99.51" cy="344.11" r="1.05" fill="#06066a" opacity="0.55"/>
<circle cx="104.11" cy="344.70" r="0.89" fill="#06066a" opacity="0.55"/>
<circle cx="104.97" cy="349.15" r="1.08" fill="#06066a" opacity="0.55"/>
<circle cx="94.51" cy="355.49" r="0.69" fill="#06066a" opacity="0.55"/>
<circle cx="106.47" cy="349.95" r="0.64" fill="#06066a" opacity="0.55"/>
<circle cx="100.00" cy="356.20" r="0.61" fill="#06066a" opacity="0.55"/>
<circle cx="95.59" cy="353.40" r="1.09" fill="#06066a" opacity="0.55"/>
<circle cx="98.01" cy="354.27" r="0.76" fill="#06066a" opacity="0.55"/>
<circle cx="100.39" cy="341.67" r="0.97" fill="#06066a" opacity="0.55"/>
<circle cx="102.54" cy="358.51" r="0.87" fill="#06066a" opacity="0.55"/>
<circle cx="101.70" cy="353.69" r="1.14" fill="#06066a" opacity="0.55"/>
<circle cx="103.62" cy="343.73" r="0.93" fill="#06066a" opacity="0.55"/>
<circle cx="96.77" cy="348.86" r="1.27" fill="#06066a" opacity="0.55"/>
<circle cx="96.38" cy="356.32" r="1.17" fill="#06066a" opacity="0.55"/>
<circle cx="103.48" cy="344.78" r="0.81" fill="#06066a" opacity="0.55"/>
<circle cx="97.73" cy="349.54" r="1.18" fill="#06066a" opacity="0.55"/>
<circle cx="95.61" cy="357.16" r="0.79" fill="#06066a" opacity="0.55"/>
<circle cx="97.54" cy="353.73" r="0.90" fill="#06066a" opacity="0.55"/>
<circle cx="101.09" cy="350.94" r="1.11" fill="#06066a" opacity="0.55"/>
<circle cx="100.00" cy="354.93" r="0.81" fill="#06066a" opacity="0.55"/>
<circle cx="94.80" cy="351.27" r="1.05" fill="#06066a" opacity="0.55"/>
<circle cx="97.84" cy="345.88" r="1.25" fill="#06066a" opacity="0.55"/>
<circle cx="101.19" cy="350.13" r="1.46" fill="#2a2aff" opacity="0.6"/>
<circle cx="106.36" cy="346.92" r="0.91" fill="#2a2aff" opacity="0.6"/>
<circle cx="103.49" cy="345.99" r="0.81" fill="#2a2aff" opacity="0.6"/>
<circle cx="108.87" cy="351.06" r="1.32" fill="#2a2aff" opacity="0.6"/>
<circle cx="100.90" cy="351.33" r="0.91" fill="#2a2aff" opacity="0.6"/>
<circle cx="101.57" cy="356.80" r="1.08" fill="#2a2aff" opacity="0.6"/>
<circle cx="105.26" cy="356.54" r="1.43" fill="#2a2aff" opacity="0.6"/>
<circle cx="104.60" cy="356.82" r="1.29" fill="#2a2aff" opacity="0.6"/>
</g>
<circle cx="101.85" cy="345.82" r="0.45" fill="#44dd66"/>
<circle cx="105.44" cy="347.01" r="0.45" fill="#44dd66"/>
<circle cx="101.66" cy="349.30" r="0.45" fill="#44dd66"/>
<circle cx="99.52" cy="346.96" r="0.45" fill="#44dd66"/>
<line x1="105.70" y1="367.20" x2="118.30" y2="367.20" stroke="#bdbdbd" stroke-width="0.7"/>
<text x="83.00" y="365.70" font-size="4.5" text-anchor="start" fill="#f4f4f4" style="">RIBE</text>
<rect x="127.20" y="334.90" width="36.40" height="33.40" fill="#000" stroke="none" stroke-width="0"/>
<g filter="url(#soft)">
<path d="M155.02,351.80 C155.00,352.58 154.79,353.37 154.57,354.12 C154.34,354.86 154.00,355.54 153.67,356.27 C153.35,356.99 153.06,357.76 152.62,358.47 C152.18,359.17 151.69,360.01 151.02,360.52 C150.36,361.03 149.47,361.43 148.65,361.52 C147.83,361.62 146.89,361.35 146.10,361.10 C145.31,360.86 144.63,360.38 143.93,360.07 C143.23,359.76 142.60,359.53 141.90,359.23 C141.21,358.93 140.41,358.72 139.76,358.28 C139.11,357.84 138.43,357.26 137.98,356.59 C137.53,355.92 137.26,355.07 137.07,354.27 C136.88,353.47 136.83,352.63 136.82,351.80 C136.80,350.97 136.80,350.11 136.99,349.30 C137.17,348.50 137.45,347.63 137.91,346.97 C138.37,346.30 139.09,345.74 139.75,345.31 C140.42,344.89 141.23,344.70 141.92,344.41 C142.62,344.12 143.24,343.88 143.94,343.56 C144.64,343.24 145.32,342.75 146.10,342.50 C146.88,342.26 147.82,342.00 148.64,342.10 C149.46,342.21 150.34,342.62 151.00,343.12 C151.67,343.63 152.17,344.43 152.63,345.13 C153.08,345.82 153.41,346.57 153.74,347.29 C154.08,348.01 154.44,348.71 154.65,349.46 C154.86,350.21 155.03,351.02 155.02,351.80 Z" fill="url(#nuc)" transform="rotate(0 146.1 351.8)"/>
<circle cx="139.02" cy="354.75" r="0.99" fill="#06066a" opacity="0.55"/>
<circle cx="145.75" cy="355.81" r="0.70" fill="#06066a" opacity="0.55"/>
<circle cx="144.13" cy="351.89" r="0.93" fill="#06066a" opacity="0.55"/>
<circle cx="149.62" cy="356.39" r="0.95" fill="#06066a" opacity="0.55"/>
<circle cx="138.77" cy="349.91" r="0.60" fill="#06066a" opacity="0.55"/>
<circle cx="149.09" cy="347.00" r="0.99" fill="#06066a" opacity="0.55"/>
<circle cx="142.30" cy="345.24" r="0.86" fill="#06066a" opacity="0.55"/>
<circle cx="139.14" cy="355.79" r="0.65" fill="#06066a" opacity="0.55"/>
<circle cx="141.86" cy="346.78" r="0.62" fill="#06066a" opacity="0.55"/>
<circle cx="140.90" cy="347.44" r="1.25" fill="#06066a" opacity="0.55"/>
<circle cx="142.20" cy="359.02" r="0.96" fill="#06066a" opacity="0.55"/>
<circle cx="138.43" cy="352.57" r="0.62" fill="#06066a" opacity="0.55"/>
<circle cx="144.81" cy="345.36" r="0.84" fill="#06066a" opacity="0.55"/>
<circle cx="149.27" cy="347.95" r="0.93" fill="#06066a" opacity="0.55"/>
<circle cx="139.05" cy="350.65" r="0.75" fill="#06066a" opacity="0.55"/>
<circle cx="141.25" cy="353.95" r="0.99" fill="#06066a" opacity="0.55"/>
<circle cx="148.13" cy="347.81" r="1.18" fill="#06066a" opacity="0.55"/>
<circle cx="141.35" cy="355.16" r="0.79" fill="#06066a" opacity="0.55"/>
<circle cx="138.07" cy="351.48" r="1.06" fill="#06066a" opacity="0.55"/>
<circle cx="147.31" cy="347.18" r="0.82" fill="#06066a" opacity="0.55"/>
<circle cx="144.21" cy="357.87" r="1.04" fill="#06066a" opacity="0.55"/>
<circle cx="146.44" cy="350.17" r="1.11" fill="#06066a" opacity="0.55"/>
<circle cx="150.61" cy="347.74" r="0.63" fill="#06066a" opacity="0.55"/>
<circle cx="145.90" cy="352.42" r="0.73" fill="#06066a" opacity="0.55"/>
<circle cx="151.68" cy="348.71" r="1.06" fill="#06066a" opacity="0.55"/>
<circle cx="147.97" cy="344.10" r="1.03" fill="#06066a" opacity="0.55"/>
<circle cx="141.30" cy="347.40" r="1.09" fill="#06066a" opacity="0.55"/>
<circle cx="140.57" cy="347.91" r="0.75" fill="#06066a" opacity="0.55"/>
<circle cx="143.35" cy="346.93" r="1.13" fill="#06066a" opacity="0.55"/>
<circle cx="148.89" cy="353.91" r="0.63" fill="#06066a" opacity="0.55"/>
<circle cx="147.28" cy="343.94" r="1.06" fill="#06066a" opacity="0.55"/>
<circle cx="141.09" cy="357.34" r="1.15" fill="#06066a" opacity="0.55"/>
<circle cx="142.27" cy="350.20" r="0.81" fill="#06066a" opacity="0.55"/>
<circle cx="142.05" cy="354.02" r="0.90" fill="#06066a" opacity="0.55"/>
<circle cx="141.81" cy="346.41" r="0.84" fill="#2a2aff" opacity="0.6"/>
<circle cx="145.84" cy="351.68" r="0.90" fill="#2a2aff" opacity="0.6"/>
<circle cx="147.64" cy="347.82" r="1.53" fill="#2a2aff" opacity="0.6"/>
<circle cx="146.00" cy="351.83" r="1.11" fill="#2a2aff" opacity="0.6"/>
<circle cx="140.37" cy="348.00" r="1.58" fill="#2a2aff" opacity="0.6"/>
<circle cx="143.13" cy="352.28" r="0.88" fill="#2a2aff" opacity="0.6"/>
<circle cx="145.15" cy="350.56" r="0.92" fill="#2a2aff" opacity="0.6"/>
<circle cx="146.13" cy="351.80" r="1.35" fill="#2a2aff" opacity="0.6"/>
</g>
<circle cx="150.54" cy="356.15" r="0.45" fill="#44dd66"/>
<circle cx="150.81" cy="354.78" r="0.45" fill="#44dd66"/>
<circle cx="146.18" cy="351.88" r="0.45" fill="#44dd66"/>
<circle cx="145.80" cy="350.25" r="0.45" fill="#44dd66"/>
<line x1="150.40" y1="367.20" x2="163.00" y2="367.20" stroke="#bdbdbd" stroke-width="0.7"/>
<text x="128.40" y="365.70" font-size="4.5" text-anchor="start" fill="#f4f4f4" style="">NAC</text>
<rect x="172.20" y="334.90" width="36.70" height="33.40" fill="#000" stroke="none" stroke-width="0"/>
<g filter="url(#soft)">
<path d="M201.20,350.50 C201.19,351.35 200.96,352.23 200.71,353.05 C200.46,353.86 200.06,354.61 199.69,355.39 C199.32,356.18 199.00,357.00 198.50,357.78 C198.01,358.55 197.48,359.46 196.75,360.03 C196.02,360.60 195.05,361.07 194.14,361.20 C193.23,361.32 192.18,361.04 191.30,360.77 C190.42,360.51 189.66,359.96 188.88,359.60 C188.11,359.24 187.42,358.96 186.66,358.62 C185.89,358.29 185.02,358.05 184.29,357.58 C183.57,357.10 182.81,356.47 182.30,355.75 C181.80,355.02 181.49,354.09 181.27,353.21 C181.05,352.34 181.01,351.41 181.00,350.50 C180.99,349.59 181.00,348.65 181.20,347.77 C181.40,346.88 181.70,345.93 182.20,345.19 C182.70,344.46 183.48,343.82 184.22,343.35 C184.96,342.88 185.87,342.67 186.65,342.36 C187.43,342.05 188.13,341.82 188.91,341.49 C189.68,341.16 190.43,340.64 191.30,340.37 C192.17,340.11 193.20,339.80 194.11,339.90 C195.02,339.99 196.01,340.41 196.76,340.96 C197.50,341.50 198.07,342.39 198.58,343.15 C199.08,343.92 199.43,344.75 199.80,345.55 C200.16,346.34 200.55,347.11 200.78,347.93 C201.01,348.76 201.21,349.65 201.20,350.50 Z" fill="url(#nuc)" transform="rotate(-20 191.3 350.5)"/>
<circle cx="192.08" cy="352.39" r="1.14" fill="#06066a" opacity="0.55"/>
<circle cx="189.38" cy="342.29" r="1.11" fill="#06066a" opacity="0.55"/>
<circle cx="197.48" cy="354.15" r="1.10" fill="#06066a" opacity="0.55"/>
<circle cx="182.85" cy="352.67" r="0.78" fill="#06066a" opacity="0.55"/>
<circle cx="198.75" cy="348.76" r="0.61" fill="#06066a" opacity="0.55"/>
<circle cx="198.56" cy="351.18" r="1.17" fill="#06066a" opacity="0.55"/>
<circle cx="195.72" cy="352.94" r="1.11" fill="#06066a" opacity="0.55"/>
<circle cx="195.53" cy="357.81" r="0.94" fill="#06066a" opacity="0.55"/>
<circle cx="196.40" cy="352.53" r="1.00" fill="#06066a" opacity="0.55"/>
<circle cx="184.42" cy="353.33" r="0.70" fill="#06066a" opacity="0.55"/>
<circle cx="192.88" cy="345.24" r="1.05" fill="#06066a" opacity="0.55"/>
<circle cx="187.29" cy="346.22" r="0.87" fill="#06066a" opacity="0.55"/>
<circle cx="193.26" cy="341.86" r="1.15" fill="#06066a" opacity="0.55"/>
<circle cx="186.84" cy="348.50" r="0.64" fill="#06066a" opacity="0.55"/>
<circle cx="198.77" cy="349.23" r="1.18" fill="#06066a" opacity="0.55"/>
<circle cx="187.84" cy="356.68" r="1.28" fill="#06066a" opacity="0.55"/>
<circle cx="194.71" cy="344.32" r="0.82" fill="#06066a" opacity="0.55"/>
<circle cx="183.63" cy="354.24" r="0.86" fill="#06066a" opacity="0.55"/>
<circle cx="188.50" cy="344.01" r="1.23" fill="#06066a" opacity="0.55"/>
<circle cx="192.99" cy="345.95" r="0.60" fill="#06066a" opacity="0.55"/>
<circle cx="190.82" cy="356.41" r="1.01" fill="#06066a" opacity="0.55"/>
<circle cx="194.71" cy="342.62" r="0.63" fill="#06066a" opacity="0.55"/>
<circle cx="195.35" cy="343.37" r="1.21" fill="#06066a" opacity="0.55"/>
<circle cx="187.04" cy="348.42" r="1.20" fill="#06066a" opacity="0.55"/>
<circle cx="193.90" cy="343.42" r="1.24" fill="#06066a" opacity="0.55"/>
<circle cx="189.80" cy="352.68" r="0.99" fill="#06066a" opacity="0.55"/>
<circle cx="192.48" cy="346.59" r="1.13" fill="#06066a" opacity="0.55"/>
<circle cx="195.27" cy="348.65" r="1.02" fill="#06066a" opacity="0.55"/>
<circle cx="188.58" cy="344.91" r="0.74" fill="#06066a" opacity="0.55"/>
<circle cx="191.07" cy="358.40" r="1.15" fill="#06066a" opacity="0.55"/>
<circle cx="188.71" cy="351.18" r="1.16" fill="#06066a" opacity="0.55"/>
<circle cx="191.89" cy="346.14" r="1.01" fill="#06066a" opacity="0.55"/>
<circle cx="198.06" cy="345.30" r="0.97" fill="#06066a" opacity="0.55"/>
<circle cx="184.44" cy="351.54" r="0.73" fill="#06066a" opacity="0.55"/>
<circle cx="191.82" cy="351.88" r="1.36" fill="#2a2aff" opacity="0.6"/>
<circle cx="188.34" cy="354.00" r="1.12" fill="#2a2aff" opacity="0.6"/>
<circle cx="190.10" cy="350.37" r="0.84" fill="#2a2aff" opacity="0.6"/>
<circle cx="194.32" cy="350.44" r="0.88" fill="#2a2aff" opacity="0.6"/>
<circle cx="187.02" cy="345.75" r="0.92" fill="#2a2aff" opacity="0.6"/>
<circle cx="189.01" cy="348.89" r="1.22" fill="#2a2aff" opacity="0.6"/>
<circle cx="191.57" cy="350.54" r="1.59" fill="#2a2aff" opacity="0.6"/>
<circle cx="193.91" cy="347.53" r="1.25" fill="#2a2aff" opacity="0.6"/>
</g>
<circle cx="190.90" cy="356.05" r="0.45" fill="#44dd66"/>
<circle cx="185.32" cy="353.54" r="0.45" fill="#44dd66"/>
<circle cx="191.91" cy="344.69" r="0.45" fill="#44dd66"/>
<circle cx="193.05" cy="350.08" r="0.45" fill="#44dd66"/>
<line x1="195.70" y1="367.20" x2="208.30" y2="367.20" stroke="#bdbdbd" stroke-width="0.7"/>
<text x="173.40" y="365.70" font-size="4.5" text-anchor="start" fill="#f4f4f4" style="">SF</text>
<rect x="217.60" y="334.90" width="36.00" height="33.40" fill="#000" stroke="none" stroke-width="0"/>
<g filter="url(#soft)">
<path d="M247.74,350.50 C248.02,351.42 248.22,352.53 248.01,353.46 C247.80,354.39 247.16,355.35 246.50,356.08 C245.83,356.82 244.85,357.35 244.01,357.88 C243.18,358.41 242.34,358.83 241.48,359.25 C240.63,359.66 239.79,360.12 238.87,360.37 C237.96,360.63 236.95,360.79 236.00,360.77 C235.05,360.76 234.08,360.50 233.16,360.27 C232.23,360.03 231.36,359.71 230.45,359.36 C229.53,359.02 228.51,358.72 227.65,358.19 C226.78,357.67 225.79,357.03 225.24,356.22 C224.68,355.42 224.35,354.34 224.30,353.39 C224.25,352.43 224.66,351.39 224.94,350.50 C225.22,349.61 225.69,348.85 225.99,348.03 C226.29,347.21 226.43,346.41 226.75,345.58 C227.07,344.75 227.34,343.79 227.89,343.03 C228.45,342.28 229.24,341.55 230.08,341.06 C230.93,340.57 231.99,340.30 232.97,340.09 C233.96,339.87 234.99,339.79 236.00,339.77 C237.01,339.76 238.09,339.75 239.06,339.98 C240.03,340.22 241.06,340.61 241.85,341.17 C242.63,341.73 243.25,342.59 243.77,343.35 C244.29,344.10 244.56,344.96 244.98,345.72 C245.41,346.49 245.86,347.16 246.32,347.95 C246.78,348.75 247.46,349.58 247.74,350.50 Z" fill="url(#nuc)" transform="rotate(0 236.0 350.5)"/>
<circle cx="237.32" cy="354.30" r="0.66" fill="#06066a" opacity="0.55"/>
<circle cx="243.23" cy="352.71" r="1.21" fill="#06066a" opacity="0.55"/>
<circle cx="226.42" cy="352.88" r="1.24" fill="#06066a" opacity="0.55"/>
<circle cx="243.25" cy="353.35" r="0.88" fill="#06066a" opacity="0.55"/>
<circle cx="243.29" cy="356.79" r="0.78" fill="#06066a" opacity="0.55"/>
<circle cx="228.49" cy="347.55" r="1.27" fill="#06066a" opacity="0.55"/>
<circle cx="232.90" cy="345.35" r="0.91" fill="#06066a" opacity="0.55"/>
<circle cx="241.39" cy="358.28" r="1.29" fill="#06066a" opacity="0.55"/>
<circle cx="236.36" cy="352.32" r="0.78" fill="#06066a" opacity="0.55"/>
<circle cx="230.22" cy="357.66" r="1.23" fill="#06066a" opacity="0.55"/>
<circle cx="237.15" cy="348.76" r="1.15" fill="#06066a" opacity="0.55"/>
<circle cx="233.92" cy="343.19" r="1.29" fill="#06066a" opacity="0.55"/>
<circle cx="239.64" cy="351.73" r="1.13" fill="#06066a" opacity="0.55"/>
<circle cx="243.78" cy="347.61" r="0.81" fill="#06066a" opacity="0.55"/>
<circle cx="228.54" cy="346.07" r="0.67" fill="#06066a" opacity="0.55"/>
<circle cx="233.69" cy="354.76" r="0.69" fill="#06066a" opacity="0.55"/>
<circle cx="231.84" cy="350.96" r="0.77" fill="#06066a" opacity="0.55"/>
<circle cx="241.22" cy="356.55" r="0.61" fill="#06066a" opacity="0.55"/>
<circle cx="235.07" cy="346.44" r="0.63" fill="#06066a" opacity="0.55"/>
<circle cx="240.30" cy="348.55" r="1.25" fill="#06066a" opacity="0.55"/>
<circle cx="242.42" cy="343.91" r="0.70" fill="#06066a" opacity="0.55"/>
<circle cx="233.00" cy="351.46" r="1.25" fill="#06066a" opacity="0.55"/>
<circle cx="240.41" cy="344.26" r="0.92" fill="#06066a" opacity="0.55"/>
<circle cx="231.06" cy="357.71" r="0.93" fill="#06066a" opacity="0.55"/>
<circle cx="233.33" cy="347.95" r="0.76" fill="#06066a" opacity="0.55"/>
<circle cx="244.07" cy="353.27" r="0.99" fill="#06066a" opacity="0.55"/>
<circle cx="241.85" cy="357.41" r="0.79" fill="#06066a" opacity="0.55"/>
<circle cx="232.58" cy="352.45" r="0.79" fill="#06066a" opacity="0.55"/>
<circle cx="239.13" cy="345.90" r="0.72" fill="#06066a" opacity="0.55"/>
<circle cx="230.26" cy="350.81" r="1.23" fill="#06066a" opacity="0.55"/>
<circle cx="243.60" cy="356.60" r="0.64" fill="#06066a" opacity="0.55"/>
<circle cx="242.57" cy="345.78" r="0.75" fill="#06066a" opacity="0.55"/>
<circle cx="230.60" cy="351.22" r="0.78" fill="#06066a" opacity="0.55"/>
<circle cx="237.85" cy="355.91" r="1.29" fill="#06066a" opacity="0.55"/>
<circle cx="244.44" cy="350.38" r="0.88" fill="#2a2aff" opacity="0.6"/>
<circle cx="234.00" cy="357.80" r="0.85" fill="#2a2aff" opacity="0.6"/>
<circle cx="235.60" cy="348.06" r="1.58" fill="#2a2aff" opacity="0.6"/>
<circle cx="243.32" cy="351.18" r="1.07" fill="#2a2aff" opacity="0.6"/>
<circle cx="236.01" cy="350.51" r="1.47" fill="#2a2aff" opacity="0.6"/>
<circle cx="234.33" cy="350.24" r="1.15" fill="#2a2aff" opacity="0.6"/>
<circle cx="237.69" cy="349.53" r="1.26" fill="#2a2aff" opacity="0.6"/>
<circle cx="237.06" cy="351.65" r="1.42" fill="#2a2aff" opacity="0.6"/>
</g>
<circle cx="235.62" cy="349.10" r="0.45" fill="#44dd66"/>
<circle cx="236.61" cy="350.81" r="0.45" fill="#44dd66"/>
<circle cx="232.93" cy="348.21" r="0.45" fill="#44dd66"/>
<circle cx="235.76" cy="352.00" r="0.45" fill="#44dd66"/>
<line x1="240.40" y1="367.20" x2="253.00" y2="367.20" stroke="#bdbdbd" stroke-width="0.7"/>
<text x="218.80" y="365.70" font-size="4.5" text-anchor="start" fill="#f4f4f4" style="">Res</text>
<rect x="264.80" y="334.90" width="36.60" height="33.40" fill="#000" stroke="none" stroke-width="0"/>
<g filter="url(#soft)">
<path d="M295.37,353.00 C295.39,353.98 295.35,355.03 295.09,355.97 C294.83,356.91 294.32,357.81 293.81,358.64 C293.30,359.47 292.65,360.18 292.01,360.95 C291.38,361.71 290.78,362.53 290.01,363.24 C289.24,363.95 288.38,364.79 287.41,365.20 C286.44,365.61 285.23,365.83 284.20,365.69 C283.17,365.55 282.09,364.92 281.21,364.36 C280.32,363.80 279.64,362.97 278.90,362.35 C278.15,361.72 277.47,361.21 276.72,360.61 C275.97,360.01 275.08,359.50 274.42,358.75 C273.76,358.00 273.10,357.08 272.76,356.12 C272.42,355.16 272.35,354.03 272.37,353.00 C272.39,351.97 272.62,350.92 272.87,349.91 C273.13,348.90 273.41,347.86 273.89,346.94 C274.37,346.03 274.98,345.06 275.75,344.40 C276.52,343.74 277.56,343.27 278.51,342.97 C279.46,342.67 280.51,342.71 281.46,342.60 C282.41,342.48 283.25,342.43 284.20,342.29 C285.15,342.15 286.13,341.79 287.16,341.76 C288.19,341.72 289.42,341.70 290.40,342.08 C291.37,342.47 292.33,343.24 292.98,344.06 C293.64,344.89 294.00,346.05 294.33,347.05 C294.67,348.05 294.80,349.07 294.98,350.06 C295.15,351.05 295.35,352.02 295.37,353.00 Z" fill="url(#nuc)" transform="rotate(0 284.2 353.0)"/>
<circle cx="281.75" cy="343.91" r="1.01" fill="#06066a" opacity="0.55"/>
<circle cx="284.98" cy="355.56" r="1.11" fill="#06066a" opacity="0.55"/>
<circle cx="276.88" cy="357.86" r="0.64" fill="#06066a" opacity="0.55"/>
<circle cx="286.40" cy="347.37" r="1.19" fill="#06066a" opacity="0.55"/>
<circle cx="288.94" cy="347.46" r="0.61" fill="#06066a" opacity="0.55"/>
<circle cx="290.19" cy="349.12" r="1.21" fill="#06066a" opacity="0.55"/>
<circle cx="283.75" cy="357.49" r="1.18" fill="#06066a" opacity="0.55"/>
<circle cx="281.41" cy="356.14" r="0.86" fill="#06066a" opacity="0.55"/>
<circle cx="283.62" cy="352.60" r="0.96" fill="#06066a" opacity="0.55"/>
<circle cx="277.24" cy="355.52" r="0.68" fill="#06066a" opacity="0.55"/>
<circle cx="282.13" cy="343.78" r="1.21" fill="#06066a" opacity="0.55"/>
<circle cx="280.47" cy="360.97" r="0.87" fill="#06066a" opacity="0.55"/>
<circle cx="284.21" cy="350.41" r="1.21" fill="#06066a" opacity="0.55"/>
<circle cx="291.13" cy="350.88" r="0.96" fill="#06066a" opacity="0.55"/>
<circle cx="276.80" cy="351.55" r="0.61" fill="#06066a" opacity="0.55"/>
<circle cx="288.96" cy="351.98" r="0.73" fill="#06066a" opacity="0.55"/>
<circle cx="288.31" cy="356.15" r="1.17" fill="#06066a" opacity="0.55"/>
<circle cx="287.34" cy="353.61" r="1.09" fill="#06066a" opacity="0.55"/>
<circle cx="284.66" cy="354.31" r="1.02" fill="#06066a" opacity="0.55"/>
<circle cx="277.60" cy="349.51" r="1.09" fill="#06066a" opacity="0.55"/>
<circle cx="291.86" cy="358.87" r="1.10" fill="#06066a" opacity="0.55"/>
<circle cx="287.66" cy="354.03" r="0.95" fill="#06066a" opacity="0.55"/>
<circle cx="278.76" cy="352.98" r="0.69" fill="#06066a" opacity="0.55"/>
<circle cx="281.05" cy="355.17" r="1.01" fill="#06066a" opacity="0.55"/>
<circle cx="286.73" cy="349.92" r="1.00" fill="#06066a" opacity="0.55"/>
<circle cx="284.10" cy="348.76" r="1.18" fill="#06066a" opacity="0.55"/>
<circle cx="290.12" cy="350.49" r="0.89" fill="#06066a" opacity="0.55"/>
<circle cx="288.17" cy="346.58" r="0.88" fill="#06066a" opacity="0.55"/>
<circle cx="292.65" cy="349.65" r="0.84" fill="#06066a" opacity="0.55"/>
<circle cx="284.56" cy="359.05" r="0.90" fill="#06066a" opacity="0.55"/>
<circle cx="293.36" cy="351.87" r="1.24" fill="#06066a" opacity="0.55"/>
<circle cx="287.94" cy="344.15" r="0.64" fill="#06066a" opacity="0.55"/>
<circle cx="274.19" cy="351.90" r="1.25" fill="#06066a" opacity="0.55"/>
<circle cx="284.24" cy="359.80" r="1.04" fill="#06066a" opacity="0.55"/>
<circle cx="280.99" cy="356.74" r="0.86" fill="#2a2aff" opacity="0.6"/>
<circle cx="279.96" cy="354.94" r="0.82" fill="#2a2aff" opacity="0.6"/>
<circle cx="289.92" cy="359.97" r="1.42" fill="#2a2aff" opacity="0.6"/>
<circle cx="289.57" cy="350.70" r="1.45" fill="#2a2aff" opacity="0.6"/>
<circle cx="290.27" cy="347.48" r="0.83" fill="#2a2aff" opacity="0.6"/>
<circle cx="282.66" cy="351.07" r="1.34" fill="#2a2aff" opacity="0.6"/>
<circle cx="283.47" cy="358.02" r="1.54" fill="#2a2aff" opacity="0.6"/>
<circle cx="282.53" cy="351.38" r="1.22" fill="#2a2aff" opacity="0.6"/>
</g>
<circle cx="277.20" cy="356.16" r="0.45" fill="#44dd66"/>
<circle cx="283.63" cy="355.43" r="0.45" fill="#44dd66"/>
<circle cx="283.62" cy="352.21" r="0.45" fill="#44dd66"/>
<circle cx="277.81" cy="348.64" r="0.45" fill="#44dd66"/>
<line x1="288.20" y1="367.20" x2="300.80" y2="367.20" stroke="#bdbdbd" stroke-width="0.7"/>
<text x="266.00" y="365.70" font-size="4.5" text-anchor="start" fill="#f4f4f4" style="">NAC+SF</text>
<rect x="312.50" y="334.90" width="36.40" height="33.40" fill="#000" stroke="none" stroke-width="0"/>
<g filter="url(#soft)">
<path d="M340.45,349.60 C340.40,350.45 340.39,351.30 340.18,352.12 C339.98,352.94 339.67,353.78 339.22,354.49 C338.77,355.21 338.11,355.82 337.47,356.40 C336.84,356.98 336.15,357.45 335.43,357.97 C334.71,358.49 334.00,359.09 333.16,359.50 C332.32,359.92 331.34,360.40 330.40,360.48 C329.46,360.55 328.36,360.36 327.51,359.97 C326.66,359.58 325.92,358.78 325.28,358.13 C324.64,357.48 324.22,356.71 323.68,356.06 C323.14,355.42 322.58,354.89 322.03,354.25 C321.48,353.60 320.79,352.95 320.40,352.18 C320.00,351.40 319.70,350.47 319.65,349.60 C319.60,348.73 319.83,347.79 320.09,346.94 C320.35,346.09 320.76,345.28 321.20,344.49 C321.65,343.71 322.13,342.90 322.77,342.26 C323.40,341.62 324.19,341.00 325.03,340.65 C325.86,340.30 326.88,340.22 327.78,340.19 C328.67,340.16 329.55,340.40 330.40,340.48 C331.25,340.55 332.01,340.60 332.89,340.65 C333.77,340.71 334.76,340.60 335.68,340.81 C336.59,341.02 337.66,341.35 338.39,341.92 C339.11,342.49 339.69,343.40 340.04,344.25 C340.39,345.09 340.42,346.11 340.49,347.00 C340.56,347.89 340.50,348.75 340.45,349.60 Z" fill="url(#nuc)" transform="rotate(0 330.4 349.6)"/>
<circle cx="329.67" cy="355.67" r="0.97" fill="#06066a" opacity="0.55"/>
<circle cx="332.35" cy="352.13" r="0.69" fill="#06066a" opacity="0.55"/>
<circle cx="328.80" cy="355.09" r="0.80" fill="#06066a" opacity="0.55"/>
<circle cx="330.52" cy="352.25" r="0.98" fill="#06066a" opacity="0.55"/>
<circle cx="334.27" cy="343.69" r="1.00" fill="#06066a" opacity="0.55"/>
<circle cx="327.95" cy="346.35" r="1.10" fill="#06066a" opacity="0.55"/>
<circle cx="323.72" cy="351.22" r="1.03" fill="#06066a" opacity="0.55"/>
<circle cx="325.32" cy="350.57" r="0.77" fill="#06066a" opacity="0.55"/>
<circle cx="331.59" cy="355.90" r="0.87" fill="#06066a" opacity="0.55"/>
<circle cx="329.53" cy="349.10" r="0.85" fill="#06066a" opacity="0.55"/>
<circle cx="333.33" cy="346.26" r="0.99" fill="#06066a" opacity="0.55"/>
<circle cx="325.44" cy="349.87" r="1.29" fill="#06066a" opacity="0.55"/>
<circle cx="328.10" cy="357.14" r="0.71" fill="#06066a" opacity="0.55"/>
<circle cx="338.33" cy="353.00" r="0.91" fill="#06066a" opacity="0.55"/>
<circle cx="335.76" cy="351.72" r="0.91" fill="#06066a" opacity="0.55"/>
<circle cx="330.11" cy="346.66" r="0.76" fill="#06066a" opacity="0.55"/>
<circle cx="338.13" cy="347.63" r="0.71" fill="#06066a" opacity="0.55"/>
<circle cx="327.53" cy="354.14" r="1.07" fill="#06066a" opacity="0.55"/>
<circle cx="324.00" cy="344.11" r="1.17" fill="#06066a" opacity="0.55"/>
<circle cx="322.45" cy="348.76" r="1.12" fill="#06066a" opacity="0.55"/>
<circle cx="330.77" cy="343.44" r="1.15" fill="#06066a" opacity="0.55"/>
<circle cx="328.09" cy="341.34" r="0.69" fill="#06066a" opacity="0.55"/>
<circle cx="330.82" cy="349.17" r="1.14" fill="#06066a" opacity="0.55"/>
<circle cx="324.76" cy="346.37" r="1.27" fill="#06066a" opacity="0.55"/>
<circle cx="324.99" cy="347.08" r="1.15" fill="#06066a" opacity="0.55"/>
<circle cx="335.44" cy="344.59" r="0.87" fill="#06066a" opacity="0.55"/>
<circle cx="324.39" cy="351.40" r="1.11" fill="#06066a" opacity="0.55"/>
<circle cx="328.86" cy="354.99" r="0.99" fill="#06066a" opacity="0.55"/>
<circle cx="326.46" cy="352.97" r="1.15" fill="#06066a" opacity="0.55"/>
<circle cx="334.24" cy="344.47" r="0.91" fill="#06066a" opacity="0.55"/>
<circle cx="332.46" cy="354.12" r="0.70" fill="#06066a" opacity="0.55"/>
<circle cx="324.08" cy="346.50" r="0.66" fill="#06066a" opacity="0.55"/>
<circle cx="335.03" cy="347.14" r="1.19" fill="#06066a" opacity="0.55"/>
<circle cx="335.17" cy="342.14" r="0.74" fill="#06066a" opacity="0.55"/>
<circle cx="323.62" cy="352.86" r="0.81" fill="#2a2aff" opacity="0.6"/>
<circle cx="334.89" cy="350.93" r="1.20" fill="#2a2aff" opacity="0.6"/>
<circle cx="336.04" cy="346.61" r="1.23" fill="#2a2aff" opacity="0.6"/>
<circle cx="334.70" cy="349.54" r="1.21" fill="#2a2aff" opacity="0.6"/>
<circle cx="329.11" cy="346.74" r="1.09" fill="#2a2aff" opacity="0.6"/>
<circle cx="327.98" cy="348.03" r="1.56" fill="#2a2aff" opacity="0.6"/>
<circle cx="328.44" cy="345.84" r="0.88" fill="#2a2aff" opacity="0.6"/>
<circle cx="328.05" cy="351.88" r="1.25" fill="#2a2aff" opacity="0.6"/>
</g>
<circle cx="324.67" cy="346.85" r="0.45" fill="#44dd66"/>
<circle cx="333.85" cy="348.84" r="0.45" fill="#44dd66"/>
<circle cx="326.17" cy="351.21" r="0.45" fill="#44dd66"/>
<circle cx="332.90" cy="349.53" r="0.45" fill="#44dd66"/>
<line x1="335.70" y1="367.20" x2="348.30" y2="367.20" stroke="#bdbdbd" stroke-width="0.7"/>
<text x="313.70" y="365.70" font-size="4.5" text-anchor="start" fill="#f4f4f4" style="">NAC+Res</text>
<rect x="358.80" y="334.90" width="36.60" height="33.40" fill="#000" stroke="none" stroke-width="0"/>
<g filter="url(#soft)">
<path d="M390.82,349.10 C390.78,350.10 390.79,351.12 390.57,352.08 C390.35,353.04 390.00,354.03 389.51,354.87 C389.03,355.71 388.33,356.42 387.67,357.11 C387.00,357.80 386.30,358.39 385.54,359.03 C384.79,359.66 384.04,360.41 383.15,360.90 C382.26,361.39 381.20,361.92 380.20,361.98 C379.20,362.03 378.06,361.73 377.17,361.24 C376.28,360.75 375.53,359.79 374.85,359.04 C374.18,358.28 373.71,357.44 373.11,356.70 C372.52,355.97 371.87,355.38 371.27,354.63 C370.68,353.87 369.94,353.09 369.54,352.17 C369.13,351.24 368.86,350.13 368.82,349.10 C368.78,348.07 369.04,346.98 369.32,345.97 C369.59,344.97 369.99,343.99 370.46,343.07 C370.92,342.14 371.43,341.17 372.11,340.42 C372.79,339.67 373.65,338.97 374.54,338.59 C375.43,338.20 376.51,338.14 377.45,338.11 C378.40,338.07 379.30,338.32 380.20,338.38 C381.10,338.43 381.92,338.40 382.86,338.44 C383.80,338.48 384.88,338.34 385.85,338.60 C386.82,338.86 387.93,339.31 388.67,340.01 C389.42,340.72 389.97,341.82 390.33,342.83 C390.68,343.84 390.70,345.01 390.79,346.06 C390.87,347.10 390.86,348.10 390.82,349.10 Z" fill="url(#nuc)" transform="rotate(0 380.2 349.1)"/>
<circle cx="381.83" cy="345.10" r="0.82" fill="#06066a" opacity="0.55"/>
<circle cx="389.06" cy="347.77" r="0.96" fill="#06066a" opacity="0.55"/>
<circle cx="387.35" cy="355.48" r="1.08" fill="#06066a" opacity="0.55"/>
<circle cx="384.38" cy="339.60" r="1.22" fill="#06066a" opacity="0.55"/>
<circle cx="376.78" cy="351.10" r="0.80" fill="#06066a" opacity="0.55"/>
<circle cx="373.23" cy="348.57" r="0.73" fill="#06066a" opacity="0.55"/>
<circle cx="383.42" cy="356.73" r="1.02" fill="#06066a" opacity="0.55"/>
<circle cx="374.29" cy="357.49" r="1.05" fill="#06066a" opacity="0.55"/>
<circle cx="386.29" cy="350.88" r="1.15" fill="#06066a" opacity="0.55"/>
<circle cx="377.35" cy="357.32" r="0.60" fill="#06066a" opacity="0.55"/>
<circle cx="377.18" cy="358.23" r="1.01" fill="#06066a" opacity="0.55"/>
<circle cx="378.04" cy="345.03" r="0.95" fill="#06066a" opacity="0.55"/>
<circle cx="375.40" cy="347.32" r="1.05" fill="#06066a" opacity="0.55"/>
<circle cx="370.56" cy="347.05" r="1.00" fill="#06066a" opacity="0.55"/>
<circle cx="377.29" cy="351.05" r="0.71" fill="#06066a" opacity="0.55"/>
<circle cx="380.38" cy="345.66" r="0.67" fill="#06066a" opacity="0.55"/>
<circle cx="383.61" cy="355.80" r="1.18" fill="#06066a" opacity="0.55"/>
<circle cx="373.49" cy="342.94" r="0.64" fill="#06066a" opacity="0.55"/>
<circle cx="388.81" cy="349.83" r="0.83" fill="#06066a" opacity="0.55"/>
<circle cx="378.93" cy="342.97" r="0.72" fill="#06066a" opacity="0.55"/>
<circle cx="379.88" cy="352.41" r="1.23" fill="#06066a" opacity="0.55"/>
<circle cx="375.14" cy="346.03" r="0.91" fill="#06066a" opacity="0.55"/>
<circle cx="378.47" cy="350.73" r="1.22" fill="#06066a" opacity="0.55"/>
<circle cx="371.82" cy="343.99" r="0.91" fill="#06066a" opacity="0.55"/>
<circle cx="376.62" cy="345.50" r="0.63" fill="#06066a" opacity="0.55"/>
<circle cx="388.44" cy="344.96" r="0.82" fill="#06066a" opacity="0.55"/>
<circle cx="387.34" cy="343.42" r="0.81" fill="#06066a" opacity="0.55"/>
<circle cx="372.48" cy="342.90" r="0.95" fill="#06066a" opacity="0.55"/>
<circle cx="384.80" cy="347.47" r="0.87" fill="#06066a" opacity="0.55"/>
<circle cx="379.28" cy="344.23" r="0.82" fill="#06066a" opacity="0.55"/>
<circle cx="385.04" cy="343.90" r="1.15" fill="#06066a" opacity="0.55"/>
<circle cx="380.37" cy="353.49" r="0.85" fill="#06066a" opacity="0.55"/>
<circle cx="383.97" cy="358.68" r="0.80" fill="#06066a" opacity="0.55"/>
<circle cx="377.11" cy="347.76" r="0.97" fill="#06066a" opacity="0.55"/>
<circle cx="377.53" cy="351.61" r="0.85" fill="#2a2aff" opacity="0.6"/>
<circle cx="385.40" cy="354.55" r="1.08" fill="#2a2aff" opacity="0.6"/>
<circle cx="380.25" cy="350.90" r="1.03" fill="#2a2aff" opacity="0.6"/>
<circle cx="380.22" cy="349.43" r="1.33" fill="#2a2aff" opacity="0.6"/>
<circle cx="379.46" cy="350.34" r="1.36" fill="#2a2aff" opacity="0.6"/>
<circle cx="382.18" cy="350.50" r="1.47" fill="#2a2aff" opacity="0.6"/>
<circle cx="382.91" cy="352.11" r="1.47" fill="#2a2aff" opacity="0.6"/>
<circle cx="380.67" cy="347.68" r="1.08" fill="#2a2aff" opacity="0.6"/>
</g>
<circle cx="379.69" cy="346.03" r="0.45" fill="#44dd66"/>
<circle cx="381.75" cy="348.65" r="0.45" fill="#44dd66"/>
<circle cx="383.90" cy="347.82" r="0.45" fill="#44dd66"/>
<circle cx="380.70" cy="352.80" r="0.45" fill="#44dd66"/>
<line x1="382.20" y1="367.20" x2="394.80" y2="367.20" stroke="#bdbdbd" stroke-width="0.7"/>
<text x="360.00" y="365.70" font-size="4.5" text-anchor="start" fill="#f4f4f4" style="">SF+Res</text>
<rect x="404.80" y="334.90" width="36.30" height="33.40" fill="#000" stroke="none" stroke-width="0"/>
<g filter="url(#soft)">
<path d="M436.52,350.90 C436.66,351.76 436.41,352.77 435.99,353.58 C435.57,354.38 434.70,355.10 433.97,355.75 C433.25,356.39 432.42,356.92 431.63,357.45 C430.83,357.99 430.09,358.54 429.22,358.96 C428.34,359.39 427.38,359.78 426.39,359.99 C425.41,360.19 424.32,360.20 423.30,360.17 C422.28,360.15 421.29,359.99 420.25,359.86 C419.21,359.72 418.14,359.63 417.09,359.37 C416.04,359.10 414.82,358.80 413.96,358.25 C413.09,357.70 412.30,356.89 411.91,356.08 C411.51,355.26 411.55,354.23 411.58,353.37 C411.62,352.51 411.98,351.69 412.12,350.90 C412.26,350.11 412.30,349.40 412.42,348.61 C412.54,347.81 412.52,346.94 412.84,346.15 C413.17,345.36 413.68,344.51 414.37,343.87 C415.07,343.24 416.06,342.74 417.02,342.33 C417.97,341.93 419.03,341.67 420.08,341.44 C421.13,341.21 422.22,341.00 423.30,340.97 C424.38,340.95 425.57,341.02 426.57,341.31 C427.56,341.61 428.51,342.18 429.29,342.74 C430.06,343.30 430.59,344.05 431.21,344.67 C431.84,345.30 432.38,345.86 433.04,346.48 C433.69,347.10 434.57,347.66 435.15,348.40 C435.73,349.14 436.38,350.04 436.52,350.90 Z" fill="url(#nuc)" transform="rotate(-8 423.3 350.9)"/>
<circle cx="421.78" cy="346.68" r="1.23" fill="#06066a" opacity="0.55"/>
<circle cx="417.65" cy="348.18" r="0.77" fill="#06066a" opacity="0.55"/>
<circle cx="419.38" cy="348.42" r="1.21" fill="#06066a" opacity="0.55"/>
<circle cx="428.91" cy="355.19" r="0.98" fill="#06066a" opacity="0.55"/>
<circle cx="422.08" cy="358.38" r="0.87" fill="#06066a" opacity="0.55"/>
<circle cx="418.77" cy="345.50" r="0.82" fill="#06066a" opacity="0.55"/>
<circle cx="420.84" cy="352.51" r="0.72" fill="#06066a" opacity="0.55"/>
<circle cx="426.95" cy="346.97" r="1.06" fill="#06066a" opacity="0.55"/>
<circle cx="429.64" cy="354.97" r="0.85" fill="#06066a" opacity="0.55"/>
<circle cx="417.35" cy="350.90" r="0.65" fill="#06066a" opacity="0.55"/>
<circle cx="421.35" cy="354.69" r="0.69" fill="#06066a" opacity="0.55"/>
<circle cx="422.08" cy="346.44" r="0.88" fill="#06066a" opacity="0.55"/>
<circle cx="431.36" cy="346.79" r="1.22" fill="#06066a" opacity="0.55"/>
<circle cx="425.84" cy="348.51" r="0.79" fill="#06066a" opacity="0.55"/>
<circle cx="432.14" cy="352.21" r="1.06" fill="#06066a" opacity="0.55"/>
<circle cx="419.14" cy="355.34" r="1.06" fill="#06066a" opacity="0.55"/>
<circle cx="421.58" cy="346.84" r="1.19" fill="#06066a" opacity="0.55"/>
<circle cx="418.13" cy="356.36" r="0.73" fill="#06066a" opacity="0.55"/>
<circle cx="431.11" cy="356.33" r="1.11" fill="#06066a" opacity="0.55"/>
<circle cx="422.78" cy="349.22" r="0.63" fill="#06066a" opacity="0.55"/>
<circle cx="425.85" cy="354.15" r="0.81" fill="#06066a" opacity="0.55"/>
<circle cx="421.72" cy="352.06" r="0.82" fill="#06066a" opacity="0.55"/>
<circle cx="420.31" cy="348.13" r="1.19" fill="#06066a" opacity="0.55"/>
<circle cx="414.94" cy="347.81" r="0.78" fill="#06066a" opacity="0.55"/>
<circle cx="415.02" cy="353.73" r="0.84" fill="#06066a" opacity="0.55"/>
<circle cx="433.27" cy="350.95" r="1.14" fill="#06066a" opacity="0.55"/>
<circle cx="422.79" cy="352.63" r="1.20" fill="#06066a" opacity="0.55"/>
<circle cx="421.44" cy="349.74" r="0.77" fill="#06066a" opacity="0.55"/>
<circle cx="430.74" cy="355.81" r="0.75" fill="#06066a" opacity="0.55"/>
<circle cx="431.40" cy="347.08" r="0.66" fill="#06066a" opacity="0.55"/>
<circle cx="420.95" cy="345.84" r="1.12" fill="#06066a" opacity="0.55"/>
<circle cx="426.03" cy="346.89" r="0.66" fill="#06066a" opacity="0.55"/>
<circle cx="430.00" cy="349.04" r="1.25" fill="#06066a" opacity="0.55"/>
<circle cx="419.92" cy="344.02" r="1.18" fill="#06066a" opacity="0.55"/>
<circle cx="420.23" cy="348.40" r="0.84" fill="#2a2aff" opacity="0.6"/>
<circle cx="421.96" cy="347.78" r="1.21" fill="#2a2aff" opacity="0.6"/>
<circle cx="424.42" cy="350.47" r="1.41" fill="#2a2aff" opacity="0.6"/>
<circle cx="429.90" cy="352.36" r="1.44" fill="#2a2aff" opacity="0.6"/>
<circle cx="422.93" cy="355.09" r="1.58" fill="#2a2aff" opacity="0.6"/>
<circle cx="419.84" cy="347.73" r="1.00" fill="#2a2aff" opacity="0.6"/>
<circle cx="426.55" cy="351.90" r="1.13" fill="#2a2aff" opacity="0.6"/>
<circle cx="424.21" cy="353.17" r="0.91" fill="#2a2aff" opacity="0.6"/>
</g>
<circle cx="421.76" cy="346.56" r="0.45" fill="#44dd66"/>
<circle cx="423.46" cy="352.52" r="0.45" fill="#44dd66"/>
<circle cx="419.52" cy="350.62" r="0.45" fill="#44dd66"/>
<circle cx="426.06" cy="349.97" r="0.45" fill="#44dd66"/>
<line x1="427.90" y1="367.20" x2="440.50" y2="367.20" stroke="#bdbdbd" stroke-width="0.7"/>
<text x="406.00" y="365.70" font-size="4.5" text-anchor="start" fill="#f4f4f4" style="">NAC+SF+Res</text>
<path d="M297.5,294.0 H301.4 V299.8 Q298,298.5 297.5,294.0 Z" fill="#1a22e0"/>
<path d="M392.2,334.9 H395.4 V337.9 Q393,337.5 392.2,334.9 Z" fill="#1a22e0"/>
<circle cx="278.40" cy="350.00" r="2.8" fill="#000010" opacity="0.85"/>
<circle cx="290.40" cy="355.20" r="3.2" fill="#000010" opacity="0.85"/>
<text x="37.5" y="298.8" font-size="4.6" textLength="23.4" lengthAdjust="spacingAndGlyphs"><tspan fill="#3030a0">DAPI</tspan><tspan fill="#5fbf3a">/p-p53</tspan></text>
<text x="37.5" y="339.3" font-size="4.6" textLength="26.0" lengthAdjust="spacingAndGlyphs"><tspan fill="#3030a0">DAPI</tspan><tspan fill="#5fbf3a">/γ-H2AX</tspan></text>
<text x="8.50" y="394.00" font-size="11.7" text-anchor="start" fill="#000" style="font-weight:bold;">F</text>
<text x="67.70" y="401.20" font-size="8.8" text-anchor="start" fill="#231f20" stroke="#231f20" stroke-width="0.14" textLength="53.00" lengthAdjust="spacingAndGlyphs" style="">hCD45+ cells</text>
<line x1="45.50" y1="430.80" x2="45.50" y2="504.07" stroke="#000" stroke-width="1.15"/>
<line x1="42.30" y1="503.50" x2="45.50" y2="503.50" stroke="#000" stroke-width="1.15"/>
<text x="39.70" y="506.02" font-size="7.0" text-anchor="end" fill="#231f20" stroke="#231f20" stroke-width="0.14" style="">0</text>
<line x1="42.30" y1="480.20" x2="45.50" y2="480.20" stroke="#000" stroke-width="1.15"/>
<text x="39.70" y="482.72" font-size="7.0" text-anchor="end" fill="#231f20" stroke="#231f20" stroke-width="0.14" style="">20</text>
<line x1="42.30" y1="456.80" x2="45.50" y2="456.80" stroke="#000" stroke-width="1.15"/>
<text x="39.70" y="459.32" font-size="7.0" text-anchor="end" fill="#231f20" stroke="#231f20" stroke-width="0.14" style="">40</text>
<line x1="42.30" y1="433.30" x2="45.50" y2="433.30" stroke="#000" stroke-width="1.15"/>
<text x="39.70" y="435.82" font-size="7.0" text-anchor="end" fill="#231f20" stroke="#231f20" stroke-width="0.14" style="">60</text>
<line x1="45.50" y1="503.50" x2="142.80" y2="503.50" stroke="#000" stroke-width="1.15"/>
<line x1="57.70" y1="503.50" x2="57.70" y2="506.40" stroke="#000" stroke-width="1.15"/>
<line x1="76.00" y1="503.50" x2="76.00" y2="506.40" stroke="#000" stroke-width="1.15"/>
<line x1="94.20" y1="503.50" x2="94.20" y2="506.40" stroke="#000" stroke-width="1.15"/>
<line x1="112.60" y1="503.50" x2="112.60" y2="506.40" stroke="#000" stroke-width="1.15"/>
<line x1="130.80" y1="503.50" x2="130.80" y2="506.40" stroke="#000" stroke-width="1.15"/>
<text x="57.70" y="515.40" font-size="7.0" text-anchor="middle" fill="#231f20" stroke="#231f20" stroke-width="0.14" textLength="11.40" lengthAdjust="spacingAndGlyphs" style="">Ctrl</text>
<text x="76.00" y="515.40" font-size="7.0" text-anchor="middle" fill="#231f20" stroke="#231f20" stroke-width="0.14" textLength="13.80" lengthAdjust="spacingAndGlyphs" style="">RIBE</text>
<text x="94.20" y="515.40" font-size="7.0" text-anchor="middle" fill="#231f20" stroke="#231f20" stroke-width="0.14" textLength="14.30" lengthAdjust="spacingAndGlyphs" style="">NAC</text>
<text x="112.60" y="515.40" font-size="7.0" text-anchor="middle" fill="#231f20" stroke="#231f20" stroke-width="0.14" textLength="7.40" lengthAdjust="spacingAndGlyphs" style="">SF</text>
<text x="130.80" y="515.40" font-size="7.0" text-anchor="middle" fill="#231f20" stroke="#231f20" stroke-width="0.14" textLength="10.50" lengthAdjust="spacingAndGlyphs" style="">Res</text>
<text transform="translate(23.40,466.50) rotate(-90)" x="0" y="3.24" font-size="9.0" text-anchor="middle" fill="#231f20" stroke="#231f20" stroke-width="0.14" textLength="59.80" lengthAdjust="spacingAndGlyphs">hCD45+ in BM (%)</text>
<circle cx="57.70" cy="468.10" r="1.32" fill="#263b68"/>
<circle cx="57.70" cy="474.10" r="1.32" fill="#263b68"/>
<circle cx="57.70" cy="480.50" r="1.32" fill="#263b68"/>
<circle cx="55.40" cy="484.60" r="1.32" fill="#263b68"/>
<circle cx="59.70" cy="488.30" r="1.32" fill="#263b68"/>
<circle cx="59.70" cy="495.80" r="1.32" fill="#263b68"/>
<circle cx="55.40" cy="498.10" r="1.32" fill="#263b68"/>
<circle cx="75.90" cy="484.80" r="1.32" fill="#c0061e"/>
<circle cx="75.90" cy="491.20" r="1.32" fill="#c0061e"/>
<circle cx="73.70" cy="494.40" r="1.32" fill="#c0061e"/>
<circle cx="77.80" cy="497.10" r="1.32" fill="#c0061e"/>
<circle cx="71.80" cy="500.10" r="1.32" fill="#c0061e"/>
<circle cx="80.00" cy="501.80" r="1.32" fill="#c0061e"/>
<circle cx="75.90" cy="502.80" r="1.32" fill="#c0061e"/>
<circle cx="94.20" cy="437.50" r="1.32" fill="#263b68"/>
<circle cx="94.20" cy="454.30" r="1.32" fill="#263b68"/>
<circle cx="94.20" cy="480.80" r="1.32" fill="#263b68"/>
<circle cx="94.20" cy="485.60" r="1.32" fill="#263b68"/>
<circle cx="94.20" cy="491.00" r="1.32" fill="#263b68"/>
<circle cx="94.20" cy="500.60" r="1.32" fill="#263b68"/>
<rect x="108.95" y="454.95" width="2.50" height="2.50" fill="#8078c4" stroke="none" stroke-width="0"/>
<rect x="113.35" y="452.35" width="2.50" height="2.50" fill="#8078c4" stroke="none" stroke-width="0"/>
<rect x="108.95" y="468.95" width="2.50" height="2.50" fill="#8078c4" stroke="none" stroke-width="0"/>
<rect x="113.35" y="471.75" width="2.50" height="2.50" fill="#8078c4" stroke="none" stroke-width="0"/>
<rect x="111.45" y="483.35" width="2.50" height="2.50" fill="#8078c4" stroke="none" stroke-width="0"/>
<rect x="108.95" y="491.45" width="2.50" height="2.50" fill="#8078c4" stroke="none" stroke-width="0"/>
<rect x="113.35" y="494.95" width="2.50" height="2.50" fill="#8078c4" stroke="none" stroke-width="0"/>
<rect x="110.75" y="501.05" width="2.50" height="2.50" fill="#8078c4" stroke="none" stroke-width="0"/>
<circle cx="130.40" cy="476.30" r="1.32" fill="#4ea52b"/>
<circle cx="133.30" cy="479.80" r="1.32" fill="#4ea52b"/>
<circle cx="128.50" cy="483.00" r="1.32" fill="#4ea52b"/>
<circle cx="133.30" cy="488.50" r="1.32" fill="#4ea52b"/>
<circle cx="128.50" cy="489.80" r="1.32" fill="#4ea52b"/>
<circle cx="132.00" cy="492.00" r="1.32" fill="#4ea52b"/>
<circle cx="130.40" cy="496.70" r="1.32" fill="#4ea52b"/>
<line x1="51.70" y1="484.00" x2="63.70" y2="484.00" stroke="#000" stroke-width="1.0"/>
<line x1="57.70" y1="480.00" x2="57.70" y2="488.00" stroke="#000" stroke-width="1.0"/>
<line x1="54.80" y1="480.00" x2="60.60" y2="480.00" stroke="#000" stroke-width="1.0"/>
<line x1="54.80" y1="488.00" x2="60.60" y2="488.00" stroke="#000" stroke-width="1.0"/>
<line x1="70.00" y1="496.20" x2="82.00" y2="496.20" stroke="#000" stroke-width="1.0"/>
<line x1="76.00" y1="493.80" x2="76.00" y2="498.00" stroke="#000" stroke-width="1.0"/>
<line x1="73.10" y1="493.80" x2="78.90" y2="493.80" stroke="#000" stroke-width="1.0"/>
<line x1="73.10" y1="498.00" x2="78.90" y2="498.00" stroke="#000" stroke-width="1.0"/>
<line x1="88.20" y1="475.00" x2="100.20" y2="475.00" stroke="#000" stroke-width="1.0"/>
<line x1="94.20" y1="465.20" x2="94.20" y2="485.20" stroke="#000" stroke-width="1.0"/>
<line x1="91.30" y1="465.20" x2="97.10" y2="465.20" stroke="#000" stroke-width="1.0"/>
<line x1="91.30" y1="485.20" x2="97.10" y2="485.20" stroke="#000" stroke-width="1.0"/>
<line x1="106.60" y1="478.50" x2="118.60" y2="478.50" stroke="#000" stroke-width="1.0"/>
<line x1="112.60" y1="472.30" x2="112.60" y2="485.00" stroke="#000" stroke-width="1.0"/>
<line x1="109.70" y1="472.30" x2="115.50" y2="472.30" stroke="#000" stroke-width="1.0"/>
<line x1="109.70" y1="485.00" x2="115.50" y2="485.00" stroke="#000" stroke-width="1.0"/>
<line x1="124.80" y1="486.20" x2="136.80" y2="486.20" stroke="#000" stroke-width="1.0"/>
<line x1="130.80" y1="483.00" x2="130.80" y2="489.40" stroke="#000" stroke-width="1.0"/>
<line x1="127.90" y1="483.00" x2="133.70" y2="483.00" stroke="#000" stroke-width="1.0"/>
<line x1="127.90" y1="489.40" x2="133.70" y2="489.40" stroke="#000" stroke-width="1.0"/>
<path d="M57.70,464.00 V460.20 H76.00 V464.00" fill="none" stroke="#1e1e1e" stroke-width="1.0"/>
<path d="M76.00,434.00 V430.40 H94.20 V434.00" fill="none" stroke="#1e1e1e" stroke-width="1.0"/>
<path d="M76.00,425.10 V421.50 H112.60 V425.10" fill="none" stroke="#1e1e1e" stroke-width="1.0"/>
<path d="M76.00,416.10 V412.50 H130.80 V416.10" fill="none" stroke="#1e1e1e" stroke-width="1.0"/>
<circle cx="67.00" cy="457.00" r="0.95" fill="#3a3a3a"/>
<circle cx="85.20" cy="427.00" r="0.95" fill="#3a3a3a"/>
<circle cx="94.20" cy="418.30" r="0.95" fill="#3a3a3a"/>
<circle cx="103.50" cy="408.70" r="0.95" fill="#3a3a3a"/>
<text x="322.30" y="394.00" font-size="11.7" text-anchor="start" fill="#000" style="font-weight:bold;">G</text>
<text x="375.50" y="401.20" font-size="8.8" text-anchor="start" fill="#231f20" stroke="#231f20" stroke-width="0.14" textLength="78.60" lengthAdjust="spacingAndGlyphs" style="">hCD34+CD38- cells</text>
<line x1="366.10" y1="430.80" x2="366.10" y2="503.97" stroke="#000" stroke-width="1.15"/>
<line x1="362.90" y1="503.30" x2="366.10" y2="503.30" stroke="#000" stroke-width="1.15"/>
<text x="359.70" y="505.82" font-size="7.0" text-anchor="end" fill="#231f20" stroke="#231f20" stroke-width="0.14" style="">0</text>
<line x1="362.90" y1="480.20" x2="366.10" y2="480.20" stroke="#000" stroke-width="1.15"/>
<text x="359.70" y="482.72" font-size="7.0" text-anchor="end" fill="#231f20" stroke="#231f20" stroke-width="0.14" style="">1</text>
<line x1="362.90" y1="457.00" x2="366.10" y2="457.00" stroke="#000" stroke-width="1.15"/>
<text x="359.70" y="459.52" font-size="7.0" text-anchor="end" fill="#231f20" stroke="#231f20" stroke-width="0.14" style="">2</text>
<line x1="362.90" y1="433.50" x2="366.10" y2="433.50" stroke="#000" stroke-width="1.15"/>
<text x="359.70" y="436.02" font-size="7.0" text-anchor="end" fill="#231f20" stroke="#231f20" stroke-width="0.14" style="">3</text>
<line x1="366.10" y1="503.40" x2="463.40" y2="503.40" stroke="#000" stroke-width="1.15"/>
<line x1="378.30" y1="503.40" x2="378.30" y2="506.30" stroke="#000" stroke-width="1.15"/>
<line x1="396.20" y1="503.40" x2="396.20" y2="506.30" stroke="#000" stroke-width="1.15"/>
<line x1="414.80" y1="503.40" x2="414.80" y2="506.30" stroke="#000" stroke-width="1.15"/>
<line x1="433.00" y1="503.40" x2="433.00" y2="506.30" stroke="#000" stroke-width="1.15"/>
<line x1="451.30" y1="503.40" x2="451.30" y2="506.30" stroke="#000" stroke-width="1.15"/>
<text x="378.30" y="515.20" font-size="7.0" text-anchor="middle" fill="#231f20" stroke="#231f20" stroke-width="0.14" textLength="11.40" lengthAdjust="spacingAndGlyphs" style="">Ctrl</text>
<text x="396.20" y="515.20" font-size="7.0" text-anchor="middle" fill="#231f20" stroke="#231f20" stroke-width="0.14" textLength="13.80" lengthAdjust="spacingAndGlyphs" style="">RIBE</text>
<text x="414.80" y="515.20" font-size="7.0" text-anchor="middle" fill="#231f20" stroke="#231f20" stroke-width="0.14" textLength="14.30" lengthAdjust="spacingAndGlyphs" style="">NAC</text>
<text x="433.00" y="515.20" font-size="7.0" text-anchor="middle" fill="#231f20" stroke="#231f20" stroke-width="0.14" textLength="7.40" lengthAdjust="spacingAndGlyphs" style="">SF</text>
<text x="451.30" y="515.20" font-size="7.0" text-anchor="middle" fill="#231f20" stroke="#231f20" stroke-width="0.14" textLength="10.50" lengthAdjust="spacingAndGlyphs" style="">Res</text>
<text transform="translate(344.00,466.90) rotate(-90)" x="0" y="3.24" font-size="9.0" text-anchor="middle" fill="#231f20" stroke="#231f20" stroke-width="0.14" textLength="78.70" lengthAdjust="spacingAndGlyphs">hCD34+CD38- in BM (%)</text>
<circle cx="378.30" cy="444.40" r="1.32" fill="#263b68"/>
<circle cx="376.00" cy="451.70" r="1.32" fill="#263b68"/>
<circle cx="380.60" cy="448.80" r="1.32" fill="#263b68"/>
<circle cx="378.30" cy="465.60" r="1.32" fill="#263b68"/>
<circle cx="378.30" cy="472.00" r="1.32" fill="#263b68"/>
<circle cx="378.30" cy="477.00" r="1.32" fill="#263b68"/>
<circle cx="378.30" cy="484.40" r="1.32" fill="#263b68"/>
<rect x="392.95" y="466.25" width="2.50" height="2.50" fill="#c0061e" stroke="none" stroke-width="0"/>
<rect x="397.25" y="469.75" width="2.50" height="2.50" fill="#c0061e" stroke="none" stroke-width="0"/>
<rect x="395.25" y="477.45" width="2.50" height="2.50" fill="#c0061e" stroke="none" stroke-width="0"/>
<rect x="392.95" y="485.05" width="2.50" height="2.50" fill="#c0061e" stroke="none" stroke-width="0"/>
<rect x="397.25" y="487.05" width="2.50" height="2.50" fill="#c0061e" stroke="none" stroke-width="0"/>
<rect x="397.25" y="492.75" width="2.50" height="2.50" fill="#c0061e" stroke="none" stroke-width="0"/>
<rect x="392.95" y="495.25" width="2.50" height="2.50" fill="#c0061e" stroke="none" stroke-width="0"/>
<circle cx="414.80" cy="457.00" r="1.32" fill="#263b68"/>
<circle cx="416.90" cy="457.00" r="1.32" fill="#263b68"/>
<circle cx="412.30" cy="461.00" r="1.32" fill="#263b68"/>
<circle cx="414.80" cy="469.00" r="1.32" fill="#263b68"/>
<circle cx="416.70" cy="481.20" r="1.32" fill="#263b68"/>
<circle cx="412.30" cy="482.50" r="1.32" fill="#263b68"/>
<rect x="431.45" y="447.95" width="2.50" height="2.50" fill="#8078c4" stroke="none" stroke-width="0"/>
<rect x="431.45" y="454.35" width="2.50" height="2.50" fill="#8078c4" stroke="none" stroke-width="0"/>
<rect x="431.45" y="459.75" width="2.50" height="2.50" fill="#8078c4" stroke="none" stroke-width="0"/>
<rect x="431.45" y="464.95" width="2.50" height="2.50" fill="#8078c4" stroke="none" stroke-width="0"/>
<rect x="431.45" y="470.75" width="2.50" height="2.50" fill="#8078c4" stroke="none" stroke-width="0"/>
<rect x="431.45" y="476.05" width="2.50" height="2.50" fill="#8078c4" stroke="none" stroke-width="0"/>
<rect x="431.45" y="480.75" width="2.50" height="2.50" fill="#8078c4" stroke="none" stroke-width="0"/>
<rect x="431.45" y="488.35" width="2.50" height="2.50" fill="#8078c4" stroke="none" stroke-width="0"/>
<circle cx="448.80" cy="447.00" r="1.32" fill="#4ea52b"/>
<circle cx="453.30" cy="450.20" r="1.32" fill="#4ea52b"/>
<circle cx="451.30" cy="458.00" r="1.32" fill="#4ea52b"/>
<circle cx="451.30" cy="468.50" r="1.32" fill="#4ea52b"/>
<circle cx="448.80" cy="483.00" r="1.32" fill="#4ea52b"/>
<circle cx="453.80" cy="483.00" r="1.32" fill="#4ea52b"/>
<line x1="372.30" y1="463.30" x2="384.30" y2="463.30" stroke="#000" stroke-width="1.0"/>
<line x1="378.30" y1="457.50" x2="378.30" y2="469.40" stroke="#000" stroke-width="1.0"/>
<line x1="375.40" y1="457.50" x2="381.20" y2="457.50" stroke="#000" stroke-width="1.0"/>
<line x1="375.40" y1="469.40" x2="381.20" y2="469.40" stroke="#000" stroke-width="1.0"/>
<line x1="390.20" y1="483.00" x2="402.20" y2="483.00" stroke="#000" stroke-width="1.0"/>
<line x1="396.20" y1="478.70" x2="396.20" y2="487.00" stroke="#000" stroke-width="1.0"/>
<line x1="393.30" y1="478.70" x2="399.10" y2="478.70" stroke="#000" stroke-width="1.0"/>
<line x1="393.30" y1="487.00" x2="399.10" y2="487.00" stroke="#000" stroke-width="1.0"/>
<line x1="408.80" y1="468.00" x2="420.80" y2="468.00" stroke="#000" stroke-width="1.0"/>
<line x1="414.80" y1="463.60" x2="414.80" y2="472.50" stroke="#000" stroke-width="1.0"/>
<line x1="411.90" y1="463.60" x2="417.70" y2="463.60" stroke="#000" stroke-width="1.0"/>
<line x1="411.90" y1="472.50" x2="417.70" y2="472.50" stroke="#000" stroke-width="1.0"/>
<line x1="427.00" y1="469.00" x2="439.00" y2="469.00" stroke="#000" stroke-width="1.0"/>
<line x1="433.00" y1="464.60" x2="433.00" y2="473.80" stroke="#000" stroke-width="1.0"/>
<line x1="430.10" y1="464.60" x2="435.90" y2="464.60" stroke="#000" stroke-width="1.0"/>
<line x1="430.10" y1="473.80" x2="435.90" y2="473.80" stroke="#000" stroke-width="1.0"/>
<line x1="445.30" y1="465.20" x2="457.30" y2="465.20" stroke="#000" stroke-width="1.0"/>
<line x1="451.30" y1="458.50" x2="451.30" y2="472.00" stroke="#000" stroke-width="1.0"/>
<line x1="448.40" y1="458.50" x2="454.20" y2="458.50" stroke="#000" stroke-width="1.0"/>
<line x1="448.40" y1="472.00" x2="454.20" y2="472.00" stroke="#000" stroke-width="1.0"/>
<path d="M378.30,441.70 V438.70 H396.20 V441.70" fill="none" stroke="#1e1e1e" stroke-width="1.0"/>
<path d="M396.20,441.70 V438.70 H433.00 V441.70" fill="none" stroke="#1e1e1e" stroke-width="1.0"/>
<path d="M396.20,450.90 V447.90 H414.80 V450.90" fill="none" stroke="#1e1e1e" stroke-width="1.0"/>
<path d="M396.20,431.70 V428.70 H451.30 V431.70" fill="none" stroke="#1e1e1e" stroke-width="1.0"/>
<circle cx="387.30" cy="435.40" r="0.95" fill="#3a3a3a"/>
<circle cx="414.80" cy="435.40" r="0.95" fill="#3a3a3a"/>
<circle cx="405.60" cy="444.40" r="0.95" fill="#3a3a3a"/>
<circle cx="424.00" cy="425.40" r="0.95" fill="#3a3a3a"/>
<text x="8.00" y="542.90" font-size="11.7" text-anchor="start" fill="#000" style="font-weight:bold;">H</text>
<text x="53.60" y="549.60" font-size="8.8" text-anchor="start" fill="#231f20" stroke="#231f20" stroke-width="0.14" textLength="81.40" lengthAdjust="spacingAndGlyphs" style="">hCD34+CD38+ cells</text>
<line x1="45.80" y1="566.30" x2="45.80" y2="639.58" stroke="#000" stroke-width="1.15"/>
<line x1="42.60" y1="638.80" x2="45.80" y2="638.80" stroke="#000" stroke-width="1.15"/>
<text x="39.40" y="641.32" font-size="7.0" text-anchor="end" fill="#231f20" stroke="#231f20" stroke-width="0.14" style="">0</text>
<line x1="42.60" y1="615.80" x2="45.80" y2="615.80" stroke="#000" stroke-width="1.15"/>
<text x="39.40" y="618.32" font-size="7.0" text-anchor="end" fill="#231f20" stroke="#231f20" stroke-width="0.14" style="">5</text>
<line x1="42.60" y1="592.40" x2="45.80" y2="592.40" stroke="#000" stroke-width="1.15"/>
<text x="39.40" y="594.92" font-size="7.0" text-anchor="end" fill="#231f20" stroke="#231f20" stroke-width="0.14" style="">10</text>
<line x1="42.60" y1="568.90" x2="45.80" y2="568.90" stroke="#000" stroke-width="1.15"/>
<text x="39.40" y="571.42" font-size="7.0" text-anchor="end" fill="#231f20" stroke="#231f20" stroke-width="0.14" style="">15</text>
<line x1="45.80" y1="639.00" x2="142.80" y2="639.00" stroke="#000" stroke-width="1.15"/>
<line x1="57.70" y1="639.00" x2="57.70" y2="641.90" stroke="#000" stroke-width="1.15"/>
<line x1="76.00" y1="639.00" x2="76.00" y2="641.90" stroke="#000" stroke-width="1.15"/>
<line x1="94.20" y1="639.00" x2="94.20" y2="641.90" stroke="#000" stroke-width="1.15"/>
<line x1="112.70" y1="639.00" x2="112.70" y2="641.90" stroke="#000" stroke-width="1.15"/>
<line x1="130.60" y1="639.00" x2="130.60" y2="641.90" stroke="#000" stroke-width="1.15"/>
<text x="57.70" y="650.80" font-size="7.0" text-anchor="middle" fill="#231f20" stroke="#231f20" stroke-width="0.14" textLength="11.40" lengthAdjust="spacingAndGlyphs" style="">Ctrl</text>
<text x="76.00" y="650.80" font-size="7.0" text-anchor="middle" fill="#231f20" stroke="#231f20" stroke-width="0.14" textLength="13.80" lengthAdjust="spacingAndGlyphs" style="">RIBE</text>
<text x="94.20" y="650.80" font-size="7.0" text-anchor="middle" fill="#231f20" stroke="#231f20" stroke-width="0.14" textLength="14.30" lengthAdjust="spacingAndGlyphs" style="">NAC</text>
<text x="112.70" y="650.80" font-size="7.0" text-anchor="middle" fill="#231f20" stroke="#231f20" stroke-width="0.14" textLength="7.40" lengthAdjust="spacingAndGlyphs" style="">SF</text>
<text x="130.60" y="650.80" font-size="7.0" text-anchor="middle" fill="#231f20" stroke="#231f20" stroke-width="0.14" textLength="10.50" lengthAdjust="spacingAndGlyphs" style="">Res</text>
<text transform="translate(23.60,603.00) rotate(-90)" x="0" y="3.24" font-size="9.0" text-anchor="middle" fill="#231f20" stroke="#231f20" stroke-width="0.14" textLength="78.80" lengthAdjust="spacingAndGlyphs">hCD34+CD38- in BM (%)</text>
<circle cx="57.70" cy="595.60" r="1.32" fill="#263b68"/>
<circle cx="57.70" cy="607.10" r="1.32" fill="#263b68"/>
<circle cx="53.80" cy="625.00" r="1.32" fill="#263b68"/>
<circle cx="59.20" cy="627.00" r="1.32" fill="#263b68"/>
<circle cx="57.70" cy="628.30" r="1.32" fill="#263b68"/>
<circle cx="61.50" cy="627.30" r="1.32" fill="#263b68"/>
<circle cx="55.40" cy="628.30" r="1.32" fill="#263b68"/>
<circle cx="76.00" cy="617.30" r="1.32" fill="#c0061e"/>
<circle cx="76.00" cy="623.80" r="1.32" fill="#c0061e"/>
<circle cx="72.70" cy="627.00" r="1.32" fill="#c0061e"/>
<circle cx="78.50" cy="626.30" r="1.32" fill="#c0061e"/>
<circle cx="71.70" cy="631.50" r="1.32" fill="#c0061e"/>
<circle cx="74.60" cy="633.00" r="1.32" fill="#c0061e"/>
<circle cx="78.00" cy="632.70" r="1.32" fill="#c0061e"/>
<circle cx="80.40" cy="631.20" r="1.32" fill="#c0061e"/>
<circle cx="94.20" cy="581.50" r="1.32" fill="#263b68"/>
<circle cx="90.40" cy="624.40" r="1.32" fill="#263b68"/>
<circle cx="94.80" cy="626.30" r="1.32" fill="#263b68"/>
<circle cx="98.30" cy="623.50" r="1.32" fill="#263b68"/>
<circle cx="92.00" cy="630.20" r="1.32" fill="#263b68"/>
<rect x="108.95" y="585.25" width="2.50" height="2.50" fill="#8078c4" stroke="none" stroke-width="0"/>
<rect x="113.35" y="584.15" width="2.50" height="2.50" fill="#8078c4" stroke="none" stroke-width="0"/>
<rect x="111.45" y="599.75" width="2.50" height="2.50" fill="#8078c4" stroke="none" stroke-width="0"/>
<rect x="111.45" y="614.55" width="2.50" height="2.50" fill="#8078c4" stroke="none" stroke-width="0"/>
<rect x="111.45" y="620.25" width="2.50" height="2.50" fill="#8078c4" stroke="none" stroke-width="0"/>
<rect x="111.45" y="626.45" width="2.50" height="2.50" fill="#8078c4" stroke="none" stroke-width="0"/>
<rect x="111.45" y="631.45" width="2.50" height="2.50" fill="#8078c4" stroke="none" stroke-width="0"/>
<circle cx="128.50" cy="603.80" r="1.32" fill="#4ea52b"/>
<circle cx="132.70" cy="600.40" r="1.32" fill="#4ea52b"/>
<circle cx="128.50" cy="615.80" r="1.32" fill="#4ea52b"/>
<circle cx="131.50" cy="614.50" r="1.32" fill="#4ea52b"/>
<circle cx="128.50" cy="626.30" r="1.32" fill="#4ea52b"/>
<circle cx="133.30" cy="626.30" r="1.32" fill="#4ea52b"/>
<line x1="51.70" y1="619.60" x2="63.70" y2="619.60" stroke="#000" stroke-width="1.0"/>
<line x1="57.70" y1="614.40" x2="57.70" y2="624.40" stroke="#000" stroke-width="1.0"/>
<line x1="54.80" y1="614.40" x2="60.60" y2="614.40" stroke="#000" stroke-width="1.0"/>
<line x1="54.80" y1="624.40" x2="60.60" y2="624.40" stroke="#000" stroke-width="1.0"/>
<line x1="70.00" y1="628.30" x2="82.00" y2="628.30" stroke="#000" stroke-width="1.0"/>
<line x1="76.00" y1="626.30" x2="76.00" y2="629.80" stroke="#000" stroke-width="1.0"/>
<line x1="73.10" y1="626.30" x2="78.90" y2="626.30" stroke="#000" stroke-width="1.0"/>
<line x1="73.10" y1="629.80" x2="78.90" y2="629.80" stroke="#000" stroke-width="1.0"/>
<line x1="88.20" y1="618.70" x2="100.20" y2="618.70" stroke="#000" stroke-width="1.0"/>
<line x1="94.20" y1="611.50" x2="94.20" y2="626.30" stroke="#000" stroke-width="1.0"/>
<line x1="91.30" y1="611.50" x2="97.10" y2="611.50" stroke="#000" stroke-width="1.0"/>
<line x1="91.30" y1="626.30" x2="97.10" y2="626.30" stroke="#000" stroke-width="1.0"/>
<line x1="106.70" y1="610.40" x2="118.70" y2="610.40" stroke="#000" stroke-width="1.0"/>
<line x1="112.70" y1="604.20" x2="112.70" y2="617.30" stroke="#000" stroke-width="1.0"/>
<line x1="109.80" y1="604.20" x2="115.60" y2="604.20" stroke="#000" stroke-width="1.0"/>
<line x1="109.80" y1="617.30" x2="115.60" y2="617.30" stroke="#000" stroke-width="1.0"/>
<line x1="124.60" y1="614.80" x2="136.60" y2="614.80" stroke="#000" stroke-width="1.0"/>
<line x1="130.60" y1="610.40" x2="130.60" y2="617.70" stroke="#000" stroke-width="1.0"/>
<line x1="127.70" y1="610.40" x2="133.50" y2="610.40" stroke="#000" stroke-width="1.0"/>
<line x1="127.70" y1="617.70" x2="133.50" y2="617.70" stroke="#000" stroke-width="1.0"/>
<path d="M76.00,580.70 V577.50 H112.70 V580.70" fill="none" stroke="#1e1e1e" stroke-width="1.0"/>
<path d="M76.00,571.10 V567.90 H130.60 V571.10" fill="none" stroke="#1e1e1e" stroke-width="1.0"/>
<circle cx="94.20" cy="573.80" r="0.95" fill="#3a3a3a"/>
<circle cx="103.30" cy="564.20" r="0.95" fill="#3a3a3a"/>
<text x="161.50" y="542.90" font-size="11.7" text-anchor="start" fill="#000" style="font-weight:bold;">I</text>
<text x="208.60" y="549.60" font-size="8.8" text-anchor="start" fill="#231f20" stroke="#231f20" stroke-width="0.14" textLength="75.40" lengthAdjust="spacingAndGlyphs" style="">hCD45+ cells in SP</text>
<line x1="197.50" y1="566.30" x2="197.50" y2="639.58" stroke="#000" stroke-width="1.15"/>
<line x1="194.30" y1="638.80" x2="197.50" y2="638.80" stroke="#000" stroke-width="1.15"/>
<text x="192.70" y="641.32" font-size="7.0" text-anchor="end" fill="#231f20" stroke="#231f20" stroke-width="0.14" style="">0</text>
<line x1="194.30" y1="615.80" x2="197.50" y2="615.80" stroke="#000" stroke-width="1.15"/>
<text x="192.70" y="618.32" font-size="7.0" text-anchor="end" fill="#231f20" stroke="#231f20" stroke-width="0.14" style="">10</text>
<line x1="194.30" y1="592.40" x2="197.50" y2="592.40" stroke="#000" stroke-width="1.15"/>
<text x="192.70" y="594.92" font-size="7.0" text-anchor="end" fill="#231f20" stroke="#231f20" stroke-width="0.14" style="">20</text>
<line x1="194.30" y1="568.80" x2="197.50" y2="568.80" stroke="#000" stroke-width="1.15"/>
<text x="192.70" y="571.32" font-size="7.0" text-anchor="end" fill="#231f20" stroke="#231f20" stroke-width="0.14" style="">30</text>
<line x1="197.50" y1="639.00" x2="294.80" y2="639.00" stroke="#000" stroke-width="1.15"/>
<line x1="209.80" y1="639.00" x2="209.80" y2="641.90" stroke="#000" stroke-width="1.15"/>
<line x1="227.50" y1="639.00" x2="227.50" y2="641.90" stroke="#000" stroke-width="1.15"/>
<line x1="246.20" y1="639.00" x2="246.20" y2="641.90" stroke="#000" stroke-width="1.15"/>
<line x1="264.00" y1="639.00" x2="264.00" y2="641.90" stroke="#000" stroke-width="1.15"/>
<line x1="282.30" y1="639.00" x2="282.30" y2="641.90" stroke="#000" stroke-width="1.15"/>
<text x="209.80" y="650.80" font-size="7.0" text-anchor="middle" fill="#231f20" stroke="#231f20" stroke-width="0.14" textLength="11.40" lengthAdjust="spacingAndGlyphs" style="">Ctrl</text>
<text x="227.50" y="650.80" font-size="7.0" text-anchor="middle" fill="#231f20" stroke="#231f20" stroke-width="0.14" textLength="13.80" lengthAdjust="spacingAndGlyphs" style="">RIBE</text>
<text x="246.20" y="650.80" font-size="7.0" text-anchor="middle" fill="#231f20" stroke="#231f20" stroke-width="0.14" textLength="14.30" lengthAdjust="spacingAndGlyphs" style="">NAC</text>
<text x="264.00" y="650.80" font-size="7.0" text-anchor="middle" fill="#231f20" stroke="#231f20" stroke-width="0.14" textLength="7.40" lengthAdjust="spacingAndGlyphs" style="">SF</text>
<text x="282.30" y="650.80" font-size="7.0" text-anchor="middle" fill="#231f20" stroke="#231f20" stroke-width="0.14" textLength="10.50" lengthAdjust="spacingAndGlyphs" style="">Res</text>
<text transform="translate(175.90,602.60) rotate(-90)" x="0" y="3.24" font-size="9.0" text-anchor="middle" fill="#231f20" stroke="#231f20" stroke-width="0.14" textLength="57.50" lengthAdjust="spacingAndGlyphs">hCD45+ in SP (%)</text>
<circle cx="209.80" cy="602.70" r="1.32" fill="#263b68"/>
<circle cx="212.10" cy="608.50" r="1.32" fill="#263b68"/>
<circle cx="207.30" cy="611.30" r="1.32" fill="#263b68"/>
<circle cx="209.80" cy="623.00" r="1.32" fill="#263b68"/>
<circle cx="205.40" cy="633.00" r="1.32" fill="#263b68"/>
<circle cx="213.50" cy="633.00" r="1.32" fill="#263b68"/>
<circle cx="209.80" cy="636.50" r="1.32" fill="#263b68"/>
<circle cx="228.00" cy="628.70" r="1.32" fill="#c0061e"/>
<circle cx="224.20" cy="633.50" r="1.32" fill="#c0061e"/>
<circle cx="226.50" cy="635.00" r="1.32" fill="#c0061e"/>
<circle cx="229.40" cy="634.00" r="1.32" fill="#c0061e"/>
<circle cx="232.00" cy="635.00" r="1.32" fill="#c0061e"/>
<circle cx="225.60" cy="637.90" r="1.32" fill="#c0061e"/>
<circle cx="229.40" cy="637.90" r="1.32" fill="#c0061e"/>
<circle cx="243.80" cy="602.70" r="1.32" fill="#263b68"/>
<circle cx="248.30" cy="601.70" r="1.32" fill="#263b68"/>
<circle cx="246.20" cy="614.80" r="1.32" fill="#263b68"/>
<circle cx="246.20" cy="619.00" r="1.32" fill="#263b68"/>
<circle cx="246.20" cy="628.30" r="1.32" fill="#263b68"/>
<circle cx="246.20" cy="636.30" r="1.32" fill="#263b68"/>
<rect x="262.75" y="610.05" width="2.50" height="2.50" fill="#8078c4" stroke="none" stroke-width="0"/>
<rect x="262.75" y="614.95" width="2.50" height="2.50" fill="#8078c4" stroke="none" stroke-width="0"/>
<rect x="259.55" y="625.05" width="2.50" height="2.50" fill="#8078c4" stroke="none" stroke-width="0"/>
<rect x="265.25" y="625.05" width="2.50" height="2.50" fill="#8078c4" stroke="none" stroke-width="0"/>
<rect x="261.45" y="629.55" width="2.50" height="2.50" fill="#8078c4" stroke="none" stroke-width="0"/>
<rect x="265.25" y="629.55" width="2.50" height="2.50" fill="#8078c4" stroke="none" stroke-width="0"/>
<rect x="260.25" y="634.75" width="2.50" height="2.50" fill="#8078c4" stroke="none" stroke-width="0"/>
<rect x="265.25" y="634.75" width="2.50" height="2.50" fill="#8078c4" stroke="none" stroke-width="0"/>
<circle cx="282.30" cy="577.00" r="1.32" fill="#4ea52b"/>
<circle cx="282.30" cy="613.50" r="1.32" fill="#4ea52b"/>
<circle cx="284.80" cy="616.70" r="1.32" fill="#4ea52b"/>
<circle cx="282.30" cy="625.00" r="1.32" fill="#4ea52b"/>
<circle cx="279.40" cy="632.10" r="1.32" fill="#4ea52b"/>
<circle cx="284.80" cy="632.10" r="1.32" fill="#4ea52b"/>
<line x1="203.80" y1="621.50" x2="215.80" y2="621.50" stroke="#000" stroke-width="1.0"/>
<line x1="209.80" y1="616.30" x2="209.80" y2="626.70" stroke="#000" stroke-width="1.0"/>
<line x1="206.90" y1="616.30" x2="212.70" y2="616.30" stroke="#000" stroke-width="1.0"/>
<line x1="206.90" y1="626.70" x2="212.70" y2="626.70" stroke="#000" stroke-width="1.0"/>
<line x1="221.50" y1="635.00" x2="233.50" y2="635.00" stroke="#000" stroke-width="1.0"/>
<line x1="227.50" y1="633.50" x2="227.50" y2="636.30" stroke="#000" stroke-width="1.0"/>
<line x1="224.60" y1="633.50" x2="230.40" y2="633.50" stroke="#000" stroke-width="1.0"/>
<line x1="224.60" y1="636.30" x2="230.40" y2="636.30" stroke="#000" stroke-width="1.0"/>
<line x1="240.20" y1="617.10" x2="252.20" y2="617.10" stroke="#000" stroke-width="1.0"/>
<line x1="246.20" y1="611.50" x2="246.20" y2="622.10" stroke="#000" stroke-width="1.0"/>
<line x1="243.30" y1="611.50" x2="249.10" y2="611.50" stroke="#000" stroke-width="1.0"/>
<line x1="243.30" y1="622.10" x2="249.10" y2="622.10" stroke="#000" stroke-width="1.0"/>
<line x1="258.00" y1="626.70" x2="270.00" y2="626.70" stroke="#000" stroke-width="1.0"/>
<line x1="264.00" y1="623.50" x2="264.00" y2="629.20" stroke="#000" stroke-width="1.0"/>
<line x1="261.10" y1="623.50" x2="266.90" y2="623.50" stroke="#000" stroke-width="1.0"/>
<line x1="261.10" y1="629.20" x2="266.90" y2="629.20" stroke="#000" stroke-width="1.0"/>
<line x1="276.30" y1="616.20" x2="288.30" y2="616.20" stroke="#000" stroke-width="1.0"/>
<line x1="282.30" y1="607.10" x2="282.30" y2="624.40" stroke="#000" stroke-width="1.0"/>
<line x1="279.40" y1="607.10" x2="285.20" y2="607.10" stroke="#000" stroke-width="1.0"/>
<line x1="279.40" y1="624.40" x2="285.20" y2="624.40" stroke="#000" stroke-width="1.0"/>
<path d="M209.80,598.50 V595.60 H227.50 V598.50" fill="none" stroke="#1e1e1e" stroke-width="1.0"/>
<path d="M227.50,591.40 V588.50 H246.20 V591.40" fill="none" stroke="#1e1e1e" stroke-width="1.0"/>
<path d="M227.50,582.10 V579.20 H264.00 V582.10" fill="none" stroke="#1e1e1e" stroke-width="1.0"/>
<path d="M227.50,572.90 V570.00 H282.30 V572.90" fill="none" stroke="#1e1e1e" stroke-width="1.0"/>
<circle cx="218.80" cy="592.30" r="0.95" fill="#3a3a3a"/>
<circle cx="236.00" cy="584.60" r="0.95" fill="#3a3a3a"/>
<circle cx="238.20" cy="584.60" r="0.95" fill="#3a3a3a"/>
<circle cx="246.20" cy="575.40" r="0.95" fill="#3a3a3a"/>
<circle cx="255.40" cy="566.70" r="0.95" fill="#3a3a3a"/>
<line x1="197.30" y1="434.40" x2="197.30" y2="503.70" stroke="#000" stroke-width="1.15"/>
<line x1="196.80" y1="503.70" x2="302.70" y2="503.70" stroke="#000" stroke-width="1.15"/>
<line x1="197.30" y1="503.70" x2="197.30" y2="506.60" stroke="#000" stroke-width="1.1"/>
<text x="197.30" y="515.20" font-size="7.0" text-anchor="middle" fill="#231f20" stroke="#231f20" stroke-width="0.14" style="">0</text>
<line x1="223.20" y1="503.70" x2="223.20" y2="506.60" stroke="#000" stroke-width="1.1"/>
<text x="223.20" y="515.20" font-size="7.0" text-anchor="middle" fill="#231f20" stroke="#231f20" stroke-width="0.14" style="">1</text>
<line x1="249.10" y1="503.70" x2="249.10" y2="506.60" stroke="#000" stroke-width="1.1"/>
<text x="249.10" y="515.20" font-size="7.0" text-anchor="middle" fill="#231f20" stroke="#231f20" stroke-width="0.14" style="">2</text>
<line x1="275.00" y1="503.70" x2="275.00" y2="506.60" stroke="#000" stroke-width="1.1"/>
<text x="275.00" y="515.20" font-size="7.0" text-anchor="middle" fill="#231f20" stroke="#231f20" stroke-width="0.14" style="">3</text>
<line x1="300.90" y1="503.70" x2="300.90" y2="506.60" stroke="#000" stroke-width="1.1"/>
<text x="300.90" y="515.20" font-size="7.0" text-anchor="middle" fill="#231f20" stroke="#231f20" stroke-width="0.14" style="">4</text>
<rect x="197.75" y="438.00" width="66.11" height="8.20" fill="#4a5165" stroke="none" stroke-width="0"/>
<line x1="194.30" y1="442.10" x2="197.30" y2="442.10" stroke="#000" stroke-width="1.1"/>
<text x="191.20" y="444.60" font-size="7.0" text-anchor="end" fill="#231f20" stroke="#231f20" stroke-width="0.14" textLength="11.40" lengthAdjust="spacingAndGlyphs" style="">Ctrl</text>
<text x="266.86" y="444.10" font-size="5.6" text-anchor="start" fill="#231f20" stroke="#231f20" stroke-width="0.14" style="">2.6</text>
<rect x="197.75" y="451.20" width="25.45" height="8.20" fill="#a60f2d" stroke="none" stroke-width="0"/>
<line x1="194.30" y1="455.30" x2="197.30" y2="455.30" stroke="#000" stroke-width="1.1"/>
<text x="191.20" y="457.80" font-size="7.0" text-anchor="end" fill="#231f20" stroke="#231f20" stroke-width="0.14" textLength="13.80" lengthAdjust="spacingAndGlyphs" style="">RIBE</text>
<text x="226.20" y="457.30" font-size="5.6" text-anchor="start" fill="#231f20" stroke="#231f20" stroke-width="0.14" style="">1.0</text>
<rect x="197.75" y="464.20" width="97.45" height="8.20" fill="#27427e" stroke="none" stroke-width="0"/>
<line x1="194.30" y1="468.30" x2="197.30" y2="468.30" stroke="#000" stroke-width="1.1"/>
<text x="191.20" y="470.80" font-size="7.0" text-anchor="end" fill="#231f20" stroke="#231f20" stroke-width="0.14" textLength="14.30" lengthAdjust="spacingAndGlyphs" style="">NAC</text>
<text x="298.20" y="470.30" font-size="5.6" text-anchor="start" fill="#231f20" stroke="#231f20" stroke-width="0.14" style="">3.8</text>
<rect x="197.75" y="477.20" width="85.54" height="8.20" fill="#8e86c2" stroke="none" stroke-width="0"/>
<line x1="194.30" y1="481.30" x2="197.30" y2="481.30" stroke="#000" stroke-width="1.1"/>
<text x="191.20" y="483.80" font-size="7.0" text-anchor="end" fill="#231f20" stroke="#231f20" stroke-width="0.14" textLength="7.40" lengthAdjust="spacingAndGlyphs" style="">SF</text>
<text x="283.59" y="483.30" font-size="5.6" text-anchor="start" fill="#231f20" stroke="#231f20" stroke-width="0.14" style="">3.3</text>
<rect x="197.75" y="490.20" width="58.34" height="8.20" fill="#67a83a" stroke="none" stroke-width="0"/>
<line x1="194.30" y1="494.30" x2="197.30" y2="494.30" stroke="#000" stroke-width="1.1"/>
<text x="191.20" y="496.80" font-size="7.0" text-anchor="end" fill="#231f20" stroke="#231f20" stroke-width="0.14" textLength="10.50" lengthAdjust="spacingAndGlyphs" style="">Res</text>
<text x="256.39" y="496.30" font-size="5.6" text-anchor="start" fill="#231f20" stroke="#231f20" stroke-width="0.14" style="">2.3</text>
<line x1="223.20" y1="434.00" x2="223.20" y2="503.70" stroke="#111" stroke-width="0.9" stroke-dasharray="1.1,1.1"/>
<text transform="translate(169.40,469.00) rotate(-90)" x="0" y="2.74" font-size="7.6" text-anchor="middle" fill="#231f20" stroke="#231f20" stroke-width="0.14" textLength="86.00" lengthAdjust="spacingAndGlyphs">Fold difference engraftment</text>
<text x="323.60" y="543.00" font-size="11.7" text-anchor="start" fill="#000" style="font-weight:bold;">J</text>
<text x="414.60" y="550.00" font-size="9.0" text-anchor="start" fill="#231f20" stroke="#231f20" stroke-width="0.14" textLength="17.40" lengthAdjust="spacingAndGlyphs" style="">CFC</text>
<line x1="366.20" y1="560.30" x2="366.20" y2="639.78" stroke="#000" stroke-width="1.15"/>
<line x1="363.00" y1="639.20" x2="366.20" y2="639.20" stroke="#000" stroke-width="1.15"/>
<text x="360.40" y="641.72" font-size="7.0" text-anchor="end" fill="#231f20" stroke="#231f20" stroke-width="0.14" style="">0</text>
<line x1="363.00" y1="613.80" x2="366.20" y2="613.80" stroke="#000" stroke-width="1.15"/>
<text x="360.40" y="616.32" font-size="7.0" text-anchor="end" fill="#231f20" stroke="#231f20" stroke-width="0.14" style="">20</text>
<line x1="363.00" y1="588.50" x2="366.20" y2="588.50" stroke="#000" stroke-width="1.15"/>
<text x="360.40" y="591.02" font-size="7.0" text-anchor="end" fill="#231f20" stroke="#231f20" stroke-width="0.14" style="">40</text>
<line x1="363.00" y1="562.80" x2="366.20" y2="562.80" stroke="#000" stroke-width="1.15"/>
<text x="360.40" y="565.32" font-size="7.0" text-anchor="end" fill="#231f20" stroke="#231f20" stroke-width="0.14" style="">60</text>
<rect x="373.50" y="581.00" width="13.90" height="8.10" fill="#a9bd84" stroke="none" stroke-width="0"/>
<rect x="373.50" y="589.10" width="13.90" height="39.00" fill="#c4037c" stroke="none" stroke-width="0"/>
<rect x="373.50" y="628.10" width="13.90" height="11.10" fill="#4e2661" stroke="none" stroke-width="0"/>
<rect x="395.00" y="595.20" width="13.90" height="4.00" fill="#a9bd84" stroke="none" stroke-width="0"/>
<rect x="395.00" y="599.20" width="13.90" height="30.60" fill="#c4037c" stroke="none" stroke-width="0"/>
<rect x="395.00" y="629.80" width="13.90" height="9.40" fill="#4e2661" stroke="none" stroke-width="0"/>
<rect x="416.20" y="579.40" width="13.90" height="6.80" fill="#a9bd84" stroke="none" stroke-width="0"/>
<rect x="416.20" y="586.20" width="13.90" height="41.30" fill="#c4037c" stroke="none" stroke-width="0"/>
<rect x="416.20" y="627.50" width="13.90" height="11.70" fill="#4e2661" stroke="none" stroke-width="0"/>
<rect x="437.30" y="584.20" width="13.90" height="2.50" fill="#a9bd84" stroke="none" stroke-width="0"/>
<rect x="437.30" y="586.70" width="13.90" height="41.80" fill="#c4037c" stroke="none" stroke-width="0"/>
<rect x="437.30" y="628.50" width="13.90" height="10.70" fill="#4e2661" stroke="none" stroke-width="0"/>
<rect x="459.20" y="583.40" width="13.90" height="6.60" fill="#a9bd84" stroke="none" stroke-width="0"/>
<rect x="459.20" y="590.00" width="13.90" height="37.60" fill="#c4037c" stroke="none" stroke-width="0"/>
<rect x="459.20" y="627.60" width="13.90" height="11.60" fill="#4e2661" stroke="none" stroke-width="0"/>
<line x1="380.45" y1="581.00" x2="380.45" y2="577.00" stroke="#111" stroke-width="0.8"/>
<line x1="377.55" y1="577.00" x2="383.35" y2="577.00" stroke="#111" stroke-width="0.9"/>
<line x1="380.45" y1="589.10" x2="380.45" y2="593.80" stroke="#111" stroke-width="0.8"/>
<line x1="377.55" y1="593.80" x2="383.35" y2="593.80" stroke="#111" stroke-width="0.9"/>
<line x1="377.55" y1="589.10" x2="383.35" y2="589.10" stroke="#111" stroke-width="0.9"/>
<line x1="380.45" y1="628.10" x2="380.45" y2="625.20" stroke="#111" stroke-width="0.8"/>
<line x1="377.55" y1="625.20" x2="383.35" y2="625.20" stroke="#111" stroke-width="0.9"/>
<line x1="377.55" y1="628.10" x2="383.35" y2="628.10" stroke="#111" stroke-width="0.9"/>
<line x1="401.95" y1="595.20" x2="401.95" y2="593.30" stroke="#111" stroke-width="0.8"/>
<line x1="399.05" y1="593.30" x2="404.85" y2="593.30" stroke="#111" stroke-width="0.9"/>
<line x1="401.95" y1="599.60" x2="401.95" y2="603.00" stroke="#111" stroke-width="0.8"/>
<line x1="399.05" y1="603.00" x2="404.85" y2="603.00" stroke="#111" stroke-width="0.9"/>
<line x1="399.05" y1="599.60" x2="404.85" y2="599.60" stroke="#111" stroke-width="0.9"/>
<line x1="401.95" y1="629.80" x2="401.95" y2="627.50" stroke="#111" stroke-width="0.8"/>
<line x1="399.05" y1="627.50" x2="404.85" y2="627.50" stroke="#111" stroke-width="0.9"/>
<line x1="399.05" y1="629.80" x2="404.85" y2="629.80" stroke="#111" stroke-width="0.9"/>
<line x1="423.15" y1="579.40" x2="423.15" y2="578.00" stroke="#111" stroke-width="0.8"/>
<line x1="420.25" y1="578.00" x2="426.05" y2="578.00" stroke="#111" stroke-width="0.9"/>
<line x1="423.15" y1="586.20" x2="423.15" y2="593.30" stroke="#111" stroke-width="0.8"/>
<line x1="420.25" y1="593.30" x2="426.05" y2="593.30" stroke="#111" stroke-width="0.9"/>
<line x1="420.25" y1="586.20" x2="426.05" y2="586.20" stroke="#111" stroke-width="0.9"/>
<line x1="423.15" y1="627.50" x2="423.15" y2="622.00" stroke="#111" stroke-width="0.8"/>
<line x1="420.25" y1="622.00" x2="426.05" y2="622.00" stroke="#111" stroke-width="0.9"/>
<line x1="420.25" y1="627.50" x2="426.05" y2="627.50" stroke="#111" stroke-width="0.9"/>
<line x1="444.25" y1="584.20" x2="444.25" y2="582.30" stroke="#111" stroke-width="0.8"/>
<line x1="441.35" y1="582.30" x2="447.15" y2="582.30" stroke="#111" stroke-width="0.9"/>
<line x1="444.25" y1="586.70" x2="444.25" y2="594.40" stroke="#111" stroke-width="0.8"/>
<line x1="441.35" y1="594.40" x2="447.15" y2="594.40" stroke="#111" stroke-width="0.9"/>
<line x1="441.35" y1="586.70" x2="447.15" y2="586.70" stroke="#111" stroke-width="0.9"/>
<line x1="444.25" y1="628.50" x2="444.25" y2="624.60" stroke="#111" stroke-width="0.8"/>
<line x1="441.35" y1="624.60" x2="447.15" y2="624.60" stroke="#111" stroke-width="0.9"/>
<line x1="441.35" y1="628.50" x2="447.15" y2="628.50" stroke="#111" stroke-width="0.9"/>
<line x1="466.15" y1="583.40" x2="466.15" y2="581.30" stroke="#111" stroke-width="0.8"/>
<line x1="463.25" y1="581.30" x2="469.05" y2="581.30" stroke="#111" stroke-width="0.9"/>
<line x1="466.15" y1="590.00" x2="466.15" y2="597.00" stroke="#111" stroke-width="0.8"/>
<line x1="463.25" y1="597.00" x2="469.05" y2="597.00" stroke="#111" stroke-width="0.9"/>
<line x1="463.25" y1="590.00" x2="469.05" y2="590.00" stroke="#111" stroke-width="0.9"/>
<line x1="466.15" y1="627.60" x2="466.15" y2="626.00" stroke="#111" stroke-width="0.8"/>
<line x1="463.25" y1="626.00" x2="469.05" y2="626.00" stroke="#111" stroke-width="0.9"/>
<line x1="463.25" y1="627.60" x2="469.05" y2="627.60" stroke="#111" stroke-width="0.9"/>
<line x1="366.20" y1="639.20" x2="480.00" y2="639.20" stroke="#000" stroke-width="1.15"/>
<line x1="380.45" y1="639.20" x2="380.45" y2="642.10" stroke="#000" stroke-width="1.15"/>
<line x1="401.95" y1="639.20" x2="401.95" y2="642.10" stroke="#000" stroke-width="1.15"/>
<line x1="423.15" y1="639.20" x2="423.15" y2="642.10" stroke="#000" stroke-width="1.15"/>
<line x1="444.25" y1="639.20" x2="444.25" y2="642.10" stroke="#000" stroke-width="1.15"/>
<line x1="466.15" y1="639.20" x2="466.15" y2="642.10" stroke="#000" stroke-width="1.15"/>
<text x="380.45" y="650.80" font-size="7.0" text-anchor="middle" fill="#231f20" stroke="#231f20" stroke-width="0.14" textLength="11.40" lengthAdjust="spacingAndGlyphs" style="">Ctrl</text>
<text x="401.95" y="650.80" font-size="7.0" text-anchor="middle" fill="#231f20" stroke="#231f20" stroke-width="0.14" textLength="13.80" lengthAdjust="spacingAndGlyphs" style="">RIBE</text>
<text x="423.15" y="650.80" font-size="7.0" text-anchor="middle" fill="#231f20" stroke="#231f20" stroke-width="0.14" textLength="14.30" lengthAdjust="spacingAndGlyphs" style="">NAC</text>
<text x="444.25" y="650.80" font-size="7.0" text-anchor="middle" fill="#231f20" stroke="#231f20" stroke-width="0.14" textLength="7.40" lengthAdjust="spacingAndGlyphs" style="">SF</text>
<text x="466.15" y="650.80" font-size="7.0" text-anchor="middle" fill="#231f20" stroke="#231f20" stroke-width="0.14" textLength="10.50" lengthAdjust="spacingAndGlyphs" style="">Res</text>
<path d="M380.40,574.70 V570.90 H401.80 V574.70" fill="none" stroke="#1e1e1e" stroke-width="1.0"/>
<path d="M403.60,574.90 V571.10 H423.20 V574.90" fill="none" stroke="#1e1e1e" stroke-width="1.0"/>
<path d="M403.60,567.80 V564.00 H444.30 V567.80" fill="none" stroke="#1e1e1e" stroke-width="1.0"/>
<path d="M403.60,560.80 V557.00 H466.20 V560.80" fill="none" stroke="#1e1e1e" stroke-width="1.0"/>
<circle cx="389.20" cy="567.90" r="0.95" fill="#3a3a3a"/>
<circle cx="413.30" cy="567.90" r="0.95" fill="#3a3a3a"/>
<circle cx="424.20" cy="560.20" r="0.95" fill="#3a3a3a"/>
<circle cx="435.00" cy="553.50" r="0.95" fill="#3a3a3a"/>
<rect x="478.50" y="572.00" width="8.50" height="4.20" fill="#a9bd84" stroke="none" stroke-width="0"/>
<text x="490.00" y="576.10" font-size="5.6" text-anchor="start" fill="#231f20" stroke="#231f20" stroke-width="0.14" style="">CFU-MIX</text>
<rect x="478.50" y="580.80" width="8.50" height="4.20" fill="#c4037c" stroke="none" stroke-width="0"/>
<text x="490.00" y="584.90" font-size="5.6" text-anchor="start" fill="#231f20" stroke="#231f20" stroke-width="0.14" style="">CFU-GM</text>
<rect x="478.50" y="589.70" width="8.50" height="4.10" fill="#4e2661" stroke="none" stroke-width="0"/>
<text x="490.00" y="593.75" font-size="5.6" text-anchor="start" fill="#231f20" stroke="#231f20" stroke-width="0.14" style="">BFU-E</text>
<text transform="translate(343.80,599.20) rotate(-90)" x="0" y="3.24" font-size="9.0" text-anchor="middle" fill="#231f20" stroke="#231f20" stroke-width="0.14" textLength="69.20" lengthAdjust="spacingAndGlyphs">CFCs / 60 CD34+ cells</text>
<rect x="0" y="0" width="520" height="1.1" fill="#000"/><rect x="0" y="0" width="1.1" height="660" fill="#000"/><rect x="518.7" y="0" width="1.3" height="660" fill="#000"/><rect x="0" y="658.8" width="520" height="1.2" fill="#000"/>
</svg>
</body></html>
